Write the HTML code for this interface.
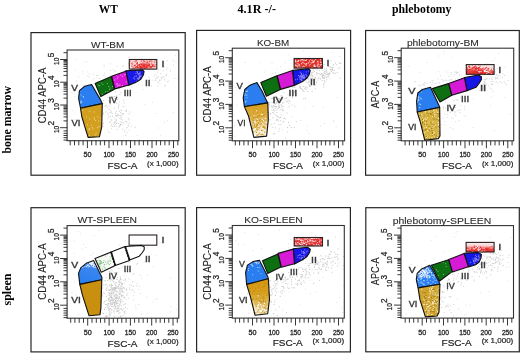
<!DOCTYPE html>
<html><head><meta charset="utf-8"><style>
html,body{margin:0;padding:0;background:#fff;}
body{width:520px;height:353px;overflow:hidden;font-family:"Liberation Sans", sans-serif;}
svg{display:block;will-change:transform;filter:blur(0.3px);}
</style></head><body>
<svg width="520" height="353" viewBox="0 0 520 353">
<rect width="520" height="353" fill="#fff"/>
<defs>
<linearGradient id="goldfade" x1="0" y1="0" x2="0" y2="1">
<stop offset="0" stop-color="#d8a020"/><stop offset="0.3" stop-color="#daa838"/><stop offset="0.6" stop-color="#e6c880"/><stop offset="0.85" stop-color="#f6ead0"/><stop offset="1" stop-color="#fcf6e8"/></linearGradient>
<linearGradient id="goldfade5" x1="0" y1="0" x2="0" y2="1"><stop offset="0" stop-color="#d49610"/><stop offset="0.4" stop-color="#d8a020"/><stop offset="0.7" stop-color="#e2bc60"/><stop offset="1" stop-color="#f2e2bc"/></linearGradient>
<linearGradient id="bluefade" x1="0.7" y1="0" x2="0.4" y2="1">
<stop offset="0" stop-color="#f8fafe"/><stop offset="0.2" stop-color="#dce8fc"/><stop offset="0.32" stop-color="#3a86f0"/><stop offset="1" stop-color="#2a7ef0"/></linearGradient>
<linearGradient id="bluefade2" x1="0" y1="0" x2="1" y2="1">
<stop offset="0" stop-color="#c0d8fa"/><stop offset="0.45" stop-color="#3a88f0"/><stop offset="1" stop-color="#2a7ef0"/></linearGradient>
<linearGradient id="redfade3" x1="0" y1="0" x2="1" y2="1"><stop offset="0" stop-color="#f8d8d8"/><stop offset="0.45" stop-color="#ec5050"/><stop offset="0.7" stop-color="#f09090"/><stop offset="1" stop-color="#fbe4e4"/></linearGradient>
<linearGradient id="redfade" x1="0" y1="0" x2="0" y2="1">
<stop offset="0" stop-color="#fdf0f0"/><stop offset="0.35" stop-color="#f8d0d0"/><stop offset="0.7" stop-color="#ec4a44"/><stop offset="1" stop-color="#e83030"/></linearGradient>
</defs>
<text x="98.8" y="12.8" font-size="11.8" fill="#000" text-anchor="start" font-family='"Liberation Serif", serif' font-weight="bold" textLength="19" lengthAdjust="spacingAndGlyphs">WT</text>
<text x="237.5" y="12.8" font-size="11.8" fill="#000" text-anchor="start" font-family='"Liberation Serif", serif' font-weight="bold" textLength="38.5" lengthAdjust="spacingAndGlyphs">4.1R -/-</text>
<text x="392" y="12.8" font-size="11.8" fill="#000" text-anchor="start" font-family='"Liberation Serif", serif' font-weight="bold" textLength="59.5" lengthAdjust="spacingAndGlyphs">phlebotomy</text>
<text transform="translate(11,153.5) rotate(-90)" font-size="11.8" font-family='"Liberation Serif", serif' font-weight="bold" fill="#000" textLength="67.5" lengthAdjust="spacingAndGlyphs">bone marrow</text>
<text transform="translate(11,305.5) rotate(-90)" font-size="11.8" font-family='"Liberation Serif", serif' font-weight="bold" fill="#000" textLength="32" lengthAdjust="spacingAndGlyphs">spleen</text>
<rect x="31" y="32.6" width="154.2" height="142.6" fill="none" stroke="#262626" stroke-width="1.2"/>
<path fill="#e0e0e0" d="M103.6 64.4h1v1h-1zM139.5 57.4h1v1h-1zM126.9 83.4h1v1h-1zM74.5 96h1v1h-1zM72.2 89.5h1v1h-1zM75.8 59h1v1h-1zM114.7 124.3h1v1h-1zM81.7 70.8h1v1h-1zM136.9 135.1h1v1h-1zM131.4 86.2h1v1h-1zM175.2 55.1h1v1h-1zM162.3 76.7h1v1h-1zM83.9 61.4h1v1h-1zM101.9 123.4h1v1h-1zM87.9 102.6h1v1h-1zM138.2 84h1v1h-1zM128.2 56.6h1v1h-1zM74.6 69.3h1v1h-1zM142.7 88.9h1v1h-1zM102.6 102.9h1v1h-1zM117.8 77.6h1v1h-1zM155.2 113h1v1h-1zM94.9 102h1v1h-1zM125.7 128.6h1v1h-1zM148.1 76.5h1v1h-1zM175.6 61.5h1v1h-1zM114 118.2h1v1h-1zM84.8 94.4h1v1h-1zM72.4 110.3h1v1h-1zM152 101.8h1v1h-1zM164.1 78.8h1v1h-1zM144.4 103.7h1v1h-1zM131.7 91.5h1v1h-1zM160.2 134.8h1v1h-1zM120.1 109.9h1v1h-1zM74.8 113.2h1v1h-1zM139.1 139.1h1v1h-1zM158.3 76.2h1v1h-1zM110.4 110.3h1v1h-1zM70.6 92h1v1h-1zM86.5 61.4h1v1h-1zM74.6 119.1h1v1h-1zM82.3 73h1v1h-1zM111 128.3h1v1h-1zM76.9 90.8h1v1h-1zM128.4 129.4h1v1h-1zM158 127.6h1v1h-1zM98.6 87.8h1v1h-1zM107.5 129.4h1v1h-1zM173.2 64.4h1v1h-1zM87.4 71.6h1v1h-1zM93.7 94h1v1h-1zM132.7 74.3h1v1h-1zM68.5 88.2h1v1h-1zM108.6 101.2h1v1h-1zM172.7 112.2h1v1h-1zM124.6 105.8h1v1h-1zM142.3 55.8h1v1h-1zM166.8 120.2h1v1h-1zM164 121.8h1v1h-1z"/>
<path fill="#d8d8d8" d="M151.7 79.8h1v1h-1zM167 81.2h1v1h-1zM160.8 76.9h1v1h-1zM159.2 79.5h1v1h-1zM156.6 77.7h1v1h-1zM162.6 76h1v1h-1zM164.1 79.4h1v1h-1zM174.1 77.9h1v1h-1zM154.6 73.8h1v1h-1zM157.9 81.5h1v1h-1zM155.3 78.3h1v1h-1zM172.7 60.6h1v1h-1zM149 77.5h1v1h-1zM161.2 77.4h1v1h-1zM154.6 79.9h1v1h-1zM160.3 72.9h1v1h-1zM177.4 78.1h1v1h-1zM153.6 75.4h1v1h-1zM156.2 75.6h1v1h-1zM136.2 73.1h1v1h-1zM166.1 69h1v1h-1zM157.5 81.7h1v1h-1zM164.8 84.9h1v1h-1zM144.4 73.9h1v1h-1zM155.3 79.7h1v1h-1zM166.7 59.9h1v1h-1zM166.7 67.3h1v1h-1zM163.5 67h1v1h-1zM159.4 83.2h1v1h-1zM156.8 77.1h1v1h-1zM164.4 76.8h1v1h-1zM157.3 85.2h1v1h-1zM166.4 74.2h1v1h-1zM165.3 74.4h1v1h-1zM159.1 80.2h1v1h-1zM159.8 79.8h1v1h-1zM145.8 66.9h1v1h-1zM162.9 70.2h1v1h-1zM149.8 67.2h1v1h-1zM168.1 80.5h1v1h-1zM169.8 70.4h1v1h-1zM158 69.2h1v1h-1zM164.1 85.5h1v1h-1zM150.9 85.4h1v1h-1zM165.9 74.9h1v1h-1zM142.2 84.4h1v1h-1zM157.2 72.4h1v1h-1zM161.2 78.5h1v1h-1zM170 69.9h1v1h-1z"/>
<path fill="#cccccc" d="M124 130.8h1v1h-1zM126.2 110.8h1v1h-1zM110.8 125.2h1v1h-1zM116.8 114.5h1v1h-1zM126 109.8h1v1h-1zM99.9 108.4h1v1h-1zM103 122.8h1v1h-1zM118.2 105.7h1v1h-1zM115.9 123h1v1h-1zM116.6 128.9h1v1h-1zM115.6 125.5h1v1h-1zM126.4 132.3h1v1h-1zM111.3 123.6h1v1h-1zM102.9 100h1v1h-1zM102.3 125.8h1v1h-1zM107.4 112.8h1v1h-1zM114.7 112.7h1v1h-1zM111.9 115.8h1v1h-1zM128.5 113.5h1v1h-1zM119.7 125h1v1h-1zM114.6 97.9h1v1h-1zM112.1 125.9h1v1h-1zM104.5 105.8h1v1h-1zM123.1 122.5h1v1h-1zM116.1 122.7h1v1h-1zM117.2 98.9h1v1h-1zM105.1 105.3h1v1h-1zM122.5 106.2h1v1h-1zM109.7 103.7h1v1h-1zM105.3 111.6h1v1h-1zM107.7 117.4h1v1h-1zM99.5 116.9h1v1h-1zM111.5 89.7h1v1h-1zM121.1 109.7h1v1h-1zM100.4 102.5h1v1h-1zM118 107.5h1v1h-1zM121.5 122h1v1h-1zM120.7 116.9h1v1h-1zM125.3 120.9h1v1h-1zM119.2 88h1v1h-1zM122.3 128.7h1v1h-1zM113.9 107.4h1v1h-1zM129.6 91.9h1v1h-1zM109.5 121.3h1v1h-1zM129.2 111.6h1v1h-1zM119.9 123.8h1v1h-1zM109.7 111.9h1v1h-1zM118 122.9h1v1h-1zM115.8 110.7h1v1h-1zM108.9 108.7h1v1h-1zM122.2 114.2h1v1h-1zM110 102.9h1v1h-1zM134.7 126.7h1v1h-1zM120.5 81.9h1v1h-1zM120.4 118.8h1v1h-1zM127.8 118.1h1v1h-1zM115.5 119.3h1v1h-1zM102.4 125.4h1v1h-1zM118.3 104.6h1v1h-1zM125.3 134.7h1v1h-1zM106.2 105h1v1h-1zM118 115.2h1v1h-1zM113.2 101.3h1v1h-1zM130.8 125.4h1v1h-1zM107.6 96.9h1v1h-1zM127.9 124.9h1v1h-1zM128.7 122.7h1v1h-1zM109.9 116.1h1v1h-1zM100.9 104h1v1h-1zM115.6 119.3h1v1h-1zM110.9 111.5h1v1h-1zM119.2 117.5h1v1h-1zM120.5 115.5h1v1h-1zM113.7 122.5h1v1h-1zM116.3 103.1h1v1h-1zM111.6 113h1v1h-1zM115.2 114.9h1v1h-1zM116 115.1h1v1h-1zM115.1 97.9h1v1h-1zM118.9 125.6h1v1h-1zM119 110.7h1v1h-1zM119.1 101.4h1v1h-1zM102.7 113.7h1v1h-1zM109.5 121.9h1v1h-1zM108.4 81.5h1v1h-1zM108.7 131.9h1v1h-1zM113.3 96.6h1v1h-1zM110.7 119.3h1v1h-1zM119.5 115.1h1v1h-1zM126.4 121.5h1v1h-1zM115.9 120.2h1v1h-1zM127.6 124.7h1v1h-1zM123.2 100h1v1h-1zM115 121.8h1v1h-1zM113.9 125.8h1v1h-1zM120.2 123.9h1v1h-1zM124.7 110.4h1v1h-1zM113.6 123.5h1v1h-1zM122.9 113.1h1v1h-1zM107.8 115.3h1v1h-1zM118.5 126.6h1v1h-1zM121.5 113.3h1v1h-1zM122 119.5h1v1h-1zM117.4 113.7h1v1h-1zM114.3 121.2h1v1h-1zM108.6 105.5h1v1h-1zM116 95.4h1v1h-1zM112.9 88.9h1v1h-1zM111.2 119.8h1v1h-1zM120 112.3h1v1h-1zM114.4 96h1v1h-1zM128.8 119.2h1v1h-1zM123.7 102.4h1v1h-1zM114.7 91.2h1v1h-1zM121.5 124.2h1v1h-1zM102.7 112.4h1v1h-1zM120.4 91.9h1v1h-1zM103.2 100.2h1v1h-1zM111.6 96.2h1v1h-1zM116.2 116h1v1h-1zM120.4 121.4h1v1h-1zM126.5 127h1v1h-1zM106.8 106.9h1v1h-1zM108.6 100.1h1v1h-1zM115.4 113.1h1v1h-1zM119.4 94h1v1h-1zM107.3 112.7h1v1h-1z"/>
<path fill="#dcdcdc" d="M122.2 72.1h1v1h-1zM96.7 77.4h1v1h-1zM121.9 74.6h1v1h-1zM129.7 64.5h1v1h-1zM103.6 66.1h1v1h-1zM112.9 68.9h1v1h-1zM87.9 84.2h1v1h-1zM96.2 74.9h1v1h-1zM82.6 85h1v1h-1zM116.6 66h1v1h-1zM104 72.7h1v1h-1zM88.6 76.5h1v1h-1zM134.5 64.1h1v1h-1zM109.7 63.2h1v1h-1zM104.4 75.5h1v1h-1zM133.3 70h1v1h-1zM78 76.2h1v1h-1zM89.3 73.6h1v1h-1zM127.9 63h1v1h-1zM128.5 65.7h1v1h-1zM75.8 80.2h1v1h-1zM98.9 78h1v1h-1zM97.5 74.7h1v1h-1zM122.4 66.3h1v1h-1zM129 56.8h1v1h-1zM93.2 78.2h1v1h-1zM131.7 62h1v1h-1zM103.3 74.4h1v1h-1zM87.3 75.5h1v1h-1zM131.5 68.2h1v1h-1zM109.5 75.4h1v1h-1zM138.1 59.8h1v1h-1zM122.8 65h1v1h-1zM110 70h1v1h-1zM113.9 70.3h1v1h-1zM115.2 70.9h1v1h-1zM134.1 68.4h1v1h-1zM97 80.8h1v1h-1zM133.3 70.2h1v1h-1zM92.8 73.8h1v1h-1z"/>
<polygon points="129.3,59.5 156.8,59.5 156.8,69.1 129.3,69.1" fill="#f8dede"/>
<path fill="#e42c2c" d="M145.4 66.5h1v1h-1zM138.9 65.3h1v1h-1zM140.1 65.7h1v1h-1zM144.5 66.3h1v1h-1zM141.9 66.2h1v1h-1zM143.8 67.2h1v1h-1zM131.2 63.2h1v1h-1zM143.5 62.8h1v1h-1zM136.7 66.8h1v1h-1zM139.3 66.8h1v1h-1zM148.3 66h1v1h-1zM146.8 65h1v1h-1zM134.3 65.2h1v1h-1zM146.5 64h1v1h-1zM142.9 67.1h1v1h-1zM137.8 66.8h1v1h-1zM155.6 64h1v1h-1zM144.5 64.9h1v1h-1zM153.5 66.1h1v1h-1zM149.3 63.6h1v1h-1zM143.4 65.3h1v1h-1zM149.3 61.1h1v1h-1zM148.3 65h1v1h-1zM146.4 66.2h1v1h-1zM133.8 64.8h1v1h-1zM153.2 63.9h1v1h-1zM136.9 62h1v1h-1zM135.6 66.1h1v1h-1zM154.5 66.3h1v1h-1zM140.1 63.7h1v1h-1zM146.9 66.6h1v1h-1zM136.9 62.5h1v1h-1zM145.4 65.9h1v1h-1zM135 64.8h1v1h-1zM140 66.4h1v1h-1zM142.7 65.1h1v1h-1zM141.2 67.8h1v1h-1zM152.5 64.4h1v1h-1zM149 63.5h1v1h-1zM144 67.1h1v1h-1zM153.3 64.4h1v1h-1zM143 65.8h1v1h-1zM133.8 65.3h1v1h-1zM139.1 66.2h1v1h-1zM136.2 60.6h1v1h-1zM143.7 65.9h1v1h-1zM139.9 67.4h1v1h-1zM141.7 63.8h1v1h-1zM146.6 61.5h1v1h-1zM139.1 65.3h1v1h-1zM149 64.9h1v1h-1zM145.5 63.7h1v1h-1zM139.3 65.3h1v1h-1zM144.6 67.8h1v1h-1zM135.5 60.3h1v1h-1zM147.4 67.2h1v1h-1zM144.8 65.9h1v1h-1zM149.5 66.2h1v1h-1zM154.3 62.3h1v1h-1zM148.8 64.4h1v1h-1zM143.5 64.7h1v1h-1zM140.3 63.3h1v1h-1zM139.4 66.8h1v1h-1zM143.7 65.5h1v1h-1zM142.4 67.5h1v1h-1zM146.7 65h1v1h-1zM147.8 64.9h1v1h-1zM146.5 63h1v1h-1zM150.5 66.1h1v1h-1zM145.7 67.4h1v1h-1zM144.8 64.9h1v1h-1zM133.4 67.6h1v1h-1zM143.7 64.6h1v1h-1zM145.8 65.5h1v1h-1zM147.9 64.4h1v1h-1zM143.3 60.2h1v1h-1zM140.7 66.9h1v1h-1zM152.2 64.4h1v1h-1zM141.4 67.1h1v1h-1zM154.4 65.4h1v1h-1zM151.5 63.6h1v1h-1zM144.8 65.1h1v1h-1zM144.2 68h1v1h-1zM139.8 66.5h1v1h-1zM136.6 66.5h1v1h-1zM147.2 64.6h1v1h-1zM147 61.6h1v1h-1zM148.4 61.6h1v1h-1zM139 64h1v1h-1zM140.9 67.4h1v1h-1zM144 64.3h1v1h-1zM143.5 66.2h1v1h-1zM151.6 65.9h1v1h-1zM143.2 66.3h1v1h-1zM149.8 66.9h1v1h-1zM141.7 62.8h1v1h-1zM144.2 67.8h1v1h-1zM136.4 62.8h1v1h-1zM143.3 60.7h1v1h-1zM141.8 64.3h1v1h-1zM146.4 63.6h1v1h-1zM137.8 64.4h1v1h-1zM143.2 63.7h1v1h-1zM143.6 67.1h1v1h-1zM138.4 64.3h1v1h-1zM138.8 65.2h1v1h-1zM146.9 62h1v1h-1zM146.5 65.2h1v1h-1zM131.6 66h1v1h-1zM151.3 60.8h1v1h-1zM148.7 65.8h1v1h-1zM146.6 66.4h1v1h-1zM152 64.8h1v1h-1zM149.2 64.3h1v1h-1zM148.2 63.3h1v1h-1zM146.4 64.9h1v1h-1zM136.1 63.4h1v1h-1zM144.8 67.6h1v1h-1zM146.3 66.6h1v1h-1zM143.2 68.5h1v1h-1zM141 64h1v1h-1zM149.3 65.5h1v1h-1zM141.7 63.9h1v1h-1zM141.8 66.8h1v1h-1zM145.8 62.4h1v1h-1zM146.3 65.7h1v1h-1zM137 67.2h1v1h-1zM141.7 64.5h1v1h-1zM148.7 68.5h1v1h-1zM139 66.4h1v1h-1zM140.3 68.2h1v1h-1zM139.3 67.2h1v1h-1zM140.7 66.5h1v1h-1zM142.9 63.7h1v1h-1zM132.8 67.3h1v1h-1zM132.3 68.1h1v1h-1zM139.7 65.6h1v1h-1zM151.7 65.6h1v1h-1zM134.5 61.2h1v1h-1zM151.2 67.1h1v1h-1zM138.2 67.4h1v1h-1zM146.7 66.9h1v1h-1zM128.8 64.6h1v1h-1zM149.4 67.1h1v1h-1zM149.2 59.4h1v1h-1zM144.6 66.5h1v1h-1zM141.4 65.4h1v1h-1zM149.3 64.2h1v1h-1zM151 63.4h1v1h-1zM145.2 64h1v1h-1zM144.5 63.6h1v1h-1zM133.1 67.9h1v1h-1zM145.5 64h1v1h-1zM144.8 67.7h1v1h-1zM137.1 65h1v1h-1zM147 66.6h1v1h-1zM141.3 60.2h1v1h-1zM151.6 66.1h1v1h-1zM143.6 64.6h1v1h-1zM145.2 64.3h1v1h-1zM136.8 63.5h1v1h-1zM139.6 63.8h1v1h-1zM136 66.8h1v1h-1zM135 66.9h1v1h-1zM136.9 66.1h1v1h-1zM152.4 65.8h1v1h-1zM138.7 65.4h1v1h-1zM144.5 61.1h1v1h-1zM139.6 65.7h1v1h-1zM140.5 65.5h1v1h-1z"/>
<path fill="#ee8080" d="M132.3 63.1h1v1h-1zM131.3 63.2h1v1h-1zM142.8 59.4h1v1h-1zM146.3 59.8h1v1h-1zM149 66.5h1v1h-1zM142.9 59.5h1v1h-1zM142.7 62.6h1v1h-1zM154.9 60.3h1v1h-1zM152.4 68.6h1v1h-1zM148.9 66.8h1v1h-1zM134.1 68.4h1v1h-1zM142.3 68.2h1v1h-1zM154 60.6h1v1h-1zM150.5 67.9h1v1h-1zM130.6 62.4h1v1h-1zM149.6 60.5h1v1h-1zM153.5 61.6h1v1h-1zM151.2 60.4h1v1h-1zM142.6 67.8h1v1h-1zM134.5 61.5h1v1h-1zM142.7 62.1h1v1h-1zM129.8 60.7h1v1h-1zM133.2 68h1v1h-1zM147.5 67.6h1v1h-1zM133.4 66.5h1v1h-1zM132 64.1h1v1h-1zM146.3 62.5h1v1h-1zM152.8 64.3h1v1h-1zM144.8 67.5h1v1h-1zM131.7 68.5h1v1h-1zM146.1 62.8h1v1h-1zM150.7 61.5h1v1h-1zM156 64.5h1v1h-1zM138.7 66.3h1v1h-1zM141 60.7h1v1h-1zM149.2 59.5h1v1h-1zM151.3 61.4h1v1h-1zM146.4 68.4h1v1h-1zM144.9 65.4h1v1h-1zM137.4 59h1v1h-1zM129.7 60.4h1v1h-1zM145.7 63.1h1v1h-1zM142.9 67.6h1v1h-1zM132.4 61.2h1v1h-1zM146.8 59.2h1v1h-1zM128.9 62.4h1v1h-1zM131.7 62.4h1v1h-1zM135 64.6h1v1h-1zM145 61h1v1h-1zM146 63.6h1v1h-1zM132.5 68h1v1h-1zM135.5 60.4h1v1h-1zM131.4 65.1h1v1h-1zM152.8 66.5h1v1h-1zM139.9 61.5h1v1h-1zM129.1 65.2h1v1h-1zM144.3 62.4h1v1h-1zM146.6 63.3h1v1h-1zM154.6 66h1v1h-1zM135.6 67.7h1v1h-1z"/>
<rect x="129.3" y="59.5" width="27.5" height="9.6" fill="none" stroke="#2a2222" stroke-width="1.1"/>
<polygon points="125.8,70.8 142.6,69.9 144.1,71.6 143.2,75.2 140.8,79.2 135.5,82.6 128.8,85.2" fill="#1a1ae8"/>
<path fill="#8c8cf8" d="M136.7 77.7h1v1h-1zM140 75.9h1v1h-1zM134.2 76.3h1v1h-1zM139.2 74.8h1v1h-1zM137.6 78.9h1v1h-1zM139.5 71.8h1v1h-1zM138.4 73.1h1v1h-1zM138.3 73.2h1v1h-1zM138.7 77.9h1v1h-1zM138.6 77.3h1v1h-1zM135.9 80.8h1v1h-1zM136.5 71h1v1h-1zM137.9 74.2h1v1h-1zM135.5 75.4h1v1h-1zM139.4 73h1v1h-1zM140.5 76h1v1h-1zM138.9 76.1h1v1h-1zM138.4 78.7h1v1h-1zM138.4 73.8h1v1h-1zM140.5 74.7h1v1h-1zM135.4 73.1h1v1h-1zM132.9 77.6h1v1h-1zM136.6 70.9h1v1h-1zM134.1 78.4h1v1h-1zM136.2 75.4h1v1h-1zM138.9 77.1h1v1h-1zM137.6 77.9h1v1h-1zM139.4 76.7h1v1h-1zM137 72.5h1v1h-1zM136.9 71.9h1v1h-1z"/>
<polygon points="125.8,70.8 142.6,69.9 144.1,71.6 143.2,75.2 140.8,79.2 135.5,82.6 128.8,85.2" fill="none" stroke="#111" stroke-width="1.1" stroke-linejoin="round"/>
<polygon points="111.6,76.3 125.8,71.2 128.8,85 114.7,88.9" fill="#d616d6"/>
<path fill="#f2a6f2" d="M117.4 85.2h1v1h-1zM125.7 85.1h1v1h-1zM122 85.3h1v1h-1zM122 75.8h1v1h-1zM124.1 74.3h1v1h-1zM116.6 78.2h1v1h-1zM116 83.4h1v1h-1zM117.4 76.4h1v1h-1zM125.7 81.6h1v1h-1zM118.6 84.4h1v1h-1zM117.1 83.2h1v1h-1zM120.4 74.5h1v1h-1zM125.2 73.7h1v1h-1zM119.6 84.8h1v1h-1zM114.3 79.5h1v1h-1zM117.1 85.4h1v1h-1zM115.6 87.4h1v1h-1zM116 74.5h1v1h-1z"/>
<polygon points="111.6,76.3 125.8,71.2 128.8,85 114.7,88.9" fill="none" stroke="#111" stroke-width="1.1" stroke-linejoin="round"/>
<polygon points="95.1,83.4 111.4,76.5 114.4,89.2 100.8,96.6" fill="#0e6e12"/>
<path fill="#78b878" d="M108.1 86h1v1h-1zM108.1 91.8h1v1h-1zM106.7 83.1h1v1h-1zM102.3 83.9h1v1h-1zM98.6 81.3h1v1h-1zM112 86.1h1v1h-1zM101.9 93.8h1v1h-1zM99.1 85.3h1v1h-1zM104.9 91.2h1v1h-1zM109.1 89h1v1h-1zM101.3 82.6h1v1h-1zM107.4 90.9h1v1h-1zM97.9 84.8h1v1h-1zM109.5 87.6h1v1h-1z"/>
<polygon points="95.1,83.4 111.4,76.5 114.4,89.2 100.8,96.6" fill="none" stroke="#111" stroke-width="1.1" stroke-linejoin="round"/>
<polygon points="79.5,90.6 84.7,86.2 91.6,84.5 100.3,99.4 102.3,103.5 80.5,108 78.6,98.1" fill="#2a7ef0"/>
<path fill="#a8d0ff" d="M81.1 102.3h1v1h-1zM80.6 94.6h1v1h-1zM80.1 102.2h1v1h-1zM80.2 100.4h1v1h-1zM79.5 102.8h1v1h-1zM78.3 97h1v1h-1zM78.9 100.9h1v1h-1zM82.7 96h1v1h-1zM83.6 106.7h1v1h-1zM81.1 101h1v1h-1zM83 96.4h1v1h-1zM79.3 91.1h1v1h-1z"/>
<polygon points="79.5,90.6 84.7,86.2 91.6,84.5 100.3,99.4 102.3,103.5 80.5,108 78.6,98.1" fill="none" stroke="#111" stroke-width="1.1" stroke-linejoin="round"/>
<polygon points="80.5,108.2 102.3,103.6 101.7,127.2 99.4,136.8 88.1,137.4 81.9,117" fill="#d2a01e"/>
<path fill="#eed28c" d="M84.3 124.7h1v1h-1zM82.3 110.1h1v1h-1zM88.7 129.8h1v1h-1zM95.1 120h1v1h-1zM93.8 118.8h1v1h-1zM88.8 128.1h1v1h-1zM99.8 117.6h1v1h-1zM92.5 128.4h1v1h-1zM89.2 110.8h1v1h-1zM95.7 132.8h1v1h-1zM96.9 126.8h1v1h-1zM98.6 126.1h1v1h-1zM94 118.4h1v1h-1zM86.8 124.3h1v1h-1zM82.1 117.3h1v1h-1zM97.1 127.2h1v1h-1zM93.7 111.6h1v1h-1zM89.2 118.5h1v1h-1zM93.6 116.9h1v1h-1zM94.7 134.5h1v1h-1zM97 116.2h1v1h-1zM90.7 136h1v1h-1zM100.5 120.6h1v1h-1zM91.8 127.3h1v1h-1zM91.2 124.7h1v1h-1zM98.1 120.7h1v1h-1zM88.9 135.1h1v1h-1zM84.6 126.2h1v1h-1zM88.6 128.9h1v1h-1zM86 116.6h1v1h-1z"/>
<polygon points="80.5,108.2 102.3,103.6 101.7,127.2 99.4,136.8 88.1,137.4 81.9,117" fill="none" stroke="#111" stroke-width="1.1" stroke-linejoin="round"/>
<rect x="67.1" y="50" width="111.7" height="90.7" fill="none" stroke="#333" stroke-width="1.1"/>
<text x="162.9" y="67.3" font-size="9" fill="#383838" text-anchor="middle" font-family='"Liberation Sans", sans-serif' font-weight="normal" textLength="3" lengthAdjust="spacingAndGlyphs" stroke="#383838" stroke-width="0.4">I</text>
<text x="147.8" y="86" font-size="9" fill="#383838" text-anchor="middle" font-family='"Liberation Sans", sans-serif' font-weight="normal" textLength="5.8" lengthAdjust="spacingAndGlyphs" stroke="#383838" stroke-width="0.4">II</text>
<text x="127.7" y="96.4" font-size="9" fill="#383838" text-anchor="middle" font-family='"Liberation Sans", sans-serif' font-weight="normal" textLength="8" lengthAdjust="spacingAndGlyphs" stroke="#383838" stroke-width="0.4">III</text>
<text x="113" y="102.6" font-size="9" fill="#383838" text-anchor="middle" font-family='"Liberation Sans", sans-serif' font-weight="normal" textLength="8.5" lengthAdjust="spacingAndGlyphs" stroke="#383838" stroke-width="0.4">IV</text>
<text x="74.7" y="91.3" font-size="9" fill="#383838" text-anchor="middle" font-family='"Liberation Sans", sans-serif' font-weight="normal" textLength="6.7" lengthAdjust="spacingAndGlyphs" stroke="#383838" stroke-width="0.4">V</text>
<text x="76" y="125.5" font-size="9" fill="#383838" text-anchor="middle" font-family='"Liberation Sans", sans-serif' font-weight="normal" textLength="8.9" lengthAdjust="spacingAndGlyphs" stroke="#383838" stroke-width="0.4">VI</text>
<text x="91" y="48" font-size="9.7" fill="#2a2a2a" text-anchor="start" font-family='"Liberation Sans", sans-serif' font-weight="normal" textLength="33.4" lengthAdjust="spacingAndGlyphs" stroke="#2a2a2a" stroke-width="0.1">WT-BM</text>
<text transform="translate(45.6,95.5) rotate(-90)" font-size="10" font-family='"Liberation Sans", sans-serif' fill="#222" stroke="#222" stroke-width="0.12" text-anchor="middle" textLength="55.6" lengthAdjust="spacingAndGlyphs">CD44 APC-A</text>
<path d="M70.2 140.7v4.6M74.5 140.7v4.6M78.8 140.7v4.6M83.1 140.7v4.6M87.4 140.7v7.4M91.7 140.7v4.6M96 140.7v4.6M100.3 140.7v4.6M104.6 140.7v4.6M109 140.7v7.4M113.3 140.7v4.6M117.6 140.7v4.6M121.9 140.7v4.6M126.2 140.7v4.6M130.5 140.7v7.4M134.8 140.7v4.6M139.1 140.7v4.6M143.4 140.7v4.6M147.7 140.7v4.6M152 140.7v7.4M156.3 140.7v4.6M160.6 140.7v4.6M164.9 140.7v4.6M169.2 140.7v4.6M173.5 140.7v7.4M177.8 140.7v4.6M60.1 127.7h7M63.5 120.9h3.6M63.5 116.9h3.6M63.5 114h3.6M63.5 111.8h3.6M63.5 110h3.6M63.5 108.5h3.6M63.5 107.2h3.6M63.5 106h3.6M60.1 105h7M63.5 98.1h3.6M63.5 94.1h3.6M63.5 91.3h3.6M63.5 89.1h3.6M63.5 87.3h3.6M63.5 85.8h3.6M63.5 84.4h3.6M63.5 83.3h3.6M60.1 82.2h7M63.5 75.4h3.6M63.5 71.4h3.6M63.5 68.5h3.6M63.5 66.3h3.6M63.5 64.5h3.6M63.5 63h3.6M63.5 61.7h3.6M63.5 60.5h3.6M60.1 59.5h7M63.5 52.7h3.6M63.5 130.9h3.6M63.5 133.3h3.6M63.5 135.5h3.6M63.5 137.7h3.6M63.5 140.1h3.6" stroke="#222" stroke-width="0.9" fill="none"/>
<text x="87.4" y="157.2" font-size="7.6" fill="#222" text-anchor="middle" font-family='"Liberation Sans", sans-serif' font-weight="normal" textLength="8" lengthAdjust="spacingAndGlyphs" stroke="#222" stroke-width="0.3">50</text>
<text x="109" y="157.2" font-size="7.6" fill="#222" text-anchor="middle" font-family='"Liberation Sans", sans-serif' font-weight="normal" textLength="11.2" lengthAdjust="spacingAndGlyphs" stroke="#222" stroke-width="0.3">100</text>
<text x="130.5" y="157.2" font-size="7.6" fill="#222" text-anchor="middle" font-family='"Liberation Sans", sans-serif' font-weight="normal" textLength="11.2" lengthAdjust="spacingAndGlyphs" stroke="#222" stroke-width="0.3">150</text>
<text x="152" y="157.2" font-size="7.6" fill="#222" text-anchor="middle" font-family='"Liberation Sans", sans-serif' font-weight="normal" textLength="11.2" lengthAdjust="spacingAndGlyphs" stroke="#222" stroke-width="0.3">200</text>
<text x="173.5" y="157.2" font-size="7.6" fill="#222" text-anchor="middle" font-family='"Liberation Sans", sans-serif' font-weight="normal" textLength="11.2" lengthAdjust="spacingAndGlyphs" stroke="#222" stroke-width="0.3">250</text>
<text x="107.4" y="169" font-size="9.9" fill="#222" text-anchor="start" font-family='"Liberation Sans", sans-serif' font-weight="normal" textLength="30" lengthAdjust="spacingAndGlyphs" stroke="#222" stroke-width="0.2">FSC-A</text>
<text x="147" y="166" font-size="7.9" fill="#222" text-anchor="start" font-family='"Liberation Sans", sans-serif' font-weight="normal" textLength="31.6" lengthAdjust="spacingAndGlyphs" stroke="#222" stroke-width="0.2">(x 1,000)</text>
<g transform="translate(58.5,133.1) rotate(-90)" font-family='"Liberation Sans", sans-serif' fill="#222" stroke="#222" stroke-width="0.25"><text x="0" y="0" font-size="7.8" textLength="7.4" lengthAdjust="spacingAndGlyphs">10</text><text x="7.6" y="-5.0" font-size="8.2">2</text></g>
<g transform="translate(58.5,110.4) rotate(-90)" font-family='"Liberation Sans", sans-serif' fill="#222" stroke="#222" stroke-width="0.25"><text x="0" y="0" font-size="7.8" textLength="7.4" lengthAdjust="spacingAndGlyphs">10</text><text x="7.6" y="-5.0" font-size="8.2">3</text></g>
<g transform="translate(58.5,87.6) rotate(-90)" font-family='"Liberation Sans", sans-serif' fill="#222" stroke="#222" stroke-width="0.25"><text x="0" y="0" font-size="7.8" textLength="7.4" lengthAdjust="spacingAndGlyphs">10</text><text x="7.6" y="-5.0" font-size="8.2">4</text></g>
<g transform="translate(58.5,64.9) rotate(-90)" font-family='"Liberation Sans", sans-serif' fill="#222" stroke="#222" stroke-width="0.25"><text x="0" y="0" font-size="7.8" textLength="7.4" lengthAdjust="spacingAndGlyphs">10</text><text x="7.6" y="-5.0" font-size="8.2">5</text></g>
<rect x="196.6" y="30.4" width="154" height="144.8" fill="none" stroke="#262626" stroke-width="1.2"/>
<path fill="#e0e0e0" d="M234.8 87.1h1v1h-1zM279.7 112.5h1v1h-1zM272.1 73.2h1v1h-1zM258.1 116.4h1v1h-1zM337 97h1v1h-1zM257.4 121.8h1v1h-1zM276.5 68.4h1v1h-1zM247.6 119.6h1v1h-1zM322.6 106.7h1v1h-1zM285 100.1h1v1h-1zM258.2 136.5h1v1h-1zM272.3 107.1h1v1h-1zM323.6 123.1h1v1h-1zM284.9 75.9h1v1h-1zM293.8 60.5h1v1h-1zM325.3 81.3h1v1h-1zM327.1 73.4h1v1h-1zM274.8 72.2h1v1h-1zM280.3 66h1v1h-1zM233.6 114.6h1v1h-1zM264.3 71.4h1v1h-1zM266.6 92.6h1v1h-1zM280.6 106.9h1v1h-1zM306 82h1v1h-1zM335.7 126.6h1v1h-1zM239.6 124.2h1v1h-1zM333.2 120.2h1v1h-1zM248.8 124.5h1v1h-1zM303.1 50.6h1v1h-1zM234.6 135.4h1v1h-1zM305.7 71.9h1v1h-1zM244.5 62.1h1v1h-1zM259.1 119.5h1v1h-1zM271.5 63h1v1h-1zM333 120.9h1v1h-1zM251.8 129.9h1v1h-1zM300.4 120h1v1h-1zM307 130.2h1v1h-1zM320.2 125.2h1v1h-1zM255.1 112h1v1h-1zM291.8 116.4h1v1h-1zM281.7 129.2h1v1h-1zM294.5 73.2h1v1h-1zM259.1 61.8h1v1h-1zM287.7 54.5h1v1h-1zM284.8 62.3h1v1h-1zM287.5 94.3h1v1h-1zM292.8 127.4h1v1h-1zM234 125.4h1v1h-1zM284.9 100.2h1v1h-1zM306.7 125.4h1v1h-1zM274.7 87.1h1v1h-1zM339.3 56h1v1h-1zM303.6 106.8h1v1h-1zM236.4 104.4h1v1h-1zM308.6 133.6h1v1h-1zM269.7 138.1h1v1h-1zM289.6 93.1h1v1h-1zM332.3 52.3h1v1h-1zM312.5 105.9h1v1h-1z"/>
<path fill="#c8c8c8" d="M294.2 90.9h1v1h-1zM294.4 87h1v1h-1zM278.9 100.8h1v1h-1zM308.3 81.8h1v1h-1zM322 75.9h1v1h-1zM276.2 96.2h1v1h-1zM314.8 77h1v1h-1zM288.6 99.7h1v1h-1zM312.7 80.2h1v1h-1zM322.4 74.3h1v1h-1zM271.3 106.3h1v1h-1zM286.1 97.4h1v1h-1zM316.2 71.9h1v1h-1zM306.6 78.5h1v1h-1zM311.8 75.3h1v1h-1zM280.7 95.2h1v1h-1zM323.4 77.5h1v1h-1zM271.9 97.7h1v1h-1zM308.8 85.9h1v1h-1zM320.2 73.8h1v1h-1zM286.1 97h1v1h-1zM292.3 82.7h1v1h-1zM270.8 105.2h1v1h-1zM278.3 98.1h1v1h-1zM331.7 69.6h1v1h-1zM287.2 86.6h1v1h-1zM332.6 67.4h1v1h-1zM273.4 101.5h1v1h-1zM279 101.7h1v1h-1zM323.4 86.5h1v1h-1zM275.6 102.8h1v1h-1zM268.7 104.3h1v1h-1zM319.8 78.4h1v1h-1zM320.4 67.8h1v1h-1zM323.9 80.2h1v1h-1zM308.6 80.5h1v1h-1zM292 95.9h1v1h-1zM274.6 108.1h1v1h-1zM328.2 75.3h1v1h-1zM323.1 84.2h1v1h-1zM305.6 89h1v1h-1zM302.7 86.1h1v1h-1zM279.3 98.3h1v1h-1zM310.3 77.9h1v1h-1zM297.2 82.4h1v1h-1zM319.9 73.7h1v1h-1zM278.4 104.4h1v1h-1zM323.2 78h1v1h-1zM339.1 62.2h1v1h-1zM282.1 98.7h1v1h-1zM292.2 87.2h1v1h-1zM331.9 67.3h1v1h-1zM267.8 112.1h1v1h-1zM312.4 75.7h1v1h-1zM274.6 99.9h1v1h-1zM325.8 70.2h1v1h-1zM329.7 66.6h1v1h-1zM331 71h1v1h-1zM307.5 82.2h1v1h-1zM323.2 75.3h1v1h-1zM308.5 78.5h1v1h-1zM282.3 106h1v1h-1zM321.8 75.2h1v1h-1zM324.9 71.2h1v1h-1zM315.2 78.6h1v1h-1zM299.3 86.9h1v1h-1zM282.1 102.4h1v1h-1zM313.7 82.5h1v1h-1zM293.9 90.9h1v1h-1zM275 106.1h1v1h-1zM270.7 98.3h1v1h-1zM275.9 99.3h1v1h-1zM305.4 86.3h1v1h-1zM340.4 63h1v1h-1zM307.2 91.1h1v1h-1zM304.3 87.9h1v1h-1zM328.3 72.9h1v1h-1zM271.4 108.8h1v1h-1zM278.7 106.1h1v1h-1zM319.6 73.9h1v1h-1zM336.7 71.9h1v1h-1zM303.2 98.2h1v1h-1zM280.7 94.9h1v1h-1zM333 64.3h1v1h-1zM305 97.9h1v1h-1zM337.6 67.5h1v1h-1zM280.7 104.2h1v1h-1zM332 68.9h1v1h-1zM321.6 69.4h1v1h-1zM339.1 67.4h1v1h-1zM326.4 74.1h1v1h-1zM283.3 91.8h1v1h-1zM274 106.3h1v1h-1zM274.3 103.1h1v1h-1zM288.4 102.7h1v1h-1zM268.3 104.9h1v1h-1zM273.1 105.2h1v1h-1zM339 62.5h1v1h-1zM276.1 102.7h1v1h-1zM336.1 64.3h1v1h-1zM295.7 95.3h1v1h-1zM299.9 86.3h1v1h-1zM289.4 100.9h1v1h-1zM311.7 91.1h1v1h-1zM284.7 98h1v1h-1zM288.9 93.6h1v1h-1zM276.3 101.2h1v1h-1zM339.6 77.4h1v1h-1zM276.7 102h1v1h-1zM279.5 99.6h1v1h-1zM287.2 100.8h1v1h-1zM272.7 112.2h1v1h-1zM271.5 102.3h1v1h-1zM292 93.9h1v1h-1zM323.7 72.6h1v1h-1zM300.9 88.2h1v1h-1zM309.6 85.9h1v1h-1zM321.3 73.1h1v1h-1zM278.2 107.5h1v1h-1zM302.3 89.9h1v1h-1zM309 75.2h1v1h-1zM309.2 84.9h1v1h-1zM313.9 80.7h1v1h-1zM273.2 102.3h1v1h-1zM330 69.1h1v1h-1zM272.9 104.9h1v1h-1zM328.8 73.9h1v1h-1zM324.6 74.8h1v1h-1zM293.7 92.2h1v1h-1zM299.8 87.8h1v1h-1zM274.8 95.7h1v1h-1zM325.9 77.3h1v1h-1zM294.7 90.6h1v1h-1zM333.6 70h1v1h-1zM299.1 85.5h1v1h-1zM272.2 106.6h1v1h-1zM283.2 102.2h1v1h-1zM327 74h1v1h-1zM317.2 79.4h1v1h-1zM305.6 80.6h1v1h-1zM323.6 83.4h1v1h-1zM320.2 78.5h1v1h-1zM299.3 87.3h1v1h-1zM274.7 104.1h1v1h-1zM310.9 81.4h1v1h-1zM308 81.5h1v1h-1zM329.5 71.8h1v1h-1zM300 86.2h1v1h-1zM302.2 88.9h1v1h-1zM291.9 97.4h1v1h-1zM305.7 88.9h1v1h-1zM335 62.5h1v1h-1zM261.7 104.7h1v1h-1zM333.4 72.9h1v1h-1zM309 85.1h1v1h-1zM268.5 107h1v1h-1zM276.2 115.3h1v1h-1zM327.6 73.2h1v1h-1zM330.9 68.5h1v1h-1zM268.4 104.1h1v1h-1zM314.8 84.5h1v1h-1zM330.5 67.1h1v1h-1zM295.4 90.1h1v1h-1zM286.2 101.4h1v1h-1zM268.1 97.4h1v1h-1zM303.4 90.9h1v1h-1zM306.6 87.2h1v1h-1zM276.1 106.4h1v1h-1z"/>
<path fill="#cccccc" d="M318.6 77.6h1v1h-1zM328.6 77.3h1v1h-1zM325.9 68.2h1v1h-1zM309.5 70.9h1v1h-1zM323.8 81.5h1v1h-1zM310.2 75.5h1v1h-1zM313.2 70.3h1v1h-1zM317.8 77.5h1v1h-1zM321.7 79.9h1v1h-1zM312.1 78.4h1v1h-1zM327.4 74.3h1v1h-1zM323.8 71.2h1v1h-1zM311.3 72h1v1h-1zM314.9 88.5h1v1h-1zM316.1 82.3h1v1h-1zM321.6 75.6h1v1h-1zM325.9 70.1h1v1h-1zM327.3 75.9h1v1h-1zM307.9 77h1v1h-1zM324.4 76.3h1v1h-1zM332.7 71.9h1v1h-1zM324.1 77.7h1v1h-1zM312.8 80h1v1h-1zM308.4 67.5h1v1h-1zM324.2 68.6h1v1h-1zM319.1 65.8h1v1h-1zM320.6 68.3h1v1h-1zM322.7 66.3h1v1h-1zM323.6 72.7h1v1h-1zM320.5 73.7h1v1h-1zM321 67.4h1v1h-1zM299.5 74.2h1v1h-1zM312.5 71.7h1v1h-1zM323.4 64.1h1v1h-1zM313.9 70.9h1v1h-1zM311.5 75.6h1v1h-1zM318.9 69.9h1v1h-1zM312.1 78h1v1h-1zM314.7 76.9h1v1h-1zM323.6 64.5h1v1h-1zM311.3 74h1v1h-1zM322.7 77.9h1v1h-1zM326.4 79.2h1v1h-1zM317 72.9h1v1h-1zM326.2 71.9h1v1h-1zM328.5 66.1h1v1h-1zM325.2 73.1h1v1h-1zM304.3 78.9h1v1h-1zM322.5 74.1h1v1h-1zM311.4 71.7h1v1h-1zM332.1 69.9h1v1h-1zM292.2 69.7h1v1h-1zM310.4 73.3h1v1h-1zM316.9 69.4h1v1h-1zM313.3 79.2h1v1h-1zM308.5 83.8h1v1h-1zM315.6 68.5h1v1h-1zM326.3 76.8h1v1h-1zM311.7 77.7h1v1h-1zM305.3 69.4h1v1h-1zM329 72.7h1v1h-1zM309.6 76.6h1v1h-1zM327.3 73.9h1v1h-1zM305.5 72.3h1v1h-1zM323.3 77.8h1v1h-1zM334.8 72.7h1v1h-1zM316.1 73.8h1v1h-1zM329.6 69.3h1v1h-1zM330.4 60.3h1v1h-1zM326.4 70.6h1v1h-1zM323.7 77.4h1v1h-1zM310.5 73.6h1v1h-1zM321.9 76.9h1v1h-1zM312.6 69h1v1h-1zM304.6 86.7h1v1h-1zM318.5 72.9h1v1h-1zM308 78.6h1v1h-1zM315.7 81.2h1v1h-1zM326.8 74.1h1v1h-1zM325.8 68.4h1v1h-1z"/>
<path fill="#cccccc" d="M277.4 108.2h1v1h-1zM269.8 114.2h1v1h-1zM278.8 128.4h1v1h-1zM253.2 107.3h1v1h-1zM272.7 109.4h1v1h-1zM283.4 118h1v1h-1zM280.2 109.3h1v1h-1zM284 117.6h1v1h-1zM265.3 111.4h1v1h-1zM269 102.2h1v1h-1zM281.2 114.6h1v1h-1zM280.9 105.2h1v1h-1zM278.4 104.9h1v1h-1zM283.1 120.9h1v1h-1zM294 126.7h1v1h-1zM273.6 109.4h1v1h-1zM272.5 117.1h1v1h-1zM295.8 121.1h1v1h-1zM262.4 101.4h1v1h-1zM269.7 119.2h1v1h-1zM280 117h1v1h-1zM294.3 105.7h1v1h-1zM273.2 133.7h1v1h-1zM282.7 106.2h1v1h-1zM263.8 98.8h1v1h-1zM260.4 114.7h1v1h-1zM280.4 123.9h1v1h-1zM278.9 107.1h1v1h-1zM274.1 133h1v1h-1zM265.9 115.7h1v1h-1zM280.2 120.2h1v1h-1zM276.8 119h1v1h-1zM286.5 112.5h1v1h-1zM276.3 112.1h1v1h-1zM272.3 111.9h1v1h-1zM277.6 116.1h1v1h-1zM290.7 127.1h1v1h-1zM276.4 120h1v1h-1zM282.4 121.6h1v1h-1zM280.2 116.7h1v1h-1zM276.2 106.2h1v1h-1zM287 127h1v1h-1zM285.3 118.4h1v1h-1zM282.1 109.5h1v1h-1zM265.7 120.6h1v1h-1zM281.6 108.5h1v1h-1zM272.3 126.8h1v1h-1zM265.6 131.6h1v1h-1zM285.1 137.7h1v1h-1zM274.3 113.8h1v1h-1zM275.9 115.6h1v1h-1zM278.3 106.5h1v1h-1zM288.6 106.2h1v1h-1zM275.9 119.5h1v1h-1zM275.7 109.7h1v1h-1zM282.8 110.3h1v1h-1zM270 113h1v1h-1zM278.2 131h1v1h-1zM271.2 123.7h1v1h-1zM273.7 110.4h1v1h-1zM277.4 116.7h1v1h-1zM286.9 131.5h1v1h-1zM274.9 127.3h1v1h-1zM288 122.1h1v1h-1zM273.9 123h1v1h-1zM279.1 117.5h1v1h-1zM277.8 120.6h1v1h-1zM288.9 125.3h1v1h-1zM278.4 124h1v1h-1zM291.6 104.6h1v1h-1z"/>
<polygon points="294.1,58.5 322.4,58.5 322.4,68.1 294.1,68.1" fill="#e0302a"/>
<path fill="#fff" d="M318.6 66.3h1v1h-1zM297.3 60.7h1v1h-1zM294.4 64.5h1v1h-1zM312.4 61.4h1v1h-1zM305.3 64.3h1v1h-1zM313.4 60.4h1v1h-1zM317.6 61.4h1v1h-1zM311.4 59.7h1v1h-1zM296.9 66.8h1v1h-1zM314.4 64.8h1v1h-1zM294.7 58.4h1v1h-1zM298.2 59.9h1v1h-1zM302.2 61.7h1v1h-1zM294.7 61h1v1h-1zM311.7 59.7h1v1h-1zM317.4 63.5h1v1h-1zM313.9 60.4h1v1h-1zM305.9 64.6h1v1h-1zM303.5 58h1v1h-1zM317.2 65.5h1v1h-1zM301.7 58.4h1v1h-1zM317.8 63.8h1v1h-1zM294.9 60.3h1v1h-1zM296.7 65.6h1v1h-1zM299.5 66.8h1v1h-1zM314.8 58.8h1v1h-1zM313.3 61.8h1v1h-1zM314.8 66h1v1h-1zM301.6 58.9h1v1h-1zM320.4 62.1h1v1h-1zM319.9 64.6h1v1h-1zM314.5 66h1v1h-1zM311.4 62.3h1v1h-1zM295.1 64.7h1v1h-1zM305.7 62.9h1v1h-1zM319.9 59.2h1v1h-1zM315.2 58.4h1v1h-1zM313.5 65.7h1v1h-1zM301 63.2h1v1h-1zM321 64.1h1v1h-1zM309 60.4h1v1h-1zM295.3 61.4h1v1h-1zM305.2 59.9h1v1h-1zM302.4 59.3h1v1h-1zM313.6 64.4h1v1h-1zM300.3 60.3h1v1h-1zM308.2 62.3h1v1h-1zM320.1 61.4h1v1h-1zM302.1 66.5h1v1h-1zM297.6 63.4h1v1h-1z"/>
<path fill="#f6b0b0" d="M303 65.8h1v1h-1zM309.1 65.3h1v1h-1zM298.4 64.4h1v1h-1zM310.5 62.4h1v1h-1zM315.3 66h1v1h-1zM296.8 60.8h1v1h-1zM303.8 60h1v1h-1zM295.3 60.7h1v1h-1zM299.2 64.7h1v1h-1zM306.3 59.1h1v1h-1zM302.8 62.5h1v1h-1zM303.9 59.6h1v1h-1zM295.6 58.1h1v1h-1zM321.7 65.2h1v1h-1zM296 64.9h1v1h-1zM321.3 63.4h1v1h-1zM296.7 62.7h1v1h-1zM305.9 59.8h1v1h-1zM309 58.1h1v1h-1zM319.6 64.2h1v1h-1zM311.4 67h1v1h-1zM312.1 60.4h1v1h-1zM300.6 59.3h1v1h-1zM294.4 65.4h1v1h-1zM317.4 60.8h1v1h-1zM298.9 64.1h1v1h-1zM317.5 66.9h1v1h-1zM298.4 65.5h1v1h-1zM317.1 65.1h1v1h-1zM302.8 59.8h1v1h-1zM317 61.1h1v1h-1zM304 63.3h1v1h-1zM304.1 66h1v1h-1zM300.4 58.4h1v1h-1zM309.6 64h1v1h-1zM316.8 64.8h1v1h-1zM319.2 67.1h1v1h-1zM307.6 62.8h1v1h-1zM298.1 60.9h1v1h-1zM310 58.8h1v1h-1z"/>
<rect x="294.1" y="58.5" width="28.3" height="9.6" fill="none" stroke="#2a2222" stroke-width="1.1"/>
<polygon points="292.5,70.4 308.5,68.7 310.2,70.4 309.4,74 307,78 302.5,81.6 294.2,85.6" fill="#1616e6"/>
<path fill="#9090f8" d="M301.8 74.8h1v1h-1zM295.1 79.3h1v1h-1zM303.2 77h1v1h-1zM300.7 77.2h1v1h-1zM302.5 76.3h1v1h-1zM305.7 71.5h1v1h-1zM303.2 73.4h1v1h-1zM301.6 80.8h1v1h-1zM299.4 76.2h1v1h-1zM300.8 79.2h1v1h-1zM299.7 71.7h1v1h-1zM304 75.5h1v1h-1zM301.6 79.6h1v1h-1zM299.9 75.4h1v1h-1zM302.9 77.7h1v1h-1zM301 79.5h1v1h-1zM307.9 70.4h1v1h-1zM306.6 75.5h1v1h-1zM302.9 75.5h1v1h-1zM300.7 72.8h1v1h-1zM301.4 80.2h1v1h-1zM305.8 75.5h1v1h-1zM301 74.5h1v1h-1zM299 81.7h1v1h-1zM304.4 76.8h1v1h-1zM301.1 73.6h1v1h-1zM299.8 79.3h1v1h-1zM299.3 78.3h1v1h-1zM299.7 75.3h1v1h-1zM303.9 77.7h1v1h-1zM305.4 74.1h1v1h-1zM302.5 77.8h1v1h-1zM300.3 76.1h1v1h-1zM298.7 76.8h1v1h-1zM301.5 75.9h1v1h-1zM301.5 77.1h1v1h-1zM296.9 78.7h1v1h-1zM298 75h1v1h-1zM302.6 75h1v1h-1zM301.1 77.7h1v1h-1z"/>
<polygon points="292.5,70.4 308.5,68.7 310.2,70.4 309.4,74 307,78 302.5,81.6 294.2,85.6" fill="none" stroke="#111" stroke-width="1.1" stroke-linejoin="round"/>
<polygon points="277.2,75.8 292.5,70.6 294.2,85.4 280.6,89.4" fill="#d61ad6"/>
<polygon points="277.2,75.8 292.5,70.6 294.2,85.4 280.6,89.4" fill="none" stroke="#111" stroke-width="1.1" stroke-linejoin="round"/>
<polygon points="260.8,82.6 276.9,75.8 280.3,89.4 266.4,96.2" fill="#0e6e12"/>
<polygon points="260.8,82.6 276.9,75.8 280.3,89.4 266.4,96.2" fill="none" stroke="#111" stroke-width="1.1" stroke-linejoin="round"/>
<polygon points="244.8,89.5 249.3,85.6 256.9,82.6 262,91 266.9,101.4 267.8,102.9 244.4,106.6 243.2,97.6" fill="#2a7ef0"/>
<path fill="#b0d4ff" d="M246.4 94.6h1v1h-1zM244.6 93.3h1v1h-1zM244.6 94.5h1v1h-1zM244.6 102.3h1v1h-1zM246.5 97.3h1v1h-1zM244.8 101.4h1v1h-1zM244.1 90.4h1v1h-1zM246.1 91.1h1v1h-1zM245.8 90.9h1v1h-1zM247.1 90.5h1v1h-1zM245.7 105.1h1v1h-1zM245.5 100.5h1v1h-1zM244.4 94.7h1v1h-1zM244 94.8h1v1h-1z"/>
<polygon points="244.8,89.5 249.3,85.6 256.9,82.6 262,91 266.9,101.4 267.8,102.9 244.4,106.6 243.2,97.6" fill="none" stroke="#111" stroke-width="1.1" stroke-linejoin="round"/>
<polygon points="244.4,106.6 267.8,102.9 268.3,120 266.6,136.1 253.9,137.4 248.5,116" fill="url(#goldfade)"/>
<path fill="#fff" d="M255.4 121.4h1v1h-1zM259.8 131.6h1v1h-1zM261.7 118.8h1v1h-1zM258.4 126.3h1v1h-1zM265.8 132.4h1v1h-1zM260.5 132.5h1v1h-1zM255.2 134.4h1v1h-1zM255 127.8h1v1h-1zM262.8 120.2h1v1h-1zM253.5 115.4h1v1h-1zM258.4 125.2h1v1h-1zM255.6 128.4h1v1h-1zM258 124h1v1h-1zM262.1 135.6h1v1h-1zM254.9 120.1h1v1h-1zM254 126h1v1h-1zM260.9 120.5h1v1h-1zM263.3 119.6h1v1h-1zM262.3 128h1v1h-1zM256 124.5h1v1h-1zM260.2 130.5h1v1h-1zM253.2 129.1h1v1h-1zM265.4 125.8h1v1h-1zM256.9 126.6h1v1h-1zM260.7 126.4h1v1h-1zM255.2 121.3h1v1h-1zM256.5 132.5h1v1h-1zM256.9 133.3h1v1h-1zM259.1 125.4h1v1h-1zM264.7 118.1h1v1h-1zM251.8 119.2h1v1h-1zM254.3 129.2h1v1h-1zM260.9 113.8h1v1h-1zM265.9 122.1h1v1h-1zM254.1 135.1h1v1h-1zM257 118.4h1v1h-1zM253.8 121.3h1v1h-1zM251.7 123.6h1v1h-1zM262.6 127.5h1v1h-1zM251.8 126.2h1v1h-1zM257.7 129.9h1v1h-1zM255.6 128.1h1v1h-1zM251.3 127.4h1v1h-1zM252.9 123.4h1v1h-1zM258.6 127.4h1v1h-1zM255.9 130.4h1v1h-1zM256.4 118h1v1h-1zM262.6 123.4h1v1h-1zM264.5 121.7h1v1h-1zM260.8 127.3h1v1h-1zM263.8 128.4h1v1h-1zM261.4 122.6h1v1h-1zM257.4 126.8h1v1h-1zM259.9 129.6h1v1h-1zM256.3 121.5h1v1h-1zM254.3 127.9h1v1h-1zM255.1 122.3h1v1h-1zM255.9 110.2h1v1h-1zM255.5 124.1h1v1h-1zM262 114.1h1v1h-1z"/>
<path fill="#c89010" d="M254.7 127.1h1v1h-1zM259.3 132.7h1v1h-1zM262.6 115.4h1v1h-1zM260.2 120.9h1v1h-1zM252.9 116.9h1v1h-1zM254.1 116.9h1v1h-1zM262.3 126.4h1v1h-1zM264.6 126.7h1v1h-1zM253 131.6h1v1h-1zM252.7 119.9h1v1h-1zM255.5 123.8h1v1h-1zM263.4 118.8h1v1h-1zM258.5 123.3h1v1h-1zM249.2 115.1h1v1h-1zM255.2 126.6h1v1h-1zM258.4 127.2h1v1h-1zM256.8 120h1v1h-1zM259 115.8h1v1h-1zM252.2 119.2h1v1h-1zM256.2 117.3h1v1h-1zM254.1 110.3h1v1h-1zM257.3 116.7h1v1h-1zM251.9 125.4h1v1h-1zM257 124.3h1v1h-1zM257.4 116h1v1h-1zM260.8 123.1h1v1h-1zM256.6 120h1v1h-1zM259.7 124.3h1v1h-1zM263.1 127h1v1h-1zM252.9 121.8h1v1h-1zM261.8 120.7h1v1h-1zM258.7 127.5h1v1h-1zM255.5 105.5h1v1h-1zM257.3 125.2h1v1h-1zM257.3 117.6h1v1h-1zM263.5 122.5h1v1h-1zM252.9 118h1v1h-1zM258.6 115.1h1v1h-1zM264.1 131.7h1v1h-1zM264.4 128.1h1v1h-1zM263.7 127.3h1v1h-1zM264.4 119.7h1v1h-1zM257.2 129.5h1v1h-1zM256 132h1v1h-1zM257 128.9h1v1h-1zM257 112h1v1h-1zM258.1 133.7h1v1h-1zM259.7 118.9h1v1h-1zM256.6 108.6h1v1h-1zM255.4 130.5h1v1h-1zM261.3 133.8h1v1h-1zM251.1 118.4h1v1h-1zM259 119.7h1v1h-1zM256.1 125.2h1v1h-1zM262.2 134.1h1v1h-1zM259.5 126.3h1v1h-1zM255.4 120.3h1v1h-1zM253.9 107.3h1v1h-1zM258 123.2h1v1h-1zM255.9 121.4h1v1h-1zM252.1 123.3h1v1h-1zM253.9 125.1h1v1h-1zM261.5 129.9h1v1h-1zM260.7 129.9h1v1h-1zM260.4 134.5h1v1h-1zM262.4 134h1v1h-1zM253.6 123.5h1v1h-1zM252.2 131h1v1h-1zM261.4 119.9h1v1h-1zM263.7 114.8h1v1h-1zM256 128.4h1v1h-1zM256.3 126.5h1v1h-1zM263.4 126.1h1v1h-1zM255.9 124.4h1v1h-1zM253.2 112.7h1v1h-1zM263.2 114.5h1v1h-1zM252.3 127.6h1v1h-1zM252 128.6h1v1h-1zM253.7 125.9h1v1h-1zM257.1 123.5h1v1h-1zM256.3 134.5h1v1h-1zM253.3 127.6h1v1h-1zM257.4 127.3h1v1h-1zM262.3 111.8h1v1h-1zM258.1 122.1h1v1h-1zM254.7 116.8h1v1h-1zM251.9 115.5h1v1h-1zM266.4 123.6h1v1h-1zM260.8 115.9h1v1h-1zM257.3 134.7h1v1h-1z"/>
<polygon points="244.4,106.6 267.8,102.9 268.3,120 266.6,136.1 253.9,137.4 248.5,116" fill="none" stroke="#111" stroke-width="1.1" stroke-linejoin="round"/>
<rect x="232.3" y="48.2" width="112.3" height="92.6" fill="none" stroke="#333" stroke-width="1.1"/>
<text x="327.9" y="65.9" font-size="9" fill="#383838" text-anchor="middle" font-family='"Liberation Sans", sans-serif' font-weight="normal" textLength="3" lengthAdjust="spacingAndGlyphs" stroke="#383838" stroke-width="0.4">I</text>
<text x="312.8" y="85" font-size="9" fill="#383838" text-anchor="middle" font-family='"Liberation Sans", sans-serif' font-weight="normal" textLength="5.8" lengthAdjust="spacingAndGlyphs" stroke="#383838" stroke-width="0.4">II</text>
<text x="292.8" y="95.6" font-size="9" fill="#383838" text-anchor="middle" font-family='"Liberation Sans", sans-serif' font-weight="normal" textLength="8.8" lengthAdjust="spacingAndGlyphs" stroke="#383838" stroke-width="0.4">III</text>
<text x="277.8" y="103" font-size="9" fill="#383838" text-anchor="middle" font-family='"Liberation Sans", sans-serif' font-weight="normal" textLength="10.6" lengthAdjust="spacingAndGlyphs" stroke="#383838" stroke-width="0.4">IV</text>
<text x="239.8" y="89.4" font-size="9" fill="#383838" text-anchor="middle" font-family='"Liberation Sans", sans-serif' font-weight="normal" textLength="6.4" lengthAdjust="spacingAndGlyphs" stroke="#383838" stroke-width="0.4">V</text>
<text x="241.5" y="126" font-size="9" fill="#383838" text-anchor="middle" font-family='"Liberation Sans", sans-serif' font-weight="normal" textLength="8" lengthAdjust="spacingAndGlyphs" stroke="#383838" stroke-width="0.4">VI</text>
<text x="256.9" y="46" font-size="9.7" fill="#2a2a2a" text-anchor="start" font-family='"Liberation Sans", sans-serif' font-weight="normal" textLength="32.3" lengthAdjust="spacingAndGlyphs" stroke="#2a2a2a" stroke-width="0.1">KO-BM</text>
<text transform="translate(211.2,94.4) rotate(-90)" font-size="10" font-family='"Liberation Sans", sans-serif' fill="#222" stroke="#222" stroke-width="0.12" text-anchor="middle" textLength="56" lengthAdjust="spacingAndGlyphs">CD44 APC-A</text>
<path d="M235.3 140.8v4.6M239.6 140.8v4.6M243.9 140.8v4.6M248.2 140.8v4.6M252.5 140.8v7.4M256.8 140.8v4.6M261.1 140.8v4.6M265.4 140.8v4.6M269.7 140.8v4.6M274 140.8v7.4M278.3 140.8v4.6M282.6 140.8v4.6M286.9 140.8v4.6M291.2 140.8v4.6M295.5 140.8v7.4M299.8 140.8v4.6M304.1 140.8v4.6M308.4 140.8v4.6M312.7 140.8v4.6M317 140.8v7.4M321.3 140.8v4.6M325.6 140.8v4.6M329.9 140.8v4.6M334.2 140.8v4.6M338.5 140.8v7.4M342.8 140.8v4.6M225.3 127.8h7M228.7 120.8h3.6M228.7 116.7h3.6M228.7 113.7h3.6M228.7 111.5h3.6M228.7 109.6h3.6M228.7 108.1h3.6M228.7 106.7h3.6M228.7 105.5h3.6M225.3 104.4h7M228.7 97.4h3.6M228.7 93.3h3.6M228.7 90.4h3.6M228.7 88.1h3.6M228.7 86.3h3.6M228.7 84.7h3.6M228.7 83.3h3.6M228.7 82.1h3.6M225.3 81.1h7M228.7 74h3.6M228.7 69.9h3.6M228.7 67h3.6M228.7 64.7h3.6M228.7 62.9h3.6M228.7 61.3h3.6M228.7 60h3.6M228.7 58.8h3.6M225.3 57.7h7M228.7 50.7h3.6M228.7 131h3.6M228.7 133.4h3.6M228.7 135.6h3.6M228.7 137.8h3.6M228.7 140.2h3.6" stroke="#222" stroke-width="0.9" fill="none"/>
<text x="252.5" y="157.3" font-size="7.6" fill="#222" text-anchor="middle" font-family='"Liberation Sans", sans-serif' font-weight="normal" textLength="8" lengthAdjust="spacingAndGlyphs" stroke="#222" stroke-width="0.3">50</text>
<text x="274" y="157.3" font-size="7.6" fill="#222" text-anchor="middle" font-family='"Liberation Sans", sans-serif' font-weight="normal" textLength="11.2" lengthAdjust="spacingAndGlyphs" stroke="#222" stroke-width="0.3">100</text>
<text x="295.5" y="157.3" font-size="7.6" fill="#222" text-anchor="middle" font-family='"Liberation Sans", sans-serif' font-weight="normal" textLength="11.2" lengthAdjust="spacingAndGlyphs" stroke="#222" stroke-width="0.3">150</text>
<text x="317" y="157.3" font-size="7.6" fill="#222" text-anchor="middle" font-family='"Liberation Sans", sans-serif' font-weight="normal" textLength="11.2" lengthAdjust="spacingAndGlyphs" stroke="#222" stroke-width="0.3">200</text>
<text x="338.5" y="157.3" font-size="7.6" fill="#222" text-anchor="middle" font-family='"Liberation Sans", sans-serif' font-weight="normal" textLength="11.2" lengthAdjust="spacingAndGlyphs" stroke="#222" stroke-width="0.3">250</text>
<text x="272.9" y="169.1" font-size="9.9" fill="#222" text-anchor="start" font-family='"Liberation Sans", sans-serif' font-weight="normal" textLength="30" lengthAdjust="spacingAndGlyphs" stroke="#222" stroke-width="0.2">FSC-A</text>
<text x="312.8" y="166.1" font-size="7.9" fill="#222" text-anchor="start" font-family='"Liberation Sans", sans-serif' font-weight="normal" textLength="31.6" lengthAdjust="spacingAndGlyphs" stroke="#222" stroke-width="0.2">(x 1,000)</text>
<g transform="translate(223.7,133.2) rotate(-90)" font-family='"Liberation Sans", sans-serif' fill="#222" stroke="#222" stroke-width="0.25"><text x="0" y="0" font-size="7.8" textLength="7.4" lengthAdjust="spacingAndGlyphs">10</text><text x="7.6" y="-5.0" font-size="8.2">2</text></g>
<g transform="translate(223.7,109.8) rotate(-90)" font-family='"Liberation Sans", sans-serif' fill="#222" stroke="#222" stroke-width="0.25"><text x="0" y="0" font-size="7.8" textLength="7.4" lengthAdjust="spacingAndGlyphs">10</text><text x="7.6" y="-5.0" font-size="8.2">3</text></g>
<g transform="translate(223.7,86.5) rotate(-90)" font-family='"Liberation Sans", sans-serif' fill="#222" stroke="#222" stroke-width="0.25"><text x="0" y="0" font-size="7.8" textLength="7.4" lengthAdjust="spacingAndGlyphs">10</text><text x="7.6" y="-5.0" font-size="8.2">4</text></g>
<g transform="translate(223.7,63.1) rotate(-90)" font-family='"Liberation Sans", sans-serif' fill="#222" stroke="#222" stroke-width="0.25"><text x="0" y="0" font-size="7.8" textLength="7.4" lengthAdjust="spacingAndGlyphs">10</text><text x="7.6" y="-5.0" font-size="8.2">5</text></g>
<rect x="365.6" y="30.5" width="153.7" height="144.7" fill="none" stroke="#262626" stroke-width="1.2"/>
<path fill="#e0e0e0" d="M484.3 83.5h1v1h-1zM480.9 84.9h1v1h-1zM460.4 104.7h1v1h-1zM477 78.4h1v1h-1zM471.7 98.4h1v1h-1zM426.9 104.7h1v1h-1zM431.5 131.5h1v1h-1zM454.5 114.6h1v1h-1zM459.9 92.4h1v1h-1zM426.6 62.1h1v1h-1zM504.7 97.1h1v1h-1zM460.1 97h1v1h-1zM492.1 70.8h1v1h-1zM421.2 123.7h1v1h-1zM453.1 107.2h1v1h-1zM493.6 130.2h1v1h-1zM498.1 53.1h1v1h-1zM444.3 124.6h1v1h-1zM492.6 60.3h1v1h-1zM419.2 72h1v1h-1zM413.6 81.5h1v1h-1zM491 96.4h1v1h-1zM452.2 57.2h1v1h-1zM445.9 139.5h1v1h-1zM479 89.9h1v1h-1zM455.1 121.5h1v1h-1zM486 62.8h1v1h-1zM477.4 82.4h1v1h-1zM459.7 70.7h1v1h-1zM443.2 80h1v1h-1zM444.3 50.8h1v1h-1zM424.4 100.9h1v1h-1zM408.6 65.4h1v1h-1zM481.6 74.1h1v1h-1zM438 71.1h1v1h-1zM494.4 57.5h1v1h-1zM472.5 127h1v1h-1zM424.5 87.5h1v1h-1zM489.8 105.2h1v1h-1zM443.3 53.2h1v1h-1zM451.1 82.5h1v1h-1zM480.9 75.9h1v1h-1zM447.3 107.9h1v1h-1zM491.8 81.1h1v1h-1zM444.8 101.6h1v1h-1zM504.4 66.6h1v1h-1zM509.5 113.7h1v1h-1zM443.3 109.5h1v1h-1zM438.6 55.6h1v1h-1zM485.7 83.6h1v1h-1z"/>
<path fill="#d6d6d6" d="M483.7 79.1h1v1h-1zM504 75.1h1v1h-1zM503.6 81.1h1v1h-1zM484.3 81.3h1v1h-1zM497.4 75.6h1v1h-1zM476.4 81.7h1v1h-1zM484.4 82.1h1v1h-1zM478.1 79.3h1v1h-1zM486.7 72.8h1v1h-1zM491.1 80.8h1v1h-1zM488.7 74.3h1v1h-1zM494.7 71.5h1v1h-1zM497.2 82.4h1v1h-1zM506.1 84.3h1v1h-1zM495.8 81.3h1v1h-1zM493.2 73.6h1v1h-1zM504.4 82.6h1v1h-1zM490.8 74.4h1v1h-1zM504.5 82.6h1v1h-1zM483.8 83.3h1v1h-1zM507.7 79.9h1v1h-1zM496.1 78h1v1h-1zM488.1 85.2h1v1h-1zM492 83.9h1v1h-1zM490.6 83.5h1v1h-1zM499.4 75.1h1v1h-1zM484.7 79.6h1v1h-1zM499.5 81.3h1v1h-1zM502.6 73.3h1v1h-1zM496.8 77h1v1h-1zM493.8 81.6h1v1h-1zM485.5 78.9h1v1h-1zM484 81.3h1v1h-1zM486.4 77.6h1v1h-1zM494.7 76.8h1v1h-1zM501.9 76.9h1v1h-1zM499.6 81.4h1v1h-1zM485 78.9h1v1h-1zM486.5 78.2h1v1h-1zM490.9 88.8h1v1h-1zM489.7 87.6h1v1h-1zM496.5 73.7h1v1h-1zM475.1 83.3h1v1h-1zM477.6 83.5h1v1h-1zM501 81.9h1v1h-1zM491.4 78.8h1v1h-1zM495 78.5h1v1h-1zM488.9 78.2h1v1h-1zM502.1 77h1v1h-1zM495.9 74.4h1v1h-1zM487.5 73.3h1v1h-1zM491.5 83.3h1v1h-1zM495.4 77.6h1v1h-1zM497.7 78.3h1v1h-1zM495.9 81.3h1v1h-1zM497.2 68h1v1h-1zM482.9 83.7h1v1h-1zM492.2 90.9h1v1h-1zM491.2 77.3h1v1h-1z"/>
<path fill="#d8d8d8" d="M422.5 84.3h1v1h-1zM461.2 74.7h1v1h-1zM447.5 80.2h1v1h-1zM430 82.1h1v1h-1zM465.2 76.9h1v1h-1zM468.4 70.8h1v1h-1zM437.6 78.3h1v1h-1zM450.1 79.1h1v1h-1zM452.3 76.3h1v1h-1zM426.4 82.8h1v1h-1zM473.3 71.1h1v1h-1zM445.6 80.3h1v1h-1zM450.6 74.1h1v1h-1zM418.7 85.1h1v1h-1zM448.6 76.1h1v1h-1zM426.1 90.1h1v1h-1zM463.2 79.2h1v1h-1zM415.2 80.9h1v1h-1zM441.3 79h1v1h-1zM420.9 88h1v1h-1zM432.3 80.2h1v1h-1zM459 74.5h1v1h-1zM451.1 79.2h1v1h-1zM456.6 71.5h1v1h-1zM420.3 85.3h1v1h-1zM455 78.6h1v1h-1zM434.5 83.5h1v1h-1zM431.7 89.6h1v1h-1zM439.9 75.6h1v1h-1zM444.8 79.4h1v1h-1zM466.6 74.3h1v1h-1zM449.3 79.7h1v1h-1zM424.7 82.6h1v1h-1zM439.3 83h1v1h-1zM431.7 84.3h1v1h-1zM457.3 72h1v1h-1zM424 84.5h1v1h-1zM455.4 71.4h1v1h-1zM431.5 80.6h1v1h-1zM436.2 82.4h1v1h-1zM444.3 83.8h1v1h-1zM422.3 83.6h1v1h-1zM450.8 71.9h1v1h-1zM423.2 89.1h1v1h-1zM473.2 71.3h1v1h-1zM455.7 72.4h1v1h-1zM454 74.6h1v1h-1zM423.4 84.7h1v1h-1zM442.3 80.7h1v1h-1zM455.9 72.7h1v1h-1zM438.5 82h1v1h-1zM427 89.6h1v1h-1zM470.8 66.7h1v1h-1zM446.1 71.6h1v1h-1zM456.3 72.5h1v1h-1zM454.2 71.6h1v1h-1zM424.1 81.8h1v1h-1zM432.5 82.4h1v1h-1zM461 78.3h1v1h-1zM471 68.2h1v1h-1z"/>
<path fill="#d4d4d4" d="M457.1 99.5h1v1h-1zM442.8 107.4h1v1h-1zM456.4 99.5h1v1h-1zM454.6 107.1h1v1h-1zM459.6 109.6h1v1h-1zM453.7 110.7h1v1h-1zM463.8 109.2h1v1h-1zM449.8 127.3h1v1h-1zM450.6 117.3h1v1h-1zM444.3 113.5h1v1h-1zM432.5 112.8h1v1h-1zM445 100.4h1v1h-1zM439.1 120.8h1v1h-1zM453.3 100.3h1v1h-1zM464 106.6h1v1h-1zM447.2 113.9h1v1h-1zM441.2 99.6h1v1h-1zM444.3 121.1h1v1h-1zM457.3 99.8h1v1h-1zM459.3 112.3h1v1h-1zM453.9 112.4h1v1h-1zM453.2 104.3h1v1h-1zM443 106.6h1v1h-1zM447.2 116.8h1v1h-1zM440.6 124.3h1v1h-1zM445.1 107.5h1v1h-1zM455.4 115.3h1v1h-1zM447.4 103.8h1v1h-1zM442.3 99.7h1v1h-1zM458.8 120.3h1v1h-1zM464.4 115.8h1v1h-1zM452.6 117.8h1v1h-1zM457.3 110h1v1h-1zM452.7 128.6h1v1h-1zM437 101.2h1v1h-1zM442.6 117.8h1v1h-1zM459.1 109.4h1v1h-1zM455.2 111.6h1v1h-1zM452.3 107.8h1v1h-1zM449.8 112h1v1h-1z"/>
<polygon points="466.3,64.6 494.1,64.6 494.1,74.3 466.3,74.3" fill="url(#redfade)"/>
<path fill="#e42c2c" d="M475.5 72.2h1v1h-1zM481.6 71.8h1v1h-1zM480.2 67.8h1v1h-1zM482.5 67.8h1v1h-1zM483 71.5h1v1h-1zM469.8 72.7h1v1h-1zM471.6 68.3h1v1h-1zM466.6 69.5h1v1h-1zM481.4 68.4h1v1h-1zM486.2 71.6h1v1h-1zM472.4 67.2h1v1h-1zM466 71.3h1v1h-1zM483 67.5h1v1h-1zM475.5 69.4h1v1h-1zM474 71.2h1v1h-1zM487.6 68.5h1v1h-1zM480.4 72.5h1v1h-1zM473.9 69.7h1v1h-1zM467.7 72.5h1v1h-1zM472.4 68.5h1v1h-1zM475.9 68h1v1h-1zM469.5 69.3h1v1h-1zM484.1 69.5h1v1h-1zM478.5 66.6h1v1h-1zM473.2 66.4h1v1h-1zM474.9 71.4h1v1h-1zM477 67.9h1v1h-1zM480.1 72.2h1v1h-1zM478.1 69h1v1h-1zM475.2 68.5h1v1h-1zM474.7 70.7h1v1h-1zM473.8 72.3h1v1h-1zM490.5 68.7h1v1h-1zM477.5 71.9h1v1h-1zM479.2 69.4h1v1h-1zM472.7 72.3h1v1h-1zM479.1 71.2h1v1h-1zM470.8 71.5h1v1h-1zM480.1 69.6h1v1h-1zM468.7 66.8h1v1h-1zM474.1 71.3h1v1h-1zM475.8 67.3h1v1h-1zM467.2 68.7h1v1h-1zM475.6 68.1h1v1h-1zM470.6 69.6h1v1h-1zM472.3 68.6h1v1h-1zM475.7 69.3h1v1h-1zM479.1 67.2h1v1h-1zM475.1 71.8h1v1h-1zM482.3 71.3h1v1h-1zM475.7 66.4h1v1h-1zM466.2 72.3h1v1h-1zM479.4 71.3h1v1h-1zM465.9 65h1v1h-1zM469.4 67.3h1v1h-1zM476.4 67.6h1v1h-1zM484.7 68.6h1v1h-1zM472.2 72h1v1h-1zM477.4 67.9h1v1h-1zM468.4 69.4h1v1h-1zM469.2 65.5h1v1h-1zM479.1 71.6h1v1h-1zM481.2 71h1v1h-1zM471.6 67.3h1v1h-1zM469.1 71.8h1v1h-1zM478.2 65.6h1v1h-1zM480.7 72.9h1v1h-1zM475.7 67.2h1v1h-1zM485.8 66.9h1v1h-1zM475 65.6h1v1h-1zM468.2 66h1v1h-1zM481.9 72.8h1v1h-1zM473.1 66.8h1v1h-1zM475.1 70.9h1v1h-1zM466.6 67.3h1v1h-1zM474.9 71.6h1v1h-1zM475.9 71.1h1v1h-1zM468.2 64.2h1v1h-1zM477.3 67.9h1v1h-1zM474.8 69.1h1v1h-1zM478.3 68.2h1v1h-1zM484 70.1h1v1h-1zM478.6 71.5h1v1h-1zM481.6 70.9h1v1h-1zM486.4 71.1h1v1h-1zM478.8 71.1h1v1h-1zM471.7 68.4h1v1h-1zM471.7 72.7h1v1h-1zM478.2 67.2h1v1h-1zM485.7 70.8h1v1h-1zM482.5 70.5h1v1h-1zM473.6 70.4h1v1h-1zM468.9 67.2h1v1h-1zM470.3 68.8h1v1h-1zM467.5 69.8h1v1h-1zM486.3 69.9h1v1h-1zM480.7 69.5h1v1h-1zM477.8 69.9h1v1h-1zM472.3 70.2h1v1h-1zM466.8 71h1v1h-1zM473.8 67.4h1v1h-1zM473.4 71.3h1v1h-1zM471.5 71.1h1v1h-1zM478.9 73.7h1v1h-1zM469.1 69.7h1v1h-1zM478.5 73.5h1v1h-1zM477 71.8h1v1h-1zM466.8 68.6h1v1h-1zM485.3 69.3h1v1h-1zM488.3 68.3h1v1h-1zM473.9 66.2h1v1h-1zM479.3 70.6h1v1h-1zM487.4 70.4h1v1h-1zM474 66.7h1v1h-1zM475 72.2h1v1h-1zM479.9 72.9h1v1h-1zM480.6 69.9h1v1h-1zM479.1 70.4h1v1h-1zM477.7 67.5h1v1h-1zM477.8 70.7h1v1h-1zM481.4 73.4h1v1h-1zM484.6 67.8h1v1h-1zM477.5 70.8h1v1h-1zM468.9 68.9h1v1h-1zM476.7 71.8h1v1h-1zM488.5 70.7h1v1h-1zM471.9 64.4h1v1h-1zM481.9 69.7h1v1h-1zM474.8 67.7h1v1h-1zM479.9 65.7h1v1h-1z"/>
<path fill="#fff" d="M486 70.9h1v1h-1zM485 70.8h1v1h-1zM489.7 65.9h1v1h-1zM484.1 70.7h1v1h-1zM490.2 68.1h1v1h-1zM489.5 71.6h1v1h-1zM478.1 66.1h1v1h-1zM478.4 70.9h1v1h-1zM486.5 72.7h1v1h-1zM489.6 68.9h1v1h-1zM490.8 72.9h1v1h-1zM487.8 71.9h1v1h-1zM479.1 71.6h1v1h-1zM480.4 66.9h1v1h-1zM483.8 70.9h1v1h-1zM485.2 69.5h1v1h-1zM480.5 71.1h1v1h-1zM481.8 66.3h1v1h-1zM483.5 67.3h1v1h-1zM484 69.9h1v1h-1zM486.2 73.5h1v1h-1zM487.7 65.1h1v1h-1zM480 66.8h1v1h-1zM487.7 70.8h1v1h-1zM487 70.7h1v1h-1zM492 68.7h1v1h-1zM488.9 69.4h1v1h-1zM486 71h1v1h-1zM485.6 69.1h1v1h-1zM493.3 69.7h1v1h-1z"/>
<rect x="466.3" y="64.6" width="27.8" height="9.7" fill="none" stroke="#2a2222" stroke-width="1.1"/>
<polygon points="464.5,77.5 478.5,75 481.4,76.8 481.4,79.5 479,83.5 476,87.3 467,90.8" fill="#1616e6"/>
<polygon points="464.5,77.5 478.5,75 481.4,76.8 481.4,79.5 479,83.5 476,87.3 467,90.8" fill="none" stroke="#111" stroke-width="1.1" stroke-linejoin="round"/>
<polygon points="448.7,83.5 464.5,77.8 467,90.6 451.8,95.3" fill="#d61ad6"/>
<polygon points="448.7,83.5 464.5,77.8 467,90.6 451.8,95.3" fill="none" stroke="#111" stroke-width="1.1" stroke-linejoin="round"/>
<polygon points="432.4,88.6 448.5,83.6 451.8,95.3 440,102" fill="#0e6e12"/>
<polygon points="432.4,88.6 448.5,83.6 451.8,95.3 440,102" fill="none" stroke="#111" stroke-width="1.1" stroke-linejoin="round"/>
<polygon points="417.8,93 422.4,89.5 430.5,87.2 439.1,105.7 439.7,107.4 417.2,112 416.6,101" fill="#2a7ef0"/>
<path fill="#b8d8ff" d="M419.1 106.9h1v1h-1zM418.9 103.6h1v1h-1zM420.1 103.9h1v1h-1zM420.6 91.4h1v1h-1zM420.9 98.6h1v1h-1zM418.4 99.3h1v1h-1zM416.8 97.3h1v1h-1zM417.9 98.9h1v1h-1zM418 97.4h1v1h-1zM417.3 99.2h1v1h-1zM417.4 95.7h1v1h-1zM417.3 99.5h1v1h-1zM419.9 97.6h1v1h-1zM417.6 100.3h1v1h-1zM418.4 96.6h1v1h-1zM417.1 101.6h1v1h-1z"/>
<polygon points="417.8,93 422.4,89.5 430.5,87.2 439.1,105.7 439.7,107.4 417.2,112 416.6,101" fill="none" stroke="#111" stroke-width="1.1" stroke-linejoin="round"/>
<polygon points="417.2,112 439.7,107.4 440,136 438.3,138.6 424.7,140.2 420.4,122.4" fill="#d6b444"/>
<path fill="#fff4d0" d="M434.1 111.7h1v1h-1zM432.5 126.5h1v1h-1zM428.6 121.8h1v1h-1zM426 126.9h1v1h-1zM431.5 137h1v1h-1zM433.4 133h1v1h-1zM437.5 134.4h1v1h-1zM432.2 134.8h1v1h-1zM426.5 135.7h1v1h-1zM426.8 130.1h1v1h-1zM422.5 116.8h1v1h-1zM424.6 117.5h1v1h-1zM439.1 128.4h1v1h-1zM438 131.9h1v1h-1zM433.9 115.9h1v1h-1zM422.4 120.4h1v1h-1zM436.9 137.1h1v1h-1zM424.2 132.2h1v1h-1zM434.4 136.1h1v1h-1zM434.8 124.4h1v1h-1zM423.9 127.5h1v1h-1zM425.1 124.5h1v1h-1zM438.7 112.2h1v1h-1zM428.8 128.2h1v1h-1zM429 137.7h1v1h-1zM426 136.9h1v1h-1zM432.4 138.6h1v1h-1zM418.7 113.9h1v1h-1zM420.7 121.3h1v1h-1zM432.4 129.6h1v1h-1zM433.7 131.6h1v1h-1zM422.4 115.3h1v1h-1zM421.5 115.4h1v1h-1zM438.7 128h1v1h-1zM430.2 128.4h1v1h-1zM430.3 129.7h1v1h-1zM424.9 111.6h1v1h-1zM438.8 129.5h1v1h-1zM422.9 132.1h1v1h-1zM423.6 120.3h1v1h-1zM432.4 121.5h1v1h-1zM433.3 110h1v1h-1zM438 118.1h1v1h-1zM435.7 107.9h1v1h-1zM435.6 114.3h1v1h-1zM436.2 133.2h1v1h-1zM432 116h1v1h-1zM437.3 112.1h1v1h-1zM431.7 126.2h1v1h-1zM431.8 112.8h1v1h-1zM439.1 119.5h1v1h-1zM431.6 125.6h1v1h-1zM425 130.6h1v1h-1zM422.4 118.9h1v1h-1zM428.6 110.6h1v1h-1zM423.2 119.4h1v1h-1zM434.1 114.2h1v1h-1zM421.1 114.1h1v1h-1zM425.5 118.9h1v1h-1zM431.3 122.4h1v1h-1zM436.5 108.6h1v1h-1zM431.8 134.3h1v1h-1zM426.7 110.7h1v1h-1zM427.2 130.2h1v1h-1zM427.6 112.6h1v1h-1zM422 121.3h1v1h-1zM424.9 122.3h1v1h-1zM438.1 125.1h1v1h-1zM418.3 114.2h1v1h-1zM433.7 125.4h1v1h-1zM436.3 110.5h1v1h-1zM438.2 124.1h1v1h-1zM422.2 112.5h1v1h-1zM436.4 113.9h1v1h-1zM418.6 115.6h1v1h-1zM437.8 122h1v1h-1zM433.4 109.3h1v1h-1zM427 117.3h1v1h-1zM424.9 110.8h1v1h-1zM439.1 122.7h1v1h-1z"/>
<path fill="#a87c08" d="M431.6 123.8h1v1h-1zM433.6 124.5h1v1h-1zM422 123.3h1v1h-1zM430.5 128.3h1v1h-1zM438.3 131.2h1v1h-1zM436.2 119h1v1h-1zM437.3 112.9h1v1h-1zM421.9 126.5h1v1h-1zM437.3 109.6h1v1h-1zM426.7 111.5h1v1h-1zM430 137.7h1v1h-1zM425.9 129.2h1v1h-1zM422 122.5h1v1h-1zM428.4 138h1v1h-1zM430.9 114h1v1h-1zM435.7 113.5h1v1h-1zM424 120.2h1v1h-1zM424.5 128.8h1v1h-1zM422.6 121.8h1v1h-1zM429.5 130.2h1v1h-1zM419.8 114.8h1v1h-1zM420.1 111.4h1v1h-1zM428.6 126h1v1h-1zM436.9 108.8h1v1h-1zM422 112.4h1v1h-1zM430.1 121.7h1v1h-1zM426 136h1v1h-1zM431.8 135.1h1v1h-1zM438.5 115.7h1v1h-1zM438.2 120.3h1v1h-1zM423.3 116.4h1v1h-1zM438.7 135.5h1v1h-1zM426.3 124.3h1v1h-1zM436.1 133.4h1v1h-1zM431.6 123.7h1v1h-1zM419.4 114.9h1v1h-1zM431.7 126.1h1v1h-1zM435 136.4h1v1h-1zM438.6 113.2h1v1h-1zM429.7 112.9h1v1h-1zM432.5 115.3h1v1h-1zM422.1 118.9h1v1h-1zM428.6 129.1h1v1h-1zM430.9 122.4h1v1h-1zM432 133.1h1v1h-1zM432.2 130.2h1v1h-1zM431.5 112.8h1v1h-1zM438.6 132.7h1v1h-1zM422 121h1v1h-1zM438.5 113.7h1v1h-1zM426 138.4h1v1h-1zM437.2 114.5h1v1h-1zM433.5 118.7h1v1h-1zM431.8 132.1h1v1h-1zM419.6 114.2h1v1h-1zM421.6 115.6h1v1h-1zM417.5 111.4h1v1h-1zM426 120.7h1v1h-1zM438.2 125.8h1v1h-1zM424.8 130h1v1h-1zM426.7 112.7h1v1h-1zM432.1 112.2h1v1h-1zM425.1 138.5h1v1h-1zM434.2 134.3h1v1h-1zM431.3 127.7h1v1h-1zM432.8 138.6h1v1h-1zM423.6 115.3h1v1h-1zM435.4 126.6h1v1h-1zM436.1 135.6h1v1h-1zM430.1 113.4h1v1h-1zM433.2 115.8h1v1h-1zM422.7 130.2h1v1h-1zM438.8 111.8h1v1h-1zM424.3 124h1v1h-1zM424 120.6h1v1h-1zM427.6 115.4h1v1h-1zM430.9 129.7h1v1h-1zM422.7 132.9h1v1h-1zM433.3 118.1h1v1h-1zM427.9 113.1h1v1h-1z"/>
<polygon points="417.2,112 439.7,107.4 440,136 438.3,138.6 424.7,140.2 420.4,122.4" fill="none" stroke="#111" stroke-width="1.1" stroke-linejoin="round"/>
<rect x="401.2" y="48.2" width="112.5" height="92.6" fill="none" stroke="#333" stroke-width="1.1"/>
<text x="499.8" y="73.1" font-size="9" fill="#383838" text-anchor="middle" font-family='"Liberation Sans", sans-serif' font-weight="normal" textLength="3" lengthAdjust="spacingAndGlyphs" stroke="#383838" stroke-width="0.4">I</text>
<text x="483.1" y="91.3" font-size="9" fill="#383838" text-anchor="middle" font-family='"Liberation Sans", sans-serif' font-weight="normal" textLength="6.4" lengthAdjust="spacingAndGlyphs" stroke="#383838" stroke-width="0.4">II</text>
<text x="465.1" y="102.2" font-size="9" fill="#383838" text-anchor="middle" font-family='"Liberation Sans", sans-serif' font-weight="normal" textLength="8.2" lengthAdjust="spacingAndGlyphs" stroke="#383838" stroke-width="0.4">III</text>
<text x="451" y="111.4" font-size="9" fill="#383838" text-anchor="middle" font-family='"Liberation Sans", sans-serif' font-weight="normal" textLength="9.1" lengthAdjust="spacingAndGlyphs" stroke="#383838" stroke-width="0.4">IV</text>
<text x="411.9" y="94.4" font-size="9" fill="#383838" text-anchor="middle" font-family='"Liberation Sans", sans-serif' font-weight="normal" textLength="7.2" lengthAdjust="spacingAndGlyphs" stroke="#383838" stroke-width="0.4">V</text>
<text x="412.4" y="130" font-size="9" fill="#383838" text-anchor="middle" font-family='"Liberation Sans", sans-serif' font-weight="normal" textLength="8.1" lengthAdjust="spacingAndGlyphs" stroke="#383838" stroke-width="0.4">VI</text>
<text x="406.9" y="46.2" font-size="9.7" fill="#2a2a2a" text-anchor="start" font-family='"Liberation Sans", sans-serif' font-weight="normal" textLength="71.9" lengthAdjust="spacingAndGlyphs" stroke="#2a2a2a" stroke-width="0.1">phlebotomy-BM</text>
<text transform="translate(378.7,94.6) rotate(-90)" font-size="10" font-family='"Liberation Sans", sans-serif' fill="#222" stroke="#222" stroke-width="0.12" text-anchor="middle" textLength="27.4" lengthAdjust="spacingAndGlyphs">APC-A</text>
<path d="M405.1 140.8v4.6M409.4 140.8v4.6M413.6 140.8v4.6M417.9 140.8v4.6M422.2 140.8v7.4M426.5 140.8v4.6M430.8 140.8v4.6M435 140.8v4.6M439.3 140.8v4.6M443.6 140.8v7.4M447.9 140.8v4.6M452.2 140.8v4.6M456.4 140.8v4.6M460.7 140.8v4.6M465 140.8v7.4M469.3 140.8v4.6M473.6 140.8v4.6M477.8 140.8v4.6M482.1 140.8v4.6M486.4 140.8v7.4M490.7 140.8v4.6M495 140.8v4.6M499.2 140.8v4.6M503.5 140.8v4.6M507.8 140.8v7.4M512.1 140.8v4.6M394.2 127.8h7M397.6 120.8h3.6M397.6 116.7h3.6M397.6 113.7h3.6M397.6 111.5h3.6M397.6 109.6h3.6M397.6 108.1h3.6M397.6 106.7h3.6M397.6 105.5h3.6M394.2 104.4h7M397.6 97.4h3.6M397.6 93.3h3.6M397.6 90.4h3.6M397.6 88.1h3.6M397.6 86.3h3.6M397.6 84.7h3.6M397.6 83.3h3.6M397.6 82.1h3.6M394.2 81.1h7M397.6 74h3.6M397.6 69.9h3.6M397.6 67h3.6M397.6 64.7h3.6M397.6 62.9h3.6M397.6 61.3h3.6M397.6 60h3.6M397.6 58.8h3.6M394.2 57.7h7M397.6 50.7h3.6M397.6 131h3.6M397.6 133.4h3.6M397.6 135.6h3.6M397.6 137.8h3.6M397.6 140.2h3.6" stroke="#222" stroke-width="0.9" fill="none"/>
<text x="422.2" y="157.3" font-size="7.6" fill="#222" text-anchor="middle" font-family='"Liberation Sans", sans-serif' font-weight="normal" textLength="8" lengthAdjust="spacingAndGlyphs" stroke="#222" stroke-width="0.3">50</text>
<text x="443.6" y="157.3" font-size="7.6" fill="#222" text-anchor="middle" font-family='"Liberation Sans", sans-serif' font-weight="normal" textLength="11.2" lengthAdjust="spacingAndGlyphs" stroke="#222" stroke-width="0.3">100</text>
<text x="465" y="157.3" font-size="7.6" fill="#222" text-anchor="middle" font-family='"Liberation Sans", sans-serif' font-weight="normal" textLength="11.2" lengthAdjust="spacingAndGlyphs" stroke="#222" stroke-width="0.3">150</text>
<text x="486.4" y="157.3" font-size="7.6" fill="#222" text-anchor="middle" font-family='"Liberation Sans", sans-serif' font-weight="normal" textLength="11.2" lengthAdjust="spacingAndGlyphs" stroke="#222" stroke-width="0.3">200</text>
<text x="507.8" y="157.3" font-size="7.6" fill="#222" text-anchor="middle" font-family='"Liberation Sans", sans-serif' font-weight="normal" textLength="11.2" lengthAdjust="spacingAndGlyphs" stroke="#222" stroke-width="0.3">250</text>
<text x="441.9" y="169.1" font-size="9.9" fill="#222" text-anchor="start" font-family='"Liberation Sans", sans-serif' font-weight="normal" textLength="30" lengthAdjust="spacingAndGlyphs" stroke="#222" stroke-width="0.2">FSC-A</text>
<text x="481.9" y="166.1" font-size="7.9" fill="#222" text-anchor="start" font-family='"Liberation Sans", sans-serif' font-weight="normal" textLength="31.6" lengthAdjust="spacingAndGlyphs" stroke="#222" stroke-width="0.2">(x 1,000)</text>
<g transform="translate(392.6,133.2) rotate(-90)" font-family='"Liberation Sans", sans-serif' fill="#222" stroke="#222" stroke-width="0.25"><text x="0" y="0" font-size="7.8" textLength="7.4" lengthAdjust="spacingAndGlyphs">10</text><text x="7.6" y="-5.0" font-size="8.2">2</text></g>
<g transform="translate(392.6,109.8) rotate(-90)" font-family='"Liberation Sans", sans-serif' fill="#222" stroke="#222" stroke-width="0.25"><text x="0" y="0" font-size="7.8" textLength="7.4" lengthAdjust="spacingAndGlyphs">10</text><text x="7.6" y="-5.0" font-size="8.2">3</text></g>
<g transform="translate(392.6,86.5) rotate(-90)" font-family='"Liberation Sans", sans-serif' fill="#222" stroke="#222" stroke-width="0.25"><text x="0" y="0" font-size="7.8" textLength="7.4" lengthAdjust="spacingAndGlyphs">10</text><text x="7.6" y="-5.0" font-size="8.2">4</text></g>
<g transform="translate(392.6,63.1) rotate(-90)" font-family='"Liberation Sans", sans-serif' fill="#222" stroke="#222" stroke-width="0.25"><text x="0" y="0" font-size="7.8" textLength="7.4" lengthAdjust="spacingAndGlyphs">10</text><text x="7.6" y="-5.0" font-size="8.2">5</text></g>
<rect x="31" y="207.7" width="154.2" height="144.2" fill="none" stroke="#262626" stroke-width="1.2"/>
<path fill="#e0e0e0" d="M170 277.4h1v1h-1zM73.7 240.5h1v1h-1zM144.1 261.5h1v1h-1zM146.8 247.4h1v1h-1zM155.5 299.3h1v1h-1zM78.4 279.7h1v1h-1zM89.1 290.7h1v1h-1zM156.3 298.3h1v1h-1zM93.5 235.1h1v1h-1zM140.9 277.8h1v1h-1zM83.3 244.1h1v1h-1zM132 236.4h1v1h-1zM137.6 248.4h1v1h-1zM96.5 265h1v1h-1zM126.6 292.2h1v1h-1zM71.5 292.2h1v1h-1zM92.3 252.9h1v1h-1zM138.3 289.2h1v1h-1zM135.5 308.3h1v1h-1zM90.5 254.8h1v1h-1zM140.8 250.2h1v1h-1zM85.4 247.1h1v1h-1zM152.7 301.5h1v1h-1zM146.7 313.5h1v1h-1zM155.2 254.7h1v1h-1zM102.7 291.9h1v1h-1zM74.2 281.8h1v1h-1zM77.9 231h1v1h-1zM124.5 240.3h1v1h-1zM170.3 306.1h1v1h-1zM118.8 244.5h1v1h-1zM81.2 272.5h1v1h-1zM125.3 259.5h1v1h-1zM146.7 274.6h1v1h-1zM153.2 236.2h1v1h-1zM75.8 261.7h1v1h-1zM121.1 249.5h1v1h-1zM141.4 246.7h1v1h-1zM103 269.8h1v1h-1zM146.2 296.4h1v1h-1zM108.9 267.1h1v1h-1zM169.9 311.2h1v1h-1zM136 236.1h1v1h-1zM118.1 284.3h1v1h-1zM98.7 230h1v1h-1zM175.7 309h1v1h-1zM82.2 268.8h1v1h-1zM136 253.8h1v1h-1zM75.6 294.6h1v1h-1zM152.7 266.2h1v1h-1zM77.5 262.3h1v1h-1zM78.4 313.9h1v1h-1zM73.7 252.7h1v1h-1zM152.3 238.8h1v1h-1zM79.8 233h1v1h-1zM86.1 274.8h1v1h-1zM159.5 241.9h1v1h-1zM87.2 295.9h1v1h-1zM114.8 257.2h1v1h-1zM81.6 248.6h1v1h-1z"/>
<path fill="#c8c8c8" d="M116.7 294.9h1v1h-1zM113.5 315.7h1v1h-1zM123.3 279.7h1v1h-1zM100.4 301.1h1v1h-1zM110.4 290h1v1h-1zM105.5 300.1h1v1h-1zM113.7 289.7h1v1h-1zM121.9 309.7h1v1h-1zM111.8 303.7h1v1h-1zM113.8 309.5h1v1h-1zM117.1 295.6h1v1h-1zM117 287.6h1v1h-1zM118.2 313.5h1v1h-1zM112.1 302.5h1v1h-1zM105.1 306.9h1v1h-1zM118.7 284.1h1v1h-1zM123.3 297.3h1v1h-1zM104.8 280h1v1h-1zM118.7 292.8h1v1h-1zM119.9 277.9h1v1h-1zM113.5 307.4h1v1h-1zM110.4 303.9h1v1h-1zM112.1 300h1v1h-1zM107.4 305.1h1v1h-1zM121 282.9h1v1h-1zM119.6 261.4h1v1h-1zM112.7 276.1h1v1h-1zM115.6 287.5h1v1h-1zM111 286.2h1v1h-1zM115.6 290.6h1v1h-1zM109.2 293.4h1v1h-1zM116.2 286h1v1h-1zM119.9 276.6h1v1h-1zM116.2 291.5h1v1h-1zM122.4 288.5h1v1h-1zM110.5 280.4h1v1h-1zM124.6 303.2h1v1h-1zM108.2 292.1h1v1h-1zM108.9 313.8h1v1h-1zM116.2 272.3h1v1h-1zM115.1 306.7h1v1h-1zM114 301.5h1v1h-1zM113.4 298.4h1v1h-1zM115.1 287.8h1v1h-1zM115.9 297.9h1v1h-1zM113.8 288h1v1h-1zM108.6 298.9h1v1h-1zM118.4 267.8h1v1h-1zM111.1 311.8h1v1h-1zM118.9 287.7h1v1h-1zM121.2 284.5h1v1h-1zM111.7 293.5h1v1h-1zM105.2 284.2h1v1h-1zM107.7 294.4h1v1h-1zM104.2 308.4h1v1h-1zM112.1 288.9h1v1h-1zM110.6 304.7h1v1h-1zM122.2 291.2h1v1h-1zM122.6 314.8h1v1h-1zM121.2 299.5h1v1h-1zM106 303.9h1v1h-1zM111.8 298.3h1v1h-1zM103.9 292.7h1v1h-1zM115.2 285.1h1v1h-1zM115.6 315.5h1v1h-1zM115.2 288h1v1h-1zM126.8 270.9h1v1h-1zM109.1 300.8h1v1h-1zM110.8 269.2h1v1h-1zM115.4 305.7h1v1h-1zM109.7 313.1h1v1h-1zM116.7 309.9h1v1h-1zM105.8 296h1v1h-1zM121.1 296h1v1h-1zM115 288.7h1v1h-1zM119.9 287.9h1v1h-1zM114.7 271.9h1v1h-1zM105.9 316.8h1v1h-1zM114.3 298.5h1v1h-1zM102.2 295.6h1v1h-1zM125.1 278.5h1v1h-1zM101.3 294.1h1v1h-1zM111.2 293.5h1v1h-1zM107.3 280.1h1v1h-1zM107.4 303.5h1v1h-1zM113.7 305.6h1v1h-1zM108.2 302.9h1v1h-1zM111.6 297h1v1h-1zM119 296.4h1v1h-1zM112.1 276.5h1v1h-1zM114.3 305.2h1v1h-1zM110.6 295.2h1v1h-1zM104.5 280.3h1v1h-1zM116.2 311.2h1v1h-1zM112.3 276.4h1v1h-1zM112 277.6h1v1h-1zM115.6 294.2h1v1h-1zM119.6 291.5h1v1h-1zM115.8 298.4h1v1h-1zM116.4 278.7h1v1h-1zM117.8 306.4h1v1h-1zM101.7 264.1h1v1h-1zM109.2 313.6h1v1h-1zM114.1 304h1v1h-1zM117 306.5h1v1h-1zM110.6 289.1h1v1h-1zM116 303.2h1v1h-1zM117.1 300h1v1h-1zM111.4 309h1v1h-1zM116.5 308.5h1v1h-1zM100.3 307.9h1v1h-1zM100.8 298.5h1v1h-1zM110.4 297.4h1v1h-1zM111.4 292.3h1v1h-1zM115 300.1h1v1h-1zM109.7 266.1h1v1h-1zM109.8 302.4h1v1h-1zM109.4 301.1h1v1h-1zM112 284.9h1v1h-1zM120.3 315.6h1v1h-1zM113.4 295.4h1v1h-1zM119.2 280.3h1v1h-1zM109.3 309.4h1v1h-1zM118.9 290.2h1v1h-1zM109.8 300.2h1v1h-1zM106.4 290.1h1v1h-1zM112.7 266.8h1v1h-1zM117.2 305.1h1v1h-1zM119.8 278.9h1v1h-1zM107 286.3h1v1h-1zM108.7 292.3h1v1h-1zM115.1 301.4h1v1h-1zM121.9 283.1h1v1h-1zM118.8 297.8h1v1h-1zM107.6 297.8h1v1h-1zM106.4 315.3h1v1h-1zM110 308h1v1h-1zM121.1 288.6h1v1h-1zM109.1 297.6h1v1h-1zM108.3 306.7h1v1h-1zM115 286.9h1v1h-1zM110.3 304.6h1v1h-1zM106.1 316.1h1v1h-1zM109.7 293.7h1v1h-1zM108.9 315.4h1v1h-1zM118.5 311.5h1v1h-1zM117.6 297.1h1v1h-1zM123.3 303.9h1v1h-1zM116.4 302.9h1v1h-1zM118 299.3h1v1h-1zM113.1 277h1v1h-1zM125.3 280.5h1v1h-1zM102.2 287.5h1v1h-1zM124.6 310.6h1v1h-1zM110.7 299.2h1v1h-1zM113.9 272.3h1v1h-1zM112.2 299.5h1v1h-1zM120.4 281.6h1v1h-1zM101.6 277.2h1v1h-1zM115.8 297h1v1h-1zM114.8 297.8h1v1h-1zM112 279.7h1v1h-1zM116.5 300.6h1v1h-1zM117.2 310.9h1v1h-1zM107.2 268h1v1h-1zM109 300.8h1v1h-1zM113.9 304.7h1v1h-1zM131.6 289.8h1v1h-1zM113.1 288.8h1v1h-1zM115.3 302.2h1v1h-1zM108.7 311.8h1v1h-1zM120.3 301.3h1v1h-1zM113.4 293.2h1v1h-1zM105 303.9h1v1h-1zM108.6 290h1v1h-1zM119.5 285h1v1h-1zM111.1 306.3h1v1h-1zM124.2 287.7h1v1h-1zM120.1 288.2h1v1h-1zM116.1 301.8h1v1h-1zM107.7 308.3h1v1h-1zM123.9 296.6h1v1h-1zM115.5 281.9h1v1h-1zM123.8 296.8h1v1h-1zM107 305.2h1v1h-1zM106 287.8h1v1h-1zM102.3 312.5h1v1h-1zM126.2 288.4h1v1h-1zM110.4 289.1h1v1h-1zM110.9 302.6h1v1h-1zM122 283.9h1v1h-1zM116.4 274.4h1v1h-1zM122.4 294.9h1v1h-1zM110.1 314.4h1v1h-1zM113.4 312.4h1v1h-1zM119.9 315.9h1v1h-1zM109.6 296.7h1v1h-1zM116 293.7h1v1h-1zM122.4 287.4h1v1h-1zM119.5 312.4h1v1h-1zM103.3 284.4h1v1h-1zM109 289.4h1v1h-1zM116.1 293.9h1v1h-1zM114.4 290.5h1v1h-1zM113.5 301.8h1v1h-1zM118.1 286.6h1v1h-1zM113.4 286.9h1v1h-1zM113 278.8h1v1h-1zM119.2 304.1h1v1h-1zM113.3 287.8h1v1h-1zM111.5 288h1v1h-1zM105.5 315.6h1v1h-1zM132.1 281.2h1v1h-1zM107.6 302.9h1v1h-1zM117.3 277.1h1v1h-1zM103.4 302.5h1v1h-1zM103 313.1h1v1h-1zM111.3 297h1v1h-1zM114 289.3h1v1h-1zM113.2 292.4h1v1h-1zM120.8 294.9h1v1h-1zM113.8 289.6h1v1h-1zM110.5 287.2h1v1h-1zM120.1 298.8h1v1h-1zM123.2 308.2h1v1h-1zM115.1 294h1v1h-1zM108 299h1v1h-1zM112.3 277h1v1h-1zM115.2 302h1v1h-1zM115.1 290.4h1v1h-1zM116.5 309h1v1h-1zM112.3 302.1h1v1h-1zM119.6 290.2h1v1h-1zM114.9 287.1h1v1h-1zM117.3 291.6h1v1h-1zM120.3 286.8h1v1h-1zM123.3 292.3h1v1h-1zM109.4 285.2h1v1h-1zM117.6 285.7h1v1h-1zM123.9 311.4h1v1h-1zM116.8 278.9h1v1h-1zM113.9 287.3h1v1h-1zM104 301.1h1v1h-1zM126.1 289.6h1v1h-1zM118.5 311.4h1v1h-1zM108.7 291.9h1v1h-1zM115.5 301.7h1v1h-1zM107.7 298.6h1v1h-1zM113.4 307.4h1v1h-1zM105.2 289.2h1v1h-1zM111.2 292.2h1v1h-1zM118 288.5h1v1h-1zM129.1 287.5h1v1h-1zM118.6 308.2h1v1h-1zM119.3 293.6h1v1h-1zM109.4 292.9h1v1h-1zM117.7 297.5h1v1h-1zM117.2 302.9h1v1h-1zM109.1 284.8h1v1h-1zM121.9 290.2h1v1h-1zM109.4 284.8h1v1h-1zM119.3 282.4h1v1h-1zM109.2 308.6h1v1h-1zM114.7 296.7h1v1h-1zM110.5 293.3h1v1h-1zM111.2 295.7h1v1h-1zM118.2 280.7h1v1h-1zM109 270.9h1v1h-1zM122.3 295.1h1v1h-1zM113.9 295.3h1v1h-1zM119.5 299.9h1v1h-1zM118.7 294h1v1h-1zM113.3 295.3h1v1h-1zM103.8 309.1h1v1h-1zM105.3 284.1h1v1h-1zM117.7 296.7h1v1h-1zM118.5 316.5h1v1h-1zM124.2 312.6h1v1h-1zM109.2 295h1v1h-1zM119.5 293.4h1v1h-1zM113.3 291.8h1v1h-1zM121.5 266.4h1v1h-1zM121 308.7h1v1h-1zM113.6 302.7h1v1h-1zM108.7 309.3h1v1h-1zM130.8 285h1v1h-1zM121.7 295.3h1v1h-1zM112.1 290.2h1v1h-1zM113 281h1v1h-1zM106.5 315.9h1v1h-1zM113.9 302.6h1v1h-1zM115.7 301.7h1v1h-1zM105.6 284.6h1v1h-1zM117.5 308h1v1h-1zM107.7 289.1h1v1h-1zM108.1 303.8h1v1h-1zM115.9 296.4h1v1h-1zM110.4 300.1h1v1h-1zM114.2 287.1h1v1h-1zM115.8 288h1v1h-1zM119.2 303.5h1v1h-1zM110.2 303h1v1h-1zM114.4 287.5h1v1h-1zM109 276h1v1h-1zM107.8 300.2h1v1h-1zM120.6 288.5h1v1h-1zM114.9 300.1h1v1h-1zM118.3 301.3h1v1h-1zM120.7 305.2h1v1h-1zM109.8 300.8h1v1h-1zM101.1 293.8h1v1h-1zM114.1 303h1v1h-1zM112.3 306h1v1h-1zM121.3 285.9h1v1h-1zM111 299.1h1v1h-1zM116.7 297.7h1v1h-1zM118.6 281.8h1v1h-1zM118.3 310h1v1h-1zM120.1 301.1h1v1h-1zM112.7 300.8h1v1h-1zM113.6 277h1v1h-1zM110.7 295.5h1v1h-1zM111.2 284.8h1v1h-1zM112.7 291.5h1v1h-1zM114.4 295.4h1v1h-1zM114.9 307.9h1v1h-1zM114.8 300.9h1v1h-1zM107.3 260.6h1v1h-1zM111.8 304.1h1v1h-1zM112.1 288.5h1v1h-1zM107.2 306.7h1v1h-1zM111.1 298.9h1v1h-1zM120.2 302.4h1v1h-1zM126.3 294.4h1v1h-1zM119.3 304.3h1v1h-1zM110.4 296.6h1v1h-1zM110.9 283.7h1v1h-1zM115.6 286.7h1v1h-1zM123.2 287.1h1v1h-1zM111 297.1h1v1h-1zM111.1 296.6h1v1h-1zM110.7 278.9h1v1h-1zM100.7 280.5h1v1h-1zM122.4 301.3h1v1h-1zM114.8 290.4h1v1h-1zM113.2 299.6h1v1h-1z"/>
<path fill="#d6d6d6" d="M105.3 277.2h1v1h-1zM111.3 310.1h1v1h-1zM109.3 308.8h1v1h-1zM121.1 290.5h1v1h-1zM138.2 304h1v1h-1zM133.3 272.9h1v1h-1zM135.6 316.9h1v1h-1zM120.8 282.3h1v1h-1zM108.9 306.3h1v1h-1zM125.5 290.1h1v1h-1zM107.2 315.9h1v1h-1zM132.5 289.7h1v1h-1zM139.7 274.8h1v1h-1zM132.6 274h1v1h-1zM138.9 285.6h1v1h-1zM136.7 283.3h1v1h-1zM126.8 308.3h1v1h-1zM111.2 291.6h1v1h-1zM111.9 303.6h1v1h-1zM114.8 284h1v1h-1zM119.6 308.6h1v1h-1zM109.5 289.6h1v1h-1zM118.1 281.2h1v1h-1zM112.6 287.4h1v1h-1zM124.4 265.2h1v1h-1zM124.8 271.1h1v1h-1zM110.4 288.9h1v1h-1zM118.9 305.7h1v1h-1zM116.3 261.4h1v1h-1zM102.7 292.8h1v1h-1zM125 307.1h1v1h-1zM115.6 300.7h1v1h-1zM109.2 310.7h1v1h-1zM121.1 279.2h1v1h-1zM111.8 270.2h1v1h-1zM109.8 271.5h1v1h-1zM121.4 295.6h1v1h-1zM120 293.2h1v1h-1zM136.2 285.4h1v1h-1zM107 253.4h1v1h-1zM124.9 279.1h1v1h-1zM119 296.6h1v1h-1zM127.6 264.9h1v1h-1zM110.5 291.2h1v1h-1zM120.3 308.3h1v1h-1zM116 257h1v1h-1zM136 263.8h1v1h-1zM110.4 296.2h1v1h-1zM124.9 298.6h1v1h-1zM128.5 278.5h1v1h-1zM137.1 263h1v1h-1zM115 294.6h1v1h-1zM123.7 274.7h1v1h-1zM141 313.5h1v1h-1zM110.8 296h1v1h-1zM114.4 283.1h1v1h-1zM133.8 292h1v1h-1zM120.7 291.6h1v1h-1zM107.9 309.5h1v1h-1zM113 310.9h1v1h-1zM116.5 282.7h1v1h-1zM139.8 293.1h1v1h-1zM114.3 281.4h1v1h-1zM129.4 283.7h1v1h-1zM108.5 279.2h1v1h-1zM120.6 293.9h1v1h-1zM114.1 310.5h1v1h-1zM110.5 278.6h1v1h-1zM128 297.7h1v1h-1zM117.3 305.4h1v1h-1zM105.1 316.1h1v1h-1zM122.6 311.3h1v1h-1zM119.6 293.1h1v1h-1zM128.3 262.1h1v1h-1zM86.9 296.2h1v1h-1zM133.1 295.2h1v1h-1zM124.3 312.2h1v1h-1zM126 259.7h1v1h-1zM110.7 285.3h1v1h-1zM123.7 282.8h1v1h-1zM120.7 316.7h1v1h-1zM86.8 308.4h1v1h-1zM133.2 299.6h1v1h-1zM122.2 291h1v1h-1zM126.4 293.9h1v1h-1zM113.3 302.5h1v1h-1zM112.1 289.4h1v1h-1zM117.7 271.6h1v1h-1zM129.3 288.9h1v1h-1zM108 288.8h1v1h-1zM105.5 312.9h1v1h-1zM115.2 301.3h1v1h-1zM110.4 276.4h1v1h-1zM120.9 296.6h1v1h-1zM133.1 285.7h1v1h-1zM135.2 305.4h1v1h-1zM111.5 287.2h1v1h-1zM115.4 304.1h1v1h-1zM132.9 285.9h1v1h-1z"/>
<polygon points="129.1,235 156.8,235 156.8,245.2 129.1,245.2" fill="#fff"/>
<rect x="129.1" y="235" width="27.7" height="10.2" fill="none" stroke="#2a2222" stroke-width="1.1"/>
<polygon points="125.1,246.5 141.5,245.4 144.2,246.8 144.2,249.8 142,253 139.3,256.2 129.6,260.1" fill="#fff"/>
<polygon points="125.1,246.5 141.5,245.4 144.2,246.8 144.2,249.8 142,253 139.3,256.2 129.6,260.1" fill="none" stroke="#111" stroke-width="1.1" stroke-linejoin="round"/>
<polygon points="111.1,252.1 125.1,246.5 129.6,260.4 115.2,265.4" fill="#fff"/>
<polygon points="111.1,252.1 125.1,246.5 129.6,260.4 115.2,265.4" fill="none" stroke="#111" stroke-width="1.1" stroke-linejoin="round"/>
<polygon points="95,258.5 111.1,252.1 115.2,265.4 101.3,272.3" fill="#fbfdf8"/>
<path fill="#7ec07e" d="M99.8 264.5h1v1h-1zM98.8 259.7h1v1h-1zM98.1 264.5h1v1h-1zM102.2 268.8h1v1h-1zM103.9 263.9h1v1h-1zM106.6 262.4h1v1h-1zM99.7 260.4h1v1h-1zM99.2 263.8h1v1h-1zM103.8 267.3h1v1h-1zM100.6 261.3h1v1h-1zM100.3 262.2h1v1h-1zM99.9 262.3h1v1h-1zM98.5 263.3h1v1h-1zM99.7 263h1v1h-1zM103.5 265.4h1v1h-1zM99.6 260.1h1v1h-1zM97 260h1v1h-1zM99.3 262.6h1v1h-1zM96.2 261.5h1v1h-1zM99 266h1v1h-1zM107.9 262.4h1v1h-1zM100.5 262.3h1v1h-1zM100.8 263h1v1h-1zM110.1 260.3h1v1h-1zM101.1 261.2h1v1h-1zM102.7 262h1v1h-1zM103.5 260.3h1v1h-1zM108.8 264.1h1v1h-1zM99.9 260.1h1v1h-1zM103 262h1v1h-1z"/>
<path fill="#b4dab4" d="M112.7 258.4h1v1h-1zM95 258.4h1v1h-1zM107.1 254h1v1h-1zM97.7 257.5h1v1h-1zM100.1 270.2h1v1h-1zM110.6 257.3h1v1h-1zM109.3 256.2h1v1h-1zM105.7 264h1v1h-1zM108.6 261h1v1h-1zM110.4 260.8h1v1h-1zM100.2 266.6h1v1h-1zM111.3 256.6h1v1h-1zM108.5 259.6h1v1h-1zM104.8 261.7h1v1h-1zM101.7 255.8h1v1h-1zM101.5 266.4h1v1h-1zM107.8 259.8h1v1h-1zM105.1 254.7h1v1h-1zM113.1 261.1h1v1h-1zM104.7 267.5h1v1h-1zM98.5 266.2h1v1h-1zM101.6 268h1v1h-1zM107.3 261.3h1v1h-1zM102.1 263.3h1v1h-1zM98.9 260.4h1v1h-1zM99.6 268.4h1v1h-1zM105.7 263.8h1v1h-1zM107.1 254.1h1v1h-1zM110.2 257.5h1v1h-1zM108.2 268.1h1v1h-1zM103.3 265.2h1v1h-1zM96.5 259.9h1v1h-1zM104.8 254.6h1v1h-1zM98.2 263.3h1v1h-1zM98.3 261.2h1v1h-1zM105.4 260.5h1v1h-1zM104.7 268.5h1v1h-1zM110 263.1h1v1h-1zM105.4 256h1v1h-1zM110.3 257.8h1v1h-1z"/>
<polygon points="95,258.5 111.1,252.1 115.2,265.4 101.3,272.3" fill="none" stroke="#111" stroke-width="1.1" stroke-linejoin="round"/>
<polygon points="80.7,267.9 86.2,263.3 93.6,260.5 101.8,277 101.8,279.8 79.8,284.4 78.5,273.4" fill="url(#bluefade)"/>
<path fill="#ffffff" d="M87.1 264.1h1v1h-1zM84.3 266h1v1h-1zM92.8 265.7h1v1h-1zM86.7 264.4h1v1h-1zM93.7 266.4h1v1h-1zM88.4 264.7h1v1h-1zM87.5 265.5h1v1h-1zM87.5 265.5h1v1h-1zM84.5 265.1h1v1h-1zM86.1 266.3h1v1h-1zM82.6 266.5h1v1h-1zM87.2 264.4h1v1h-1zM87.6 265.2h1v1h-1zM86.6 265.5h1v1h-1zM90.2 265h1v1h-1zM94 265.5h1v1h-1zM84.8 265.6h1v1h-1zM83.2 264.9h1v1h-1zM89.7 263.8h1v1h-1zM89.3 266.1h1v1h-1zM90.7 264.2h1v1h-1zM84.8 263.7h1v1h-1zM87.7 266.5h1v1h-1zM88.6 264.6h1v1h-1zM81.9 266.8h1v1h-1z"/>
<path fill="#2a7ef0" d="M86.1 264.5h1v1h-1zM88 263.1h1v1h-1zM87.8 265.4h1v1h-1zM87.1 266.6h1v1h-1zM89.8 264.7h1v1h-1zM83.1 266.3h1v1h-1zM84.4 265.2h1v1h-1zM86.4 263.3h1v1h-1zM90.3 266.1h1v1h-1zM94 266h1v1h-1zM91.8 264.9h1v1h-1zM83.8 265.2h1v1h-1zM83.7 264.9h1v1h-1zM89.3 264.2h1v1h-1zM89 264.2h1v1h-1zM85.2 265.2h1v1h-1zM89.7 264.9h1v1h-1zM87.4 263.8h1v1h-1zM85.1 265.4h1v1h-1zM93.4 263.3h1v1h-1z"/>
<polygon points="80.7,267.9 86.2,263.3 93.6,260.5 101.8,277 101.8,279.8 79.8,284.4 78.5,273.4" fill="none" stroke="#111" stroke-width="1.1" stroke-linejoin="round"/>
<polygon points="79.8,284.4 101.8,279.8 100.9,308.3 100,314.7 89,315.7 82.5,295.4" fill="#c8900e"/>
<polygon points="79.8,284.4 101.8,279.8 100.9,308.3 100,314.7 89,315.7 82.5,295.4" fill="none" stroke="#111" stroke-width="1.1" stroke-linejoin="round"/>
<path d="M111.1 252.1L115.2 265.4" stroke="#111" stroke-width="1.9" stroke-dasharray="2.2 0.8"/>
<path d="M125.1 246.5L129.6 260.4" stroke="#111" stroke-width="1.9" stroke-dasharray="2.2 0.8"/>
<rect x="67.1" y="225.6" width="111.7" height="92.6" fill="none" stroke="#333" stroke-width="1.1"/>
<text x="162.9" y="243.1" font-size="9" fill="#383838" text-anchor="middle" font-family='"Liberation Sans", sans-serif' font-weight="normal" textLength="3" lengthAdjust="spacingAndGlyphs" stroke="#383838" stroke-width="0.4">I</text>
<text x="147.8" y="261.8" font-size="9" fill="#383838" text-anchor="middle" font-family='"Liberation Sans", sans-serif' font-weight="normal" textLength="5.8" lengthAdjust="spacingAndGlyphs" stroke="#383838" stroke-width="0.4">II</text>
<text x="127.5" y="272.3" font-size="9" fill="#383838" text-anchor="middle" font-family='"Liberation Sans", sans-serif' font-weight="normal" textLength="7.6" lengthAdjust="spacingAndGlyphs" stroke="#383838" stroke-width="0.4">III</text>
<text x="112.8" y="278.6" font-size="9" fill="#383838" text-anchor="middle" font-family='"Liberation Sans", sans-serif' font-weight="normal" textLength="8.5" lengthAdjust="spacingAndGlyphs" stroke="#383838" stroke-width="0.4">IV</text>
<text x="74.8" y="267.9" font-size="9" fill="#383838" text-anchor="middle" font-family='"Liberation Sans", sans-serif' font-weight="normal" textLength="6.9" lengthAdjust="spacingAndGlyphs" stroke="#383838" stroke-width="0.4">V</text>
<text x="76.1" y="302.8" font-size="9" fill="#383838" text-anchor="middle" font-family='"Liberation Sans", sans-serif' font-weight="normal" textLength="9.6" lengthAdjust="spacingAndGlyphs" stroke="#383838" stroke-width="0.4">VI</text>
<text x="77.4" y="223.1" font-size="9.7" fill="#2a2a2a" text-anchor="start" font-family='"Liberation Sans", sans-serif' font-weight="normal" textLength="59.6" lengthAdjust="spacingAndGlyphs" stroke="#2a2a2a" stroke-width="0.1">WT-SPLEEN</text>
<text transform="translate(45.6,271.5) rotate(-90)" font-size="10" font-family='"Liberation Sans", sans-serif' fill="#222" stroke="#222" stroke-width="0.12" text-anchor="middle" textLength="56.5" lengthAdjust="spacingAndGlyphs">CD44 APC-A</text>
<path d="M70.7 318.2v4.6M74.9 318.2v4.6M79.2 318.2v4.6M83.5 318.2v4.6M87.7 318.2v7.4M92 318.2v4.6M96.3 318.2v4.6M100.5 318.2v4.6M104.8 318.2v4.6M109.1 318.2v7.4M113.3 318.2v4.6M117.6 318.2v4.6M121.8 318.2v4.6M126.1 318.2v4.6M130.4 318.2v7.4M134.6 318.2v4.6M138.9 318.2v4.6M143.2 318.2v4.6M147.4 318.2v4.6M151.7 318.2v7.4M156 318.2v4.6M160.2 318.2v4.6M164.5 318.2v4.6M168.8 318.2v4.6M173 318.2v7.4M177.3 318.2v4.6M60.1 305.2h7M63.5 298.2h3.6M63.5 294.1h3.6M63.5 291.1h3.6M63.5 288.9h3.6M63.5 287h3.6M63.5 285.5h3.6M63.5 284.1h3.6M63.5 282.9h3.6M60.1 281.8h7M63.5 274.8h3.6M63.5 270.7h3.6M63.5 267.8h3.6M63.5 265.5h3.6M63.5 263.7h3.6M63.5 262.1h3.6M63.5 260.7h3.6M63.5 259.5h3.6M60.1 258.5h7M63.5 251.4h3.6M63.5 247.3h3.6M63.5 244.4h3.6M63.5 242.1h3.6M63.5 240.3h3.6M63.5 238.7h3.6M63.5 237.4h3.6M63.5 236.2h3.6M60.1 235.1h7M63.5 228.1h3.6M63.5 308.4h3.6M63.5 310.8h3.6M63.5 313h3.6M63.5 315.2h3.6M63.5 317.6h3.6" stroke="#222" stroke-width="0.9" fill="none"/>
<text x="87.7" y="334.7" font-size="7.6" fill="#222" text-anchor="middle" font-family='"Liberation Sans", sans-serif' font-weight="normal" textLength="8" lengthAdjust="spacingAndGlyphs" stroke="#222" stroke-width="0.3">50</text>
<text x="109.1" y="334.7" font-size="7.6" fill="#222" text-anchor="middle" font-family='"Liberation Sans", sans-serif' font-weight="normal" textLength="11.2" lengthAdjust="spacingAndGlyphs" stroke="#222" stroke-width="0.3">100</text>
<text x="130.4" y="334.7" font-size="7.6" fill="#222" text-anchor="middle" font-family='"Liberation Sans", sans-serif' font-weight="normal" textLength="11.2" lengthAdjust="spacingAndGlyphs" stroke="#222" stroke-width="0.3">150</text>
<text x="151.7" y="334.7" font-size="7.6" fill="#222" text-anchor="middle" font-family='"Liberation Sans", sans-serif' font-weight="normal" textLength="11.2" lengthAdjust="spacingAndGlyphs" stroke="#222" stroke-width="0.3">200</text>
<text x="173" y="334.7" font-size="7.6" fill="#222" text-anchor="middle" font-family='"Liberation Sans", sans-serif' font-weight="normal" textLength="11.2" lengthAdjust="spacingAndGlyphs" stroke="#222" stroke-width="0.3">250</text>
<text x="107.4" y="346.5" font-size="9.9" fill="#222" text-anchor="start" font-family='"Liberation Sans", sans-serif' font-weight="normal" textLength="30" lengthAdjust="spacingAndGlyphs" stroke="#222" stroke-width="0.2">FSC-A</text>
<text x="147" y="343.5" font-size="7.9" fill="#222" text-anchor="start" font-family='"Liberation Sans", sans-serif' font-weight="normal" textLength="31.6" lengthAdjust="spacingAndGlyphs" stroke="#222" stroke-width="0.2">(x 1,000)</text>
<g transform="translate(58.5,310.6) rotate(-90)" font-family='"Liberation Sans", sans-serif' fill="#222" stroke="#222" stroke-width="0.25"><text x="0" y="0" font-size="7.8" textLength="7.4" lengthAdjust="spacingAndGlyphs">10</text><text x="7.6" y="-5.0" font-size="8.2">2</text></g>
<g transform="translate(58.5,287.2) rotate(-90)" font-family='"Liberation Sans", sans-serif' fill="#222" stroke="#222" stroke-width="0.25"><text x="0" y="0" font-size="7.8" textLength="7.4" lengthAdjust="spacingAndGlyphs">10</text><text x="7.6" y="-5.0" font-size="8.2">3</text></g>
<g transform="translate(58.5,263.9) rotate(-90)" font-family='"Liberation Sans", sans-serif' fill="#222" stroke="#222" stroke-width="0.25"><text x="0" y="0" font-size="7.8" textLength="7.4" lengthAdjust="spacingAndGlyphs">10</text><text x="7.6" y="-5.0" font-size="8.2">4</text></g>
<g transform="translate(58.5,240.5) rotate(-90)" font-family='"Liberation Sans", sans-serif' fill="#222" stroke="#222" stroke-width="0.25"><text x="0" y="0" font-size="7.8" textLength="7.4" lengthAdjust="spacingAndGlyphs">10</text><text x="7.6" y="-5.0" font-size="8.2">5</text></g>
<rect x="196.6" y="207.6" width="153.8" height="144.3" fill="none" stroke="#262626" stroke-width="1.2"/>
<path fill="#e0e0e0" d="M259.5 277.3h1v1h-1zM279.1 229.6h1v1h-1zM282.2 309.5h1v1h-1zM266.6 279.6h1v1h-1zM311.4 232.2h1v1h-1zM335 236.4h1v1h-1zM266.5 291.4h1v1h-1zM235.4 260.5h1v1h-1zM247.2 269.4h1v1h-1zM235 240.2h1v1h-1zM257.8 233.9h1v1h-1zM243.3 244.1h1v1h-1zM290.2 238.9h1v1h-1zM323.6 264.3h1v1h-1zM261 248.3h1v1h-1zM325.7 230.7h1v1h-1zM314.9 235.3h1v1h-1zM337.2 263.5h1v1h-1zM299 304.7h1v1h-1zM244.3 232.3h1v1h-1zM309.6 279.7h1v1h-1zM312.6 251.7h1v1h-1zM288 243.4h1v1h-1zM281.4 252h1v1h-1zM297.7 253.6h1v1h-1zM263.5 284.7h1v1h-1zM242.7 299.1h1v1h-1zM287.8 247.2h1v1h-1zM245.9 272.6h1v1h-1zM288.7 291.7h1v1h-1zM274.4 263.8h1v1h-1zM331.5 251.3h1v1h-1zM341.2 307.4h1v1h-1zM342.2 312h1v1h-1zM261.6 300.3h1v1h-1zM300.6 245h1v1h-1zM343 285.2h1v1h-1zM322.4 277.1h1v1h-1zM242 304.7h1v1h-1zM252.6 250h1v1h-1zM301.1 244.1h1v1h-1zM284.2 291.2h1v1h-1zM243.9 286.4h1v1h-1zM244.8 269.6h1v1h-1zM304.7 288.8h1v1h-1zM238 243.8h1v1h-1zM338.9 261.9h1v1h-1zM280 260.4h1v1h-1zM309.9 293.6h1v1h-1zM304.8 263h1v1h-1zM295.9 273.2h1v1h-1zM254 312.5h1v1h-1zM339.4 296.9h1v1h-1zM342.5 268.7h1v1h-1zM325.6 248.3h1v1h-1zM315 291.3h1v1h-1zM336.5 302h1v1h-1zM330 250.8h1v1h-1zM319.9 269.6h1v1h-1zM267.7 259.9h1v1h-1z"/>
<path fill="#c8c8c8" d="M329.6 254h1v1h-1zM316.9 269.1h1v1h-1zM309.7 274.5h1v1h-1zM281.4 293h1v1h-1zM287.8 278.5h1v1h-1zM326.4 264h1v1h-1zM302.2 276.6h1v1h-1zM305.7 277.5h1v1h-1zM308.2 276.9h1v1h-1zM285.5 283.1h1v1h-1zM275.1 280.1h1v1h-1zM304.4 276.5h1v1h-1zM325.5 266.9h1v1h-1zM337.2 265.8h1v1h-1zM269.2 280.4h1v1h-1zM308.6 262.8h1v1h-1zM276.7 283.6h1v1h-1zM300 283.3h1v1h-1zM310.3 263h1v1h-1zM318.8 264.7h1v1h-1zM303.3 280.3h1v1h-1zM298.8 279.7h1v1h-1zM324.6 262.3h1v1h-1zM323.1 263.5h1v1h-1zM292.1 276.4h1v1h-1zM297 283.3h1v1h-1zM325.1 269.3h1v1h-1zM332.6 260.7h1v1h-1zM297.4 283.3h1v1h-1zM329.4 258.1h1v1h-1zM319.1 279.7h1v1h-1zM286.7 286.4h1v1h-1zM266.1 290h1v1h-1zM326.6 261.6h1v1h-1zM319.9 260.8h1v1h-1zM285.7 279.6h1v1h-1zM309.5 267.3h1v1h-1zM314.6 268.7h1v1h-1zM295 278.4h1v1h-1zM265.4 292.5h1v1h-1zM326.8 263.6h1v1h-1zM309.1 269.1h1v1h-1zM295.6 283.5h1v1h-1zM269.8 286.4h1v1h-1zM301.5 274.1h1v1h-1zM321.8 258h1v1h-1zM269.7 280h1v1h-1zM337.2 253.9h1v1h-1zM327.7 255.8h1v1h-1zM337.5 248.4h1v1h-1zM282.5 279.1h1v1h-1zM290.6 272.7h1v1h-1zM281.5 275.3h1v1h-1zM314.1 266.8h1v1h-1zM342.9 256.3h1v1h-1zM305.6 257.6h1v1h-1zM305.4 269.2h1v1h-1zM302.9 259.7h1v1h-1zM266.6 298.8h1v1h-1zM274.4 286.7h1v1h-1zM315.2 263.8h1v1h-1zM297.1 284.4h1v1h-1zM302.5 268.8h1v1h-1zM318.2 267h1v1h-1zM334.8 262.7h1v1h-1zM291.1 283.9h1v1h-1zM273.9 280.8h1v1h-1zM337.6 257.7h1v1h-1zM306.3 271.6h1v1h-1zM322.1 264.4h1v1h-1zM337.2 259.3h1v1h-1zM283.4 287.7h1v1h-1zM315.4 264.2h1v1h-1zM321.7 261.8h1v1h-1zM327.3 258.1h1v1h-1zM335.2 253.8h1v1h-1zM276.4 283h1v1h-1zM277.5 278h1v1h-1zM320.3 255.3h1v1h-1zM298 268.8h1v1h-1zM288.2 272.1h1v1h-1zM324.1 258.7h1v1h-1zM284.5 280.5h1v1h-1zM331.3 257.5h1v1h-1zM316.2 263.3h1v1h-1zM323.4 258.5h1v1h-1zM275 295h1v1h-1zM302.9 271h1v1h-1zM271.2 294.6h1v1h-1zM288.5 288.1h1v1h-1zM275.2 285h1v1h-1zM281.5 272.7h1v1h-1zM296.6 276.1h1v1h-1zM293.6 286.9h1v1h-1zM319.9 259h1v1h-1zM321 269.1h1v1h-1zM288.3 287.8h1v1h-1zM282.7 286.1h1v1h-1zM325.1 255.4h1v1h-1zM306.3 271.1h1v1h-1zM291.5 270.2h1v1h-1zM287.3 283.4h1v1h-1zM304.5 269.5h1v1h-1zM305.1 274.5h1v1h-1zM301.6 267.7h1v1h-1zM300.7 281.8h1v1h-1zM326.9 260.7h1v1h-1zM286.8 278.8h1v1h-1zM289.5 276.6h1v1h-1zM336.7 255.7h1v1h-1zM342.8 264.9h1v1h-1zM317.1 263.9h1v1h-1zM319.1 268h1v1h-1zM284.6 276.9h1v1h-1zM300.9 284.1h1v1h-1zM331.4 271.7h1v1h-1zM281.4 285.9h1v1h-1zM318.5 262.2h1v1h-1zM311.5 269.6h1v1h-1zM268.1 286.8h1v1h-1zM305.5 273.8h1v1h-1zM291.2 279.2h1v1h-1zM328.6 253.7h1v1h-1zM299 279.4h1v1h-1zM290.4 277.3h1v1h-1zM308.7 271.9h1v1h-1zM275.9 291.6h1v1h-1zM331.2 267.6h1v1h-1zM294 273.1h1v1h-1zM279.7 291.5h1v1h-1zM308.7 273.5h1v1h-1zM325.2 263.1h1v1h-1zM305.6 267.7h1v1h-1zM271.7 288.6h1v1h-1zM317.2 261.3h1v1h-1zM300.6 277.6h1v1h-1zM284.5 278.6h1v1h-1zM313.4 272.4h1v1h-1zM307.7 265h1v1h-1zM313.1 282.9h1v1h-1zM308.7 265h1v1h-1zM275 289.6h1v1h-1zM332.7 260.9h1v1h-1zM330.7 251.8h1v1h-1zM291.4 287.2h1v1h-1zM289.5 275h1v1h-1zM313.5 259.3h1v1h-1zM326.4 265.6h1v1h-1zM271.6 288.8h1v1h-1zM300.5 276.4h1v1h-1zM293.7 287.4h1v1h-1zM307.6 264.9h1v1h-1zM273 285.2h1v1h-1zM306 273.5h1v1h-1zM315.9 259.6h1v1h-1zM299.3 267.1h1v1h-1zM277.4 281.3h1v1h-1zM320.9 268.6h1v1h-1zM297.1 280.6h1v1h-1zM316.9 263h1v1h-1zM325.9 270h1v1h-1zM283.2 287h1v1h-1zM303.7 282.3h1v1h-1zM332.1 265.3h1v1h-1zM313.7 264.2h1v1h-1zM335.4 256.5h1v1h-1zM291 281.4h1v1h-1zM300.1 274.3h1v1h-1zM326.5 261.5h1v1h-1zM330.7 261.9h1v1h-1zM276.2 287.8h1v1h-1zM282.2 290.3h1v1h-1zM298.3 280.1h1v1h-1zM321.9 258.4h1v1h-1zM334.1 251.7h1v1h-1zM301.1 275.7h1v1h-1zM328.4 257.6h1v1h-1zM333.9 256.8h1v1h-1zM318.1 271.7h1v1h-1zM323.3 265.5h1v1h-1zM317.7 273.3h1v1h-1zM302.1 274.8h1v1h-1zM322.2 266.1h1v1h-1zM281.6 290.8h1v1h-1zM282.5 281.7h1v1h-1zM314 266.2h1v1h-1zM285.3 276.8h1v1h-1zM330.7 261.7h1v1h-1zM327.9 267.3h1v1h-1z"/>
<path fill="#cccccc" d="M266.6 295.8h1v1h-1zM247 293.2h1v1h-1zM273.1 313.1h1v1h-1zM264.8 283.6h1v1h-1zM260.4 297.3h1v1h-1zM266.1 298.8h1v1h-1zM265.3 284.3h1v1h-1zM258.6 313.9h1v1h-1zM253.1 308.9h1v1h-1zM278.7 306.3h1v1h-1zM253.6 312h1v1h-1zM250.4 303.2h1v1h-1zM260.2 311.9h1v1h-1zM271 301.8h1v1h-1zM275.2 309.5h1v1h-1zM259.8 290.6h1v1h-1zM279.7 296.1h1v1h-1zM265.8 298.9h1v1h-1zM259.8 284.5h1v1h-1zM262 298.9h1v1h-1zM269.7 295.1h1v1h-1zM252.4 289.7h1v1h-1zM262.7 302.4h1v1h-1zM267.9 296.3h1v1h-1zM266.7 301.4h1v1h-1zM274.5 299.5h1v1h-1zM264 305.5h1v1h-1zM271.3 291.1h1v1h-1zM259.8 297.4h1v1h-1zM248.5 312.5h1v1h-1zM270.3 300.2h1v1h-1zM285.9 312.2h1v1h-1zM276.8 315.1h1v1h-1zM269.2 286.4h1v1h-1zM273.4 304h1v1h-1zM254.9 300.5h1v1h-1zM268.1 309.5h1v1h-1zM264.2 295h1v1h-1zM268.2 292.7h1v1h-1zM262.5 307.4h1v1h-1zM253.2 303.6h1v1h-1zM249.7 291.1h1v1h-1zM254.6 299.1h1v1h-1zM267.9 299.5h1v1h-1zM269.2 300.9h1v1h-1zM261.6 304.7h1v1h-1zM261.4 301.3h1v1h-1zM270.1 294.5h1v1h-1zM270.8 289.3h1v1h-1zM261.5 283.3h1v1h-1zM259.4 315.3h1v1h-1zM265.4 312.2h1v1h-1zM253 290.3h1v1h-1zM266.2 308h1v1h-1zM268.7 283.9h1v1h-1zM266.5 299.3h1v1h-1zM263.8 304.6h1v1h-1zM261.1 283.7h1v1h-1zM255.7 286.1h1v1h-1zM254 298.7h1v1h-1zM271.9 293.1h1v1h-1zM257.8 288.9h1v1h-1zM251.2 300.6h1v1h-1zM259.7 297.7h1v1h-1zM256.5 304.7h1v1h-1zM254.8 305.3h1v1h-1zM258.5 307.6h1v1h-1zM257 304.3h1v1h-1zM266 299.2h1v1h-1zM274.1 301.7h1v1h-1zM257 306.7h1v1h-1zM257.4 294.8h1v1h-1zM263.1 301.8h1v1h-1zM274.6 283.2h1v1h-1zM261.2 310.9h1v1h-1zM261.9 303.1h1v1h-1zM273.4 288.1h1v1h-1zM263.3 307.7h1v1h-1zM259 283.1h1v1h-1zM256.2 301.9h1v1h-1z"/>
<polygon points="294.2,237.5 322.5,237.5 322.5,246 294.2,246" fill="#e23434"/>
<path fill="#fff" d="M300.3 243.8h1v1h-1zM318.1 244.3h1v1h-1zM296.9 242h1v1h-1zM321.6 243.1h1v1h-1zM306.7 238.2h1v1h-1zM295.4 243.2h1v1h-1zM295.6 243.9h1v1h-1zM312.5 241h1v1h-1zM318.9 244.9h1v1h-1zM311.1 237.8h1v1h-1zM310.4 240.6h1v1h-1zM300.8 244.9h1v1h-1zM314.4 238h1v1h-1zM300.2 239.9h1v1h-1zM309.9 239.8h1v1h-1zM306.1 243.9h1v1h-1zM298.8 243.1h1v1h-1zM303.1 245h1v1h-1zM320.6 239.8h1v1h-1zM310.9 237.9h1v1h-1zM305.3 242.3h1v1h-1zM311.8 239.9h1v1h-1zM294.7 238.1h1v1h-1zM309.6 238.5h1v1h-1zM302.4 242.3h1v1h-1zM319.2 241.4h1v1h-1zM300.9 242h1v1h-1zM301.5 243.6h1v1h-1zM298.1 239.2h1v1h-1zM306.1 244.7h1v1h-1zM298.4 238.6h1v1h-1zM297.4 238.8h1v1h-1zM303.1 240.4h1v1h-1zM315.2 240.4h1v1h-1zM307.1 240.4h1v1h-1zM315.6 244.7h1v1h-1zM305.7 244.8h1v1h-1zM300.8 245.3h1v1h-1zM308.6 242.8h1v1h-1zM304.5 239.3h1v1h-1zM297.5 244.5h1v1h-1zM303.9 242.9h1v1h-1zM306.7 241.5h1v1h-1zM299.6 238.5h1v1h-1zM303.2 242.8h1v1h-1zM309.1 237h1v1h-1zM313.8 240.7h1v1h-1zM295.7 239.2h1v1h-1zM299.7 244h1v1h-1zM309.3 239.8h1v1h-1zM300.7 239.5h1v1h-1zM301.6 239.9h1v1h-1zM316.1 243.7h1v1h-1zM313.5 244.5h1v1h-1zM312.2 238h1v1h-1z"/>
<path fill="#f6b0b0" d="M295 238.4h1v1h-1zM301 241.5h1v1h-1zM317 242h1v1h-1zM305.9 239.1h1v1h-1zM321.5 243.4h1v1h-1zM303.4 237.4h1v1h-1zM321.5 239.2h1v1h-1zM317.7 238h1v1h-1zM312.2 240h1v1h-1zM318.9 239.5h1v1h-1zM296.6 238.7h1v1h-1zM316.5 245.3h1v1h-1zM311.9 242.8h1v1h-1zM301.7 239.3h1v1h-1zM296.2 245.4h1v1h-1zM294.9 242.2h1v1h-1zM303.6 238.6h1v1h-1zM306 244.9h1v1h-1zM300.7 238.4h1v1h-1zM311.5 242.6h1v1h-1zM308.2 238.5h1v1h-1zM318.4 237.9h1v1h-1zM298.6 239.1h1v1h-1zM308.2 241h1v1h-1zM309.4 243.2h1v1h-1zM319 241h1v1h-1zM294.9 244.1h1v1h-1zM294.2 239.7h1v1h-1zM297.7 242.1h1v1h-1zM315.8 238.1h1v1h-1zM302 244.2h1v1h-1zM313.2 237.9h1v1h-1zM313.1 243.7h1v1h-1zM305.3 238.3h1v1h-1zM312.3 239.7h1v1h-1zM297.5 238.4h1v1h-1zM305.1 238.1h1v1h-1zM304.6 241.7h1v1h-1zM309.3 240.4h1v1h-1zM316.3 237.7h1v1h-1z"/>
<rect x="294.2" y="237.5" width="28.3" height="8.5" fill="none" stroke="#2a2222" stroke-width="1.1"/>
<polygon points="293.3,248.8 307.5,247.3 310.3,249.3 309.6,252.5 307,256.5 302.5,259.8 294.5,264" fill="#1616e6"/>
<path fill="#9090f8" d="M306.9 250.4h1v1h-1zM302.9 251.8h1v1h-1zM303.4 251.7h1v1h-1zM304.2 257.1h1v1h-1zM301.2 258.3h1v1h-1zM301.2 255.2h1v1h-1zM301 250.4h1v1h-1zM304.3 249.6h1v1h-1zM301.8 257h1v1h-1zM302.8 250.9h1v1h-1zM300.6 257.5h1v1h-1zM297.2 256.8h1v1h-1zM301.1 257.7h1v1h-1zM297.6 255.1h1v1h-1zM304.6 253.6h1v1h-1zM301.4 252.6h1v1h-1zM305.8 251.6h1v1h-1zM299.8 254.5h1v1h-1zM303.3 253.1h1v1h-1zM304.2 256.5h1v1h-1zM303.3 255.3h1v1h-1zM303.9 252.1h1v1h-1zM299 254.3h1v1h-1zM299.3 257.5h1v1h-1zM303.8 256.5h1v1h-1z"/>
<polygon points="293.3,248.8 307.5,247.3 310.3,249.3 309.6,252.5 307,256.5 302.5,259.8 294.5,264" fill="none" stroke="#111" stroke-width="1.1" stroke-linejoin="round"/>
<polygon points="278.1,253.4 293.3,249.1 294.5,263.8 281.4,267.2" fill="#d61ad6"/>
<polygon points="278.1,253.4 293.3,249.1 294.5,263.8 281.4,267.2" fill="none" stroke="#111" stroke-width="1.1" stroke-linejoin="round"/>
<polygon points="262.5,260.8 277.9,254 280.9,267 267.7,273.4" fill="#0e6e12"/>
<polygon points="262.5,260.8 277.9,254 280.9,267 267.7,273.4" fill="none" stroke="#111" stroke-width="1.1" stroke-linejoin="round"/>
<polygon points="247.5,265.1 253,261.6 259.4,260.3 267.6,276.2 268.4,278.8 246.6,284.4 245.6,272.5" fill="#2a7ef0"/>
<path fill="#d8e8fc" d="M254.7 261.8h1v1h-1zM256.4 262.1h1v1h-1zM253.9 261.3h1v1h-1zM256.2 263.2h1v1h-1zM258.9 260.8h1v1h-1zM249.8 262.8h1v1h-1zM251.7 265h1v1h-1zM251.3 263.8h1v1h-1zM254.8 261.4h1v1h-1zM250.2 263.6h1v1h-1zM255.2 261h1v1h-1zM259.3 261.9h1v1h-1zM255.5 262.2h1v1h-1zM258.1 262.7h1v1h-1z"/>
<path fill="#a0c8f8" d="M252.4 266.1h1v1h-1zM255.3 261.7h1v1h-1zM257.8 270.5h1v1h-1zM252.1 274.3h1v1h-1zM266.9 277.3h1v1h-1zM247.9 268.1h1v1h-1zM248 270h1v1h-1zM257.1 267h1v1h-1zM260.5 273.3h1v1h-1zM258.7 267h1v1h-1z"/>
<polygon points="247.5,265.1 253,261.6 259.4,260.3 267.6,276.2 268.4,278.8 246.6,284.4 245.6,272.5" fill="none" stroke="#111" stroke-width="1.1" stroke-linejoin="round"/>
<polygon points="246.6,284.4 268.4,278.8 269.5,299.1 267.7,313.8 255,315.2 250.6,297.3" fill="url(#goldfade5)"/>
<path fill="#fff" d="M258.6 301.9h1v1h-1zM258 304h1v1h-1zM254.7 310.4h1v1h-1zM266 310.9h1v1h-1zM256.6 307.4h1v1h-1zM267.4 301.6h1v1h-1zM266.2 302.2h1v1h-1zM255.8 309.7h1v1h-1zM262.4 309.3h1v1h-1zM265.1 309.7h1v1h-1zM257.1 313.2h1v1h-1zM266.4 311.9h1v1h-1zM257.7 295.2h1v1h-1zM262.1 308.6h1v1h-1zM259.5 310.6h1v1h-1zM263.9 308.2h1v1h-1zM254.2 307.7h1v1h-1zM265.7 310.1h1v1h-1zM263.8 308.2h1v1h-1zM258 307.7h1v1h-1zM261.5 308.6h1v1h-1zM257.7 305.1h1v1h-1zM261 311.1h1v1h-1zM254.8 308.7h1v1h-1zM258.4 302.1h1v1h-1zM262.9 305.2h1v1h-1zM266.9 310.5h1v1h-1zM256.5 308.2h1v1h-1zM265.2 307h1v1h-1zM254.2 306.6h1v1h-1zM262.1 309.5h1v1h-1zM258.8 306.9h1v1h-1zM267.5 301.6h1v1h-1zM259.8 310h1v1h-1zM259.7 302.7h1v1h-1zM258.7 310.2h1v1h-1zM255.5 311h1v1h-1zM260.1 311.4h1v1h-1zM258.5 307.3h1v1h-1zM264.8 309.1h1v1h-1zM257.9 305.3h1v1h-1zM260.6 306.4h1v1h-1zM256.7 305.3h1v1h-1zM259.9 303.9h1v1h-1zM254.6 306.2h1v1h-1zM267.2 309.3h1v1h-1zM257.5 312.6h1v1h-1zM252.8 303.5h1v1h-1zM265.5 309.5h1v1h-1zM265.5 307.5h1v1h-1zM252.6 301.3h1v1h-1zM261.1 313.9h1v1h-1zM261.7 309.3h1v1h-1zM259.2 302.4h1v1h-1zM267.6 306.3h1v1h-1zM261.8 309.5h1v1h-1zM265.7 310.7h1v1h-1zM266.7 310.5h1v1h-1zM256.8 307h1v1h-1zM263.3 305.4h1v1h-1zM265 308.3h1v1h-1zM254 305.2h1v1h-1zM264 309.6h1v1h-1zM257.9 309.5h1v1h-1zM260.5 307.3h1v1h-1zM260.6 304.6h1v1h-1zM253.3 308.7h1v1h-1zM258.7 301.8h1v1h-1zM260.5 310.5h1v1h-1zM263.9 303h1v1h-1z"/>
<path fill="#c08a08" d="M260.5 289.7h1v1h-1zM253.9 291h1v1h-1zM266.8 308h1v1h-1zM264.6 307h1v1h-1zM264.2 282.7h1v1h-1zM265.4 308.5h1v1h-1zM257.9 286.8h1v1h-1zM265.7 282.7h1v1h-1zM268.6 293.4h1v1h-1zM263.8 307.5h1v1h-1zM263.8 312h1v1h-1zM263.3 286.5h1v1h-1zM253.5 290.7h1v1h-1zM256.1 283h1v1h-1zM262.2 297.2h1v1h-1zM263.7 290.6h1v1h-1zM255.6 305.4h1v1h-1zM262.2 310.6h1v1h-1zM253.2 309.2h1v1h-1zM263 299.2h1v1h-1zM255.4 298.9h1v1h-1zM253.2 282.8h1v1h-1zM262.8 300.7h1v1h-1zM265 300.8h1v1h-1zM251.3 298.9h1v1h-1zM255.1 288.1h1v1h-1zM260.6 312.2h1v1h-1zM250 287.9h1v1h-1zM253 298h1v1h-1zM257.1 311.4h1v1h-1zM259.3 301.5h1v1h-1zM259.5 306.9h1v1h-1zM252 292.2h1v1h-1zM252.1 287.2h1v1h-1zM253.5 293.4h1v1h-1zM254.3 290.1h1v1h-1zM263 296.2h1v1h-1zM266.7 294.9h1v1h-1zM266.5 282.7h1v1h-1zM257.6 298.7h1v1h-1zM248.8 289.9h1v1h-1zM260.3 302.8h1v1h-1zM260.5 300.9h1v1h-1zM265.9 311.2h1v1h-1zM250 290.9h1v1h-1zM264.9 308.6h1v1h-1zM254.8 312.4h1v1h-1zM252.1 299.2h1v1h-1zM261.5 286.8h1v1h-1zM254.8 281.9h1v1h-1zM264.3 285h1v1h-1zM249.2 288.4h1v1h-1zM260.8 301.5h1v1h-1zM258.1 309.4h1v1h-1zM263.3 285.9h1v1h-1zM258.3 284.5h1v1h-1zM251.6 283.6h1v1h-1zM266.4 302.2h1v1h-1zM248.1 286.3h1v1h-1zM259.6 297.6h1v1h-1zM259.1 300.2h1v1h-1zM251.6 299.7h1v1h-1zM258.2 290.7h1v1h-1zM267.8 292.7h1v1h-1zM255.8 298h1v1h-1zM263.7 297.9h1v1h-1zM262.5 301.5h1v1h-1zM263.5 286.2h1v1h-1zM259.1 294.3h1v1h-1zM257.3 293.8h1v1h-1z"/>
<polygon points="246.6,284.4 268.4,278.8 269.5,299.1 267.7,313.8 255,315.2 250.6,297.3" fill="none" stroke="#111" stroke-width="1.1" stroke-linejoin="round"/>
<rect x="232.3" y="225.5" width="112" height="92.6" fill="none" stroke="#333" stroke-width="1.1"/>
<text x="327.9" y="245.6" font-size="9" fill="#383838" text-anchor="middle" font-family='"Liberation Sans", sans-serif' font-weight="normal" textLength="3" lengthAdjust="spacingAndGlyphs" stroke="#383838" stroke-width="0.4">I</text>
<text x="313.9" y="263.1" font-size="9" fill="#383838" text-anchor="middle" font-family='"Liberation Sans", sans-serif' font-weight="normal" textLength="5.9" lengthAdjust="spacingAndGlyphs" stroke="#383838" stroke-width="0.4">II</text>
<text x="293.9" y="274.6" font-size="9" fill="#383838" text-anchor="middle" font-family='"Liberation Sans", sans-serif' font-weight="normal" textLength="7.7" lengthAdjust="spacingAndGlyphs" stroke="#383838" stroke-width="0.4">III</text>
<text x="279.8" y="280" font-size="9" fill="#383838" text-anchor="middle" font-family='"Liberation Sans", sans-serif' font-weight="normal" textLength="8.4" lengthAdjust="spacingAndGlyphs" stroke="#383838" stroke-width="0.4">IV</text>
<text x="241.9" y="267" font-size="9" fill="#383838" text-anchor="middle" font-family='"Liberation Sans", sans-serif' font-weight="normal" textLength="5.9" lengthAdjust="spacingAndGlyphs" stroke="#383838" stroke-width="0.4">V</text>
<text x="243.3" y="302.8" font-size="9" fill="#383838" text-anchor="middle" font-family='"Liberation Sans", sans-serif' font-weight="normal" textLength="8.7" lengthAdjust="spacingAndGlyphs" stroke="#383838" stroke-width="0.4">VI</text>
<text x="244.3" y="223.1" font-size="9.7" fill="#2a2a2a" text-anchor="start" font-family='"Liberation Sans", sans-serif' font-weight="normal" textLength="58.3" lengthAdjust="spacingAndGlyphs" stroke="#2a2a2a" stroke-width="0.1">KO-SPLEEN</text>
<text transform="translate(211.2,271.5) rotate(-90)" font-size="10" font-family='"Liberation Sans", sans-serif' fill="#222" stroke="#222" stroke-width="0.12" text-anchor="middle" textLength="56.5" lengthAdjust="spacingAndGlyphs">CD44 APC-A</text>
<path d="M235.3 318.1v4.6M239.6 318.1v4.6M243.9 318.1v4.6M248.2 318.1v4.6M252.5 318.1v7.4M256.8 318.1v4.6M261.1 318.1v4.6M265.4 318.1v4.6M269.7 318.1v4.6M274 318.1v7.4M278.3 318.1v4.6M282.6 318.1v4.6M286.9 318.1v4.6M291.2 318.1v4.6M295.5 318.1v7.4M299.8 318.1v4.6M304.1 318.1v4.6M308.4 318.1v4.6M312.7 318.1v4.6M317 318.1v7.4M321.3 318.1v4.6M325.6 318.1v4.6M329.9 318.1v4.6M334.2 318.1v4.6M338.5 318.1v7.4M342.8 318.1v4.6M225.3 305.1h7M228.7 298.1h3.6M228.7 294h3.6M228.7 291h3.6M228.7 288.8h3.6M228.7 286.9h3.6M228.7 285.4h3.6M228.7 284h3.6M228.7 282.8h3.6M225.3 281.7h7M228.7 274.7h3.6M228.7 270.6h3.6M228.7 267.7h3.6M228.7 265.4h3.6M228.7 263.6h3.6M228.7 262h3.6M228.7 260.6h3.6M228.7 259.4h3.6M225.3 258.4h7M228.7 251.3h3.6M228.7 247.2h3.6M228.7 244.3h3.6M228.7 242h3.6M228.7 240.2h3.6M228.7 238.6h3.6M228.7 237.3h3.6M228.7 236.1h3.6M225.3 235h7M228.7 228h3.6M228.7 308.3h3.6M228.7 310.7h3.6M228.7 312.9h3.6M228.7 315.1h3.6M228.7 317.5h3.6" stroke="#222" stroke-width="0.9" fill="none"/>
<text x="252.5" y="334.6" font-size="7.6" fill="#222" text-anchor="middle" font-family='"Liberation Sans", sans-serif' font-weight="normal" textLength="8" lengthAdjust="spacingAndGlyphs" stroke="#222" stroke-width="0.3">50</text>
<text x="274" y="334.6" font-size="7.6" fill="#222" text-anchor="middle" font-family='"Liberation Sans", sans-serif' font-weight="normal" textLength="11.2" lengthAdjust="spacingAndGlyphs" stroke="#222" stroke-width="0.3">100</text>
<text x="295.5" y="334.6" font-size="7.6" fill="#222" text-anchor="middle" font-family='"Liberation Sans", sans-serif' font-weight="normal" textLength="11.2" lengthAdjust="spacingAndGlyphs" stroke="#222" stroke-width="0.3">150</text>
<text x="317" y="334.6" font-size="7.6" fill="#222" text-anchor="middle" font-family='"Liberation Sans", sans-serif' font-weight="normal" textLength="11.2" lengthAdjust="spacingAndGlyphs" stroke="#222" stroke-width="0.3">200</text>
<text x="338.5" y="334.6" font-size="7.6" fill="#222" text-anchor="middle" font-family='"Liberation Sans", sans-serif' font-weight="normal" textLength="11.2" lengthAdjust="spacingAndGlyphs" stroke="#222" stroke-width="0.3">250</text>
<text x="272.7" y="346.4" font-size="9.9" fill="#222" text-anchor="start" font-family='"Liberation Sans", sans-serif' font-weight="normal" textLength="30" lengthAdjust="spacingAndGlyphs" stroke="#222" stroke-width="0.2">FSC-A</text>
<text x="312.5" y="343.4" font-size="7.9" fill="#222" text-anchor="start" font-family='"Liberation Sans", sans-serif' font-weight="normal" textLength="31.6" lengthAdjust="spacingAndGlyphs" stroke="#222" stroke-width="0.2">(x 1,000)</text>
<g transform="translate(223.7,310.5) rotate(-90)" font-family='"Liberation Sans", sans-serif' fill="#222" stroke="#222" stroke-width="0.25"><text x="0" y="0" font-size="7.8" textLength="7.4" lengthAdjust="spacingAndGlyphs">10</text><text x="7.6" y="-5.0" font-size="8.2">2</text></g>
<g transform="translate(223.7,287.1) rotate(-90)" font-family='"Liberation Sans", sans-serif' fill="#222" stroke="#222" stroke-width="0.25"><text x="0" y="0" font-size="7.8" textLength="7.4" lengthAdjust="spacingAndGlyphs">10</text><text x="7.6" y="-5.0" font-size="8.2">3</text></g>
<g transform="translate(223.7,263.8) rotate(-90)" font-family='"Liberation Sans", sans-serif' fill="#222" stroke="#222" stroke-width="0.25"><text x="0" y="0" font-size="7.8" textLength="7.4" lengthAdjust="spacingAndGlyphs">10</text><text x="7.6" y="-5.0" font-size="8.2">4</text></g>
<g transform="translate(223.7,240.4) rotate(-90)" font-family='"Liberation Sans", sans-serif' fill="#222" stroke="#222" stroke-width="0.25"><text x="0" y="0" font-size="7.8" textLength="7.4" lengthAdjust="spacingAndGlyphs">10</text><text x="7.6" y="-5.0" font-size="8.2">5</text></g>
<rect x="365.8" y="207.7" width="153.5" height="144.1" fill="none" stroke="#262626" stroke-width="1.2"/>
<path fill="#e0e0e0" d="M480.1 292.2h1v1h-1zM511.4 317h1v1h-1zM490.4 250.5h1v1h-1zM475.9 271.4h1v1h-1zM505.9 267.1h1v1h-1zM441.5 228.9h1v1h-1zM454 274.8h1v1h-1zM436.1 236.1h1v1h-1zM455.5 233h1v1h-1zM421 266.8h1v1h-1zM440.5 271.9h1v1h-1zM460.6 261.8h1v1h-1zM416.8 228.3h1v1h-1zM463.8 314.4h1v1h-1zM433.1 258.4h1v1h-1zM437.3 293.8h1v1h-1zM456.5 298.6h1v1h-1zM402.6 238.6h1v1h-1zM424.8 260h1v1h-1zM446.1 261.5h1v1h-1zM508.7 266.3h1v1h-1zM465.6 313.8h1v1h-1zM472.9 280.4h1v1h-1zM493.5 256.9h1v1h-1zM406 313.3h1v1h-1zM461 279.3h1v1h-1zM409.4 294h1v1h-1zM443.3 284.8h1v1h-1zM433.3 309.7h1v1h-1zM442.8 251.5h1v1h-1zM500.8 246.7h1v1h-1zM431.9 270.7h1v1h-1zM510.4 237.1h1v1h-1zM425.2 298.6h1v1h-1zM410.3 264.1h1v1h-1zM488.5 291.1h1v1h-1zM489.6 237.2h1v1h-1zM500.3 258.9h1v1h-1zM492 269.3h1v1h-1zM500.5 269.9h1v1h-1zM430.5 240.2h1v1h-1zM456.9 231.1h1v1h-1zM420.1 305.8h1v1h-1zM465.4 304.7h1v1h-1zM418.7 270.1h1v1h-1zM453.8 236.4h1v1h-1zM431.1 310h1v1h-1zM482 272.7h1v1h-1zM469.3 304.5h1v1h-1zM507.4 280.4h1v1h-1z"/>
<path fill="#d4d4d4" d="M507.4 262.2h1v1h-1zM495 262.2h1v1h-1zM498.2 263.5h1v1h-1zM484.3 256.2h1v1h-1zM487.7 259.5h1v1h-1zM490 252.9h1v1h-1zM486.5 267.8h1v1h-1zM508.8 254.8h1v1h-1zM495 258.8h1v1h-1zM485.3 262.5h1v1h-1zM491.5 267.2h1v1h-1zM495.6 257.5h1v1h-1zM471.1 258.5h1v1h-1zM498.7 255.5h1v1h-1zM499 262.4h1v1h-1zM478 258h1v1h-1zM494.5 262.7h1v1h-1zM493.2 258.9h1v1h-1zM489.3 257.6h1v1h-1zM492 253.8h1v1h-1zM497.1 257.4h1v1h-1zM496.1 256.5h1v1h-1zM495.2 259.6h1v1h-1zM499 261.3h1v1h-1zM499.4 258.2h1v1h-1zM491.6 257.7h1v1h-1zM482.1 258.4h1v1h-1zM500.6 262.8h1v1h-1zM485.3 260.5h1v1h-1zM497.9 252.3h1v1h-1zM494.8 260.6h1v1h-1zM497.9 260.3h1v1h-1zM478.2 249.1h1v1h-1zM507.7 257.1h1v1h-1zM502.1 265.2h1v1h-1zM492.7 253.4h1v1h-1zM502.8 258.8h1v1h-1zM496.1 261.4h1v1h-1zM499.5 264h1v1h-1zM480.8 252.1h1v1h-1zM493.1 259h1v1h-1zM498.1 258.3h1v1h-1zM490.6 269h1v1h-1zM502.9 264.7h1v1h-1zM500.2 255.1h1v1h-1zM491.3 258.7h1v1h-1zM483.4 254.7h1v1h-1zM493.3 253h1v1h-1zM496.3 261.3h1v1h-1zM490.1 257.3h1v1h-1zM496.8 261.4h1v1h-1zM494.9 253h1v1h-1zM479.2 269.1h1v1h-1zM486.8 257.2h1v1h-1zM477.6 255.1h1v1h-1zM486.2 262.9h1v1h-1zM471.1 252.1h1v1h-1zM488.7 256.6h1v1h-1zM485.9 256.8h1v1h-1zM479.5 260.3h1v1h-1zM501.4 259.8h1v1h-1zM487.8 265.2h1v1h-1zM495.9 253.9h1v1h-1zM487.5 256h1v1h-1zM491.6 265h1v1h-1zM486.4 258.3h1v1h-1zM492.9 253.1h1v1h-1zM488.2 262h1v1h-1zM500.9 249.8h1v1h-1zM497.6 257.6h1v1h-1z"/>
<path fill="#d0d0d0" d="M448.2 279.8h1v1h-1zM490.1 260.8h1v1h-1zM468.1 270.5h1v1h-1zM466.8 267.3h1v1h-1zM480 272.4h1v1h-1zM466.1 278.3h1v1h-1zM482.2 267.6h1v1h-1zM489.6 264.8h1v1h-1zM449 279h1v1h-1zM476.5 272.3h1v1h-1zM451.6 273.9h1v1h-1zM478.8 268.7h1v1h-1zM457.4 281.7h1v1h-1zM474.4 265.2h1v1h-1zM437.9 284.1h1v1h-1zM480.6 270.7h1v1h-1zM491.9 263.1h1v1h-1zM492.8 263.3h1v1h-1zM481.2 267.1h1v1h-1zM472.2 268.5h1v1h-1zM458.1 273.3h1v1h-1zM451.3 284.3h1v1h-1zM489.9 256h1v1h-1zM448 278.4h1v1h-1zM466.6 279.9h1v1h-1zM443.5 275.1h1v1h-1zM495 261.9h1v1h-1zM481.5 261.5h1v1h-1zM478.9 276h1v1h-1zM460.7 277.9h1v1h-1zM490.2 264.2h1v1h-1zM480 263.4h1v1h-1zM453.2 280.3h1v1h-1zM460.7 282.2h1v1h-1zM484.8 270.5h1v1h-1zM497.5 271.1h1v1h-1zM466.8 278.8h1v1h-1zM493.1 263.1h1v1h-1zM479.5 264h1v1h-1zM478.4 268.3h1v1h-1zM486.2 271.2h1v1h-1zM486.4 262.5h1v1h-1zM479.1 268h1v1h-1zM480 271.6h1v1h-1zM458.1 280.9h1v1h-1zM486.3 277.2h1v1h-1zM463 269.5h1v1h-1zM478.1 266h1v1h-1zM482.8 263.1h1v1h-1zM491 270.3h1v1h-1zM473.9 279.5h1v1h-1zM476.4 268.7h1v1h-1zM497.6 266.4h1v1h-1zM477 267h1v1h-1zM460.5 284.2h1v1h-1zM473.7 271.1h1v1h-1zM497.4 268.5h1v1h-1zM449.5 281.4h1v1h-1zM480.8 269.7h1v1h-1zM463.1 286.1h1v1h-1zM453.4 272.8h1v1h-1zM455.7 278.4h1v1h-1zM460.3 277.3h1v1h-1zM481.1 263.6h1v1h-1zM471.6 275.9h1v1h-1zM479.5 267.4h1v1h-1zM453 277.7h1v1h-1zM474.2 272h1v1h-1zM485.9 271.7h1v1h-1zM490.3 274.3h1v1h-1zM502.3 254.8h1v1h-1zM495.8 256.9h1v1h-1zM492.8 258.9h1v1h-1zM483.8 272.7h1v1h-1zM468.4 268.7h1v1h-1zM462.7 276.1h1v1h-1zM447.5 282.5h1v1h-1zM494.1 266.8h1v1h-1zM485.1 263.5h1v1h-1zM457 276.3h1v1h-1z"/>
<path fill="#d4d4d4" d="M443.7 312h1v1h-1zM441.7 300.7h1v1h-1zM449.3 309.5h1v1h-1zM446.9 289.9h1v1h-1zM458.1 308.5h1v1h-1zM453.1 315.8h1v1h-1zM453.3 304.1h1v1h-1zM447.8 306.2h1v1h-1zM436.1 307.9h1v1h-1zM439.3 304.1h1v1h-1zM439 307h1v1h-1zM446.2 305h1v1h-1zM439.7 297.2h1v1h-1zM444.7 297.2h1v1h-1zM442.5 291.5h1v1h-1zM449.5 296.3h1v1h-1zM440.2 303.6h1v1h-1zM440.2 298.3h1v1h-1zM442 291h1v1h-1zM443.7 292h1v1h-1zM437.6 303.4h1v1h-1zM443.3 285.7h1v1h-1zM442.7 301.8h1v1h-1zM447.6 303.7h1v1h-1zM446.5 305.8h1v1h-1zM442.1 292.2h1v1h-1zM448.7 296h1v1h-1zM445.1 306.4h1v1h-1zM450.6 311.9h1v1h-1zM441 296.4h1v1h-1zM448.3 286.1h1v1h-1zM437.6 305.9h1v1h-1zM441.4 291h1v1h-1zM449.8 305.2h1v1h-1zM450.5 296.8h1v1h-1zM443.3 296.7h1v1h-1zM446.8 280.2h1v1h-1zM441 306.9h1v1h-1zM440.4 299.4h1v1h-1z"/>
<polygon points="466.1,242.4 494.1,242.4 494.1,252 466.1,252" fill="url(#redfade)"/>
<path fill="#e42c2c" d="M480.4 249.8h1v1h-1zM476.3 247.2h1v1h-1zM491.3 246.3h1v1h-1zM480.3 248.7h1v1h-1zM486.3 247.4h1v1h-1zM474 247.8h1v1h-1zM476 249.4h1v1h-1zM474.1 248.6h1v1h-1zM489.7 251.2h1v1h-1zM466.7 247.5h1v1h-1zM477 251h1v1h-1zM482.1 251.2h1v1h-1zM473.7 248.5h1v1h-1zM486.6 249.9h1v1h-1zM466.7 248.6h1v1h-1zM480.8 250h1v1h-1zM480.6 251.3h1v1h-1zM482.3 249.1h1v1h-1zM477.4 247.2h1v1h-1zM485.5 250.2h1v1h-1zM486 248.4h1v1h-1zM472.7 248.4h1v1h-1zM477.4 249h1v1h-1zM486.3 247.6h1v1h-1zM476.2 250.1h1v1h-1zM483.2 247.7h1v1h-1zM472.4 247.8h1v1h-1zM480.1 249.4h1v1h-1zM479.1 248.1h1v1h-1zM478.3 248.9h1v1h-1zM483.7 249.1h1v1h-1zM474 247.2h1v1h-1zM489.8 248.9h1v1h-1zM478.4 249h1v1h-1zM487.3 248.5h1v1h-1zM480.8 248.6h1v1h-1zM483.6 247.4h1v1h-1zM481 250.6h1v1h-1zM487.7 250h1v1h-1zM481.6 251.4h1v1h-1zM484.4 251.2h1v1h-1zM471.3 247.3h1v1h-1zM485.1 248.6h1v1h-1zM476.6 247.5h1v1h-1zM489.8 247.2h1v1h-1zM480.3 246.8h1v1h-1zM473.7 246.2h1v1h-1zM482 247.3h1v1h-1zM469.6 250.7h1v1h-1zM474.6 247.4h1v1h-1zM480.7 248.7h1v1h-1zM487.3 249.2h1v1h-1zM490.5 250.8h1v1h-1zM491.8 250.7h1v1h-1zM480.1 249.8h1v1h-1zM479.7 246.6h1v1h-1zM471.5 250.2h1v1h-1zM470.8 248.9h1v1h-1zM472.5 249.4h1v1h-1zM478.2 248.3h1v1h-1zM473.8 245.6h1v1h-1zM480.1 247h1v1h-1zM477.6 249.6h1v1h-1zM486.8 250.1h1v1h-1zM489.7 246.8h1v1h-1zM484.2 251.4h1v1h-1zM482.3 247.3h1v1h-1zM482.3 248.2h1v1h-1zM475.2 250.7h1v1h-1zM478.4 247.3h1v1h-1zM473.8 250h1v1h-1zM480.8 250.8h1v1h-1zM477.7 247.5h1v1h-1zM475.2 247.4h1v1h-1zM477.4 251h1v1h-1zM484.1 248.7h1v1h-1zM483.9 249.4h1v1h-1zM477.5 248.9h1v1h-1zM478.4 250.9h1v1h-1zM482.2 250.2h1v1h-1zM485.8 248h1v1h-1zM480.5 251.1h1v1h-1zM485.9 250.3h1v1h-1zM477.7 248.4h1v1h-1zM473.8 248.6h1v1h-1zM479.2 246.8h1v1h-1zM487.6 247.8h1v1h-1zM481.3 249.9h1v1h-1zM475.8 246.2h1v1h-1zM486.2 249.6h1v1h-1z"/>
<path fill="#fff" d="M483.7 247.7h1v1h-1zM477.1 246.1h1v1h-1zM471.9 251.1h1v1h-1zM467.3 248.9h1v1h-1zM480.7 251h1v1h-1zM489.4 244.8h1v1h-1zM478.1 250h1v1h-1zM477.8 248.3h1v1h-1zM477.5 249.3h1v1h-1zM482.2 250.8h1v1h-1zM484.3 250.6h1v1h-1zM479.9 248.5h1v1h-1zM490.4 247.4h1v1h-1zM469.6 248.5h1v1h-1zM480.5 251h1v1h-1zM478.4 250.8h1v1h-1zM472.8 248.3h1v1h-1zM478.5 246.9h1v1h-1zM478.9 248.7h1v1h-1zM482.3 247.5h1v1h-1zM474 248.4h1v1h-1zM475.1 247.6h1v1h-1zM475.8 246.9h1v1h-1zM481.3 250.8h1v1h-1zM477.5 249.1h1v1h-1z"/>
<rect x="466.1" y="242.4" width="28" height="9.6" fill="none" stroke="#2a2222" stroke-width="1.1"/>
<polygon points="464.1,253.2 478.5,252.6 481.4,254.4 481,258 479,262.3 475.5,264.8 468.6,266.9" fill="#1616e6"/>
<path fill="#9090f8" d="M474 257.7h1v1h-1zM475.9 257.9h1v1h-1zM473.1 261h1v1h-1zM476.5 259.3h1v1h-1zM474.2 260.4h1v1h-1zM474.5 259.3h1v1h-1zM477.1 262.6h1v1h-1zM478.8 258.7h1v1h-1zM480.1 257.2h1v1h-1zM475.5 259.4h1v1h-1zM473 260.1h1v1h-1zM475.3 258.3h1v1h-1zM480 258.3h1v1h-1zM478.4 258.8h1v1h-1zM475.1 254.7h1v1h-1zM477.3 259.7h1v1h-1zM477.7 258.6h1v1h-1zM478 256.2h1v1h-1zM470.2 261.9h1v1h-1zM476.1 256h1v1h-1zM473.6 262.6h1v1h-1zM474.4 260.4h1v1h-1zM479.1 256.7h1v1h-1zM475.2 257.2h1v1h-1zM472.5 258.5h1v1h-1zM478.5 260.1h1v1h-1zM475.3 260.7h1v1h-1zM478.3 254.7h1v1h-1zM474.2 262.9h1v1h-1zM475.9 259.2h1v1h-1z"/>
<polygon points="464.1,253.2 478.5,252.6 481.4,254.4 481,258 479,262.3 475.5,264.8 468.6,266.9" fill="none" stroke="#111" stroke-width="1.1" stroke-linejoin="round"/>
<polygon points="448.7,259.5 464.1,253.6 468.4,266.7 452.4,271.9" fill="#d61ad6"/>
<polygon points="448.7,259.5 464.1,253.6 468.4,266.7 452.4,271.9" fill="none" stroke="#111" stroke-width="1.1" stroke-linejoin="round"/>
<polygon points="431.4,265.2 448.5,259.7 452.2,271.6 439.6,281" fill="#0e6e12"/>
<path fill="#78b878" d="M431 264.8h1v1h-1zM445 263.3h1v1h-1zM445.7 266h1v1h-1zM443 273.9h1v1h-1zM437.7 275h1v1h-1zM442.6 262.1h1v1h-1zM435.9 269.3h1v1h-1zM440.3 262.1h1v1h-1zM437.5 270.7h1v1h-1zM439 280h1v1h-1z"/>
<polygon points="431.4,265.2 448.5,259.7 452.2,271.6 439.6,281" fill="none" stroke="#111" stroke-width="1.1" stroke-linejoin="round"/>
<polygon points="417.2,273.4 421.7,268.9 429.9,265.2 439,281.6 439.9,284.3 418.1,287.9 416.3,279.7" fill="#2a7ef0"/>
<path fill="#eef4fe" d="M420.7 281.5h1v1h-1zM419.6 275.4h1v1h-1zM418.6 276.8h1v1h-1zM427.1 267.4h1v1h-1zM427.8 282.6h1v1h-1zM422.9 270h1v1h-1zM426.8 273.2h1v1h-1zM420.7 276.9h1v1h-1zM417.1 274.2h1v1h-1zM424.6 269.4h1v1h-1zM421 274h1v1h-1zM428.9 276.6h1v1h-1zM423.8 270.5h1v1h-1zM425.7 271.3h1v1h-1zM425 272.7h1v1h-1zM420.6 271.5h1v1h-1zM421.4 276h1v1h-1zM420.3 269.4h1v1h-1zM424.7 274h1v1h-1zM423.6 272.6h1v1h-1zM428.6 275.8h1v1h-1zM422.6 270.7h1v1h-1zM422.4 270h1v1h-1zM433.4 274.4h1v1h-1zM423.5 280.2h1v1h-1zM421.5 270.3h1v1h-1zM427.5 274.7h1v1h-1zM426 276.2h1v1h-1zM418.1 271.9h1v1h-1zM426.4 267.4h1v1h-1zM431.2 274.6h1v1h-1zM420.5 276.2h1v1h-1zM421.6 271.9h1v1h-1zM420.8 268.8h1v1h-1zM425.9 268.2h1v1h-1zM424.3 273.6h1v1h-1zM419.7 274.9h1v1h-1zM429.6 271.4h1v1h-1zM424.1 270.4h1v1h-1zM423 268.2h1v1h-1zM427.1 277.2h1v1h-1zM417.5 273.4h1v1h-1zM421.8 269h1v1h-1zM421.1 271.8h1v1h-1zM422.9 275h1v1h-1zM424 275.6h1v1h-1zM426.4 275.8h1v1h-1zM418.3 273.1h1v1h-1zM430.9 272.6h1v1h-1zM420.4 274.5h1v1h-1zM420.6 269.4h1v1h-1zM428.6 270.3h1v1h-1zM419.9 271.1h1v1h-1zM420.4 275.6h1v1h-1zM424.3 271.2h1v1h-1zM419.8 270.6h1v1h-1zM429.7 270.3h1v1h-1zM423.1 274.2h1v1h-1zM427.6 272.7h1v1h-1zM424.3 272.8h1v1h-1zM426.7 279.5h1v1h-1zM422.5 268.3h1v1h-1zM424.4 271.1h1v1h-1zM424.6 274.5h1v1h-1zM422.3 269.8h1v1h-1zM422.9 268h1v1h-1zM423.7 272h1v1h-1zM421.8 268.8h1v1h-1zM420.9 274.2h1v1h-1zM426.1 266.5h1v1h-1zM426 276.8h1v1h-1zM426.9 272.6h1v1h-1zM421.1 278.3h1v1h-1zM422 272.6h1v1h-1zM431 271.9h1v1h-1zM425.3 269.2h1v1h-1zM428 268.9h1v1h-1zM420.2 271.6h1v1h-1zM418.9 274.9h1v1h-1zM422.3 274.9h1v1h-1zM425.7 274.9h1v1h-1zM419.2 273.1h1v1h-1zM428.1 270.2h1v1h-1zM426.4 274.9h1v1h-1zM432.6 281.5h1v1h-1zM422.3 273.1h1v1h-1zM428.8 275.2h1v1h-1zM428.5 272h1v1h-1zM419.6 271.2h1v1h-1zM422.8 270.3h1v1h-1zM429.3 277.2h1v1h-1zM425.7 270.1h1v1h-1zM422.2 273.7h1v1h-1zM422.5 275.6h1v1h-1zM426.7 271.5h1v1h-1zM424.1 271.8h1v1h-1zM422.4 269.7h1v1h-1zM419.6 276.2h1v1h-1zM420.3 271.3h1v1h-1zM427.3 275.3h1v1h-1zM419.7 272.5h1v1h-1zM423.1 271.5h1v1h-1zM422.3 272.9h1v1h-1zM421.9 269.6h1v1h-1zM429.3 270.6h1v1h-1zM416.8 275.1h1v1h-1zM425.9 273.7h1v1h-1zM426.5 271.2h1v1h-1zM423.7 276.8h1v1h-1zM424.8 271.8h1v1h-1z"/>
<path fill="#a0c8f8" d="M419.9 272.7h1v1h-1zM430.3 283.8h1v1h-1zM434.2 279.4h1v1h-1zM417.8 276.6h1v1h-1zM430.1 280.3h1v1h-1zM420 277.6h1v1h-1zM431.7 274.7h1v1h-1zM425.7 275.3h1v1h-1zM422.4 268.6h1v1h-1zM436.5 277.5h1v1h-1zM432.6 274.9h1v1h-1zM421.6 277.5h1v1h-1zM423.2 283.5h1v1h-1zM416.8 279.2h1v1h-1zM423.8 274.2h1v1h-1zM428.2 277.5h1v1h-1zM420.5 282.6h1v1h-1zM427.3 282h1v1h-1zM432.2 277.2h1v1h-1zM418.9 275.1h1v1h-1zM419 274.6h1v1h-1zM417.2 278.5h1v1h-1zM421.2 269.6h1v1h-1zM429.5 275.8h1v1h-1zM424.1 276.6h1v1h-1zM423.8 283.9h1v1h-1zM434.9 282.7h1v1h-1zM427.4 276h1v1h-1zM427.4 275h1v1h-1zM425.4 276h1v1h-1zM418.3 281.8h1v1h-1zM428.1 268.5h1v1h-1zM420.3 275.5h1v1h-1zM422.1 282.7h1v1h-1zM423.7 285.8h1v1h-1zM423.1 284h1v1h-1zM418.2 280h1v1h-1zM427.2 269.7h1v1h-1zM433.1 277.8h1v1h-1zM418.9 271.2h1v1h-1zM417.4 285.7h1v1h-1zM433.6 275.4h1v1h-1zM420.7 270.5h1v1h-1zM420.3 279h1v1h-1zM429.8 276.5h1v1h-1zM434.1 276.7h1v1h-1zM423.2 279.9h1v1h-1zM427.3 267.9h1v1h-1zM433.4 274.5h1v1h-1zM435.6 279.9h1v1h-1z"/>
<polygon points="417.2,273.4 421.7,268.9 429.9,265.2 439,281.6 439.9,284.3 418.1,287.9 416.3,279.7" fill="none" stroke="#111" stroke-width="1.1" stroke-linejoin="round"/>
<polygon points="418.1,287.9 439.9,284.3 439,312.3 437.1,316 425.4,316.9 419.9,299.7" fill="#d0a430"/>
<path fill="#f8ecc0" d="M438.9 299.5h1v1h-1zM421.3 288.7h1v1h-1zM434 294.8h1v1h-1zM432.3 290.4h1v1h-1zM432.8 306.1h1v1h-1zM432.3 292.6h1v1h-1zM437 310.6h1v1h-1zM432.1 309.5h1v1h-1zM437.4 293.7h1v1h-1zM432.4 285.9h1v1h-1zM427.4 306.3h1v1h-1zM428.2 306h1v1h-1zM432.6 303.6h1v1h-1zM429.1 288.2h1v1h-1zM431.6 294.7h1v1h-1zM433.1 285.2h1v1h-1zM428.8 305.4h1v1h-1zM428.1 310.2h1v1h-1zM428.4 301.2h1v1h-1zM430.9 288.9h1v1h-1zM424.6 313.3h1v1h-1zM435.1 303h1v1h-1zM428.9 301.6h1v1h-1zM432.1 302.4h1v1h-1zM433.9 300.3h1v1h-1zM429.2 293.6h1v1h-1zM423.2 298.4h1v1h-1zM432.7 293.5h1v1h-1zM423.9 300.2h1v1h-1zM438.3 306.5h1v1h-1zM425.3 296.6h1v1h-1zM428.8 312.8h1v1h-1zM432.1 293.7h1v1h-1zM428.3 310.5h1v1h-1zM423 304.2h1v1h-1zM432 309.8h1v1h-1zM426.8 310.7h1v1h-1zM424.4 302.2h1v1h-1zM431.5 303.6h1v1h-1zM427.6 310.2h1v1h-1zM427.8 297.3h1v1h-1zM436.2 303.7h1v1h-1zM428.7 313.6h1v1h-1zM435.1 311.7h1v1h-1zM431.7 314h1v1h-1zM430.2 292.4h1v1h-1zM432.5 289.9h1v1h-1zM424.1 304h1v1h-1zM436.8 299.3h1v1h-1zM434.6 297.2h1v1h-1zM432.2 301.7h1v1h-1zM435 293.8h1v1h-1zM426.9 305.5h1v1h-1zM430 307.2h1v1h-1zM430 290.7h1v1h-1zM436.2 304.9h1v1h-1zM436.2 299.4h1v1h-1zM430.7 313.9h1v1h-1zM435.1 302h1v1h-1zM433 307.9h1v1h-1zM428.7 305h1v1h-1zM427.7 285.8h1v1h-1zM433.5 303.4h1v1h-1zM435.8 307.5h1v1h-1zM436 309.6h1v1h-1zM427.2 313.5h1v1h-1zM426.2 308.7h1v1h-1zM437.1 311.6h1v1h-1zM434.4 306.7h1v1h-1zM438.8 294.5h1v1h-1zM432.6 299.2h1v1h-1zM431.7 301.2h1v1h-1zM431.8 286.5h1v1h-1zM432.3 303.1h1v1h-1zM429 296.6h1v1h-1zM437.2 300.8h1v1h-1zM427.6 306.8h1v1h-1zM429.5 315.9h1v1h-1zM438.1 301.4h1v1h-1zM435.6 295.3h1v1h-1zM424.6 310.1h1v1h-1zM429.9 286.3h1v1h-1zM427.6 300.7h1v1h-1zM438.6 303h1v1h-1zM432.4 302.7h1v1h-1zM436.8 302.2h1v1h-1zM433.3 301.8h1v1h-1zM426.9 314.6h1v1h-1zM429 290.6h1v1h-1zM430.3 302.8h1v1h-1zM436.6 289.2h1v1h-1zM426.1 304.1h1v1h-1zM434.4 292.6h1v1h-1zM426.8 304.1h1v1h-1zM431.8 287.9h1v1h-1zM428.1 315.9h1v1h-1zM427.2 312h1v1h-1zM424.8 315.9h1v1h-1zM429.1 308.2h1v1h-1zM426.3 307.5h1v1h-1zM438.6 304.9h1v1h-1zM434.1 301.1h1v1h-1zM437.6 295.1h1v1h-1zM430.9 287.7h1v1h-1zM430.3 304.6h1v1h-1zM438.8 287.9h1v1h-1zM431.9 296.3h1v1h-1zM426.5 302.5h1v1h-1zM428.7 310.4h1v1h-1zM435.1 299.4h1v1h-1z"/>
<path fill="#a07810" d="M434.4 296.2h1v1h-1zM430.6 302.2h1v1h-1zM433.7 293.6h1v1h-1zM432.4 295.8h1v1h-1zM434.7 299.9h1v1h-1zM437.1 300.9h1v1h-1zM431.7 310.9h1v1h-1zM437 296.4h1v1h-1zM433.4 310.9h1v1h-1zM425.5 297.5h1v1h-1zM425.6 295h1v1h-1zM426.6 311.4h1v1h-1zM434.8 302h1v1h-1zM431.6 293.6h1v1h-1zM434.3 312.3h1v1h-1zM425.9 300.1h1v1h-1zM422.4 292h1v1h-1zM436.2 304.7h1v1h-1zM427.3 304.7h1v1h-1zM425.4 302.6h1v1h-1zM421.6 301.5h1v1h-1zM424.7 292.4h1v1h-1zM433.7 295.6h1v1h-1zM433.8 308.2h1v1h-1zM436 301.8h1v1h-1zM430.2 306.1h1v1h-1zM429.6 313.4h1v1h-1zM431 297.1h1v1h-1zM437.4 313h1v1h-1zM431.2 297.2h1v1h-1zM430.1 310.9h1v1h-1zM424.4 292h1v1h-1zM418.4 287.3h1v1h-1zM423.4 301h1v1h-1zM438.1 289.4h1v1h-1zM423.9 296h1v1h-1zM431.6 295.3h1v1h-1zM432.2 288.7h1v1h-1zM433.4 288.2h1v1h-1zM432.7 289h1v1h-1zM419.5 295.3h1v1h-1zM436.7 313.5h1v1h-1zM434 304.6h1v1h-1zM430.3 300.5h1v1h-1zM431.9 300h1v1h-1zM426.3 311.1h1v1h-1zM424.2 297h1v1h-1zM432.4 315.2h1v1h-1zM425.1 297.9h1v1h-1zM426.4 290.6h1v1h-1z"/>
<polygon points="418.1,287.9 439.9,284.3 439,312.3 437.1,316 425.4,316.9 419.9,299.7" fill="none" stroke="#111" stroke-width="1.1" stroke-linejoin="round"/>
<rect x="401" y="225.6" width="112.5" height="92.5" fill="none" stroke="#333" stroke-width="1.1"/>
<text x="499.8" y="250.3" font-size="9" fill="#383838" text-anchor="middle" font-family='"Liberation Sans", sans-serif' font-weight="normal" textLength="3" lengthAdjust="spacingAndGlyphs" stroke="#383838" stroke-width="0.4">I</text>
<text x="483.1" y="268.4" font-size="9" fill="#383838" text-anchor="middle" font-family='"Liberation Sans", sans-serif' font-weight="normal" textLength="5.8" lengthAdjust="spacingAndGlyphs" stroke="#383838" stroke-width="0.4">II</text>
<text x="465.1" y="279.4" font-size="9" fill="#383838" text-anchor="middle" font-family='"Liberation Sans", sans-serif' font-weight="normal" textLength="8.2" lengthAdjust="spacingAndGlyphs" stroke="#383838" stroke-width="0.4">III</text>
<text x="450.6" y="288.6" font-size="9" fill="#383838" text-anchor="middle" font-family='"Liberation Sans", sans-serif' font-weight="normal" textLength="8.5" lengthAdjust="spacingAndGlyphs" stroke="#383838" stroke-width="0.4">IV</text>
<text x="412.2" y="272.5" font-size="9" fill="#383838" text-anchor="middle" font-family='"Liberation Sans", sans-serif' font-weight="normal" textLength="6.8" lengthAdjust="spacingAndGlyphs" stroke="#383838" stroke-width="0.4">V</text>
<text x="413.1" y="306.9" font-size="9" fill="#383838" text-anchor="middle" font-family='"Liberation Sans", sans-serif' font-weight="normal" textLength="8.6" lengthAdjust="spacingAndGlyphs" stroke="#383838" stroke-width="0.4">VI</text>
<text x="392.7" y="223.5" font-size="9.7" fill="#2a2a2a" text-anchor="start" font-family='"Liberation Sans", sans-serif' font-weight="normal" textLength="98.5" lengthAdjust="spacingAndGlyphs" stroke="#2a2a2a" stroke-width="0.1">phlebotomy-SPLEEN</text>
<text transform="translate(378.7,271.3) rotate(-90)" font-size="10" font-family='"Liberation Sans", sans-serif' fill="#222" stroke="#222" stroke-width="0.12" text-anchor="middle" textLength="27.7" lengthAdjust="spacingAndGlyphs">APC-A</text>
<path d="M405.2 318.1v4.6M409.4 318.1v4.6M413.7 318.1v4.6M418 318.1v4.6M422.2 318.1v7.4M426.5 318.1v4.6M430.8 318.1v4.6M435 318.1v4.6M439.3 318.1v4.6M443.5 318.1v7.4M447.8 318.1v4.6M452.1 318.1v4.6M456.3 318.1v4.6M460.6 318.1v4.6M464.9 318.1v7.4M469.1 318.1v4.6M473.4 318.1v4.6M477.7 318.1v4.6M481.9 318.1v4.6M486.2 318.1v7.4M490.5 318.1v4.6M494.7 318.1v4.6M499 318.1v4.6M503.3 318.1v4.6M507.5 318.1v7.4M511.8 318.1v4.6M394 305.1h7M397.4 298.1h3.6M397.4 294h3.6M397.4 291.1h3.6M397.4 288.8h3.6M397.4 286.9h3.6M397.4 285.4h3.6M397.4 284h3.6M397.4 282.8h3.6M394 281.8h7M397.4 274.7h3.6M397.4 270.6h3.6M397.4 267.7h3.6M397.4 265.5h3.6M397.4 263.6h3.6M397.4 262h3.6M397.4 260.7h3.6M397.4 259.5h3.6M394 258.4h7M397.4 251.4h3.6M397.4 247.3h3.6M397.4 244.4h3.6M397.4 242.1h3.6M397.4 240.3h3.6M397.4 238.7h3.6M397.4 237.4h3.6M397.4 236.2h3.6M394 235.1h7M397.4 228.1h3.6M397.4 308.3h3.6M397.4 310.7h3.6M397.4 312.9h3.6M397.4 315.1h3.6M397.4 317.5h3.6" stroke="#222" stroke-width="0.9" fill="none"/>
<text x="422.2" y="334.6" font-size="7.6" fill="#222" text-anchor="middle" font-family='"Liberation Sans", sans-serif' font-weight="normal" textLength="8" lengthAdjust="spacingAndGlyphs" stroke="#222" stroke-width="0.3">50</text>
<text x="443.5" y="334.6" font-size="7.6" fill="#222" text-anchor="middle" font-family='"Liberation Sans", sans-serif' font-weight="normal" textLength="11.2" lengthAdjust="spacingAndGlyphs" stroke="#222" stroke-width="0.3">100</text>
<text x="464.9" y="334.6" font-size="7.6" fill="#222" text-anchor="middle" font-family='"Liberation Sans", sans-serif' font-weight="normal" textLength="11.2" lengthAdjust="spacingAndGlyphs" stroke="#222" stroke-width="0.3">150</text>
<text x="486.2" y="334.6" font-size="7.6" fill="#222" text-anchor="middle" font-family='"Liberation Sans", sans-serif' font-weight="normal" textLength="11.2" lengthAdjust="spacingAndGlyphs" stroke="#222" stroke-width="0.3">200</text>
<text x="507.5" y="334.6" font-size="7.6" fill="#222" text-anchor="middle" font-family='"Liberation Sans", sans-serif' font-weight="normal" textLength="11.2" lengthAdjust="spacingAndGlyphs" stroke="#222" stroke-width="0.3">250</text>
<text x="441.6" y="346.4" font-size="9.9" fill="#222" text-anchor="start" font-family='"Liberation Sans", sans-serif' font-weight="normal" textLength="30" lengthAdjust="spacingAndGlyphs" stroke="#222" stroke-width="0.2">FSC-A</text>
<text x="481.7" y="343.4" font-size="7.9" fill="#222" text-anchor="start" font-family='"Liberation Sans", sans-serif' font-weight="normal" textLength="31.6" lengthAdjust="spacingAndGlyphs" stroke="#222" stroke-width="0.2">(x 1,000)</text>
<g transform="translate(392.4,310.5) rotate(-90)" font-family='"Liberation Sans", sans-serif' fill="#222" stroke="#222" stroke-width="0.25"><text x="0" y="0" font-size="7.8" textLength="7.4" lengthAdjust="spacingAndGlyphs">10</text><text x="7.6" y="-5.0" font-size="8.2">2</text></g>
<g transform="translate(392.4,287.2) rotate(-90)" font-family='"Liberation Sans", sans-serif' fill="#222" stroke="#222" stroke-width="0.25"><text x="0" y="0" font-size="7.8" textLength="7.4" lengthAdjust="spacingAndGlyphs">10</text><text x="7.6" y="-5.0" font-size="8.2">3</text></g>
<g transform="translate(392.4,263.8) rotate(-90)" font-family='"Liberation Sans", sans-serif' fill="#222" stroke="#222" stroke-width="0.25"><text x="0" y="0" font-size="7.8" textLength="7.4" lengthAdjust="spacingAndGlyphs">10</text><text x="7.6" y="-5.0" font-size="8.2">4</text></g>
<g transform="translate(392.4,240.5) rotate(-90)" font-family='"Liberation Sans", sans-serif' fill="#222" stroke="#222" stroke-width="0.25"><text x="0" y="0" font-size="7.8" textLength="7.4" lengthAdjust="spacingAndGlyphs">10</text><text x="7.6" y="-5.0" font-size="8.2">5</text></g>
</svg>
</body></html>
